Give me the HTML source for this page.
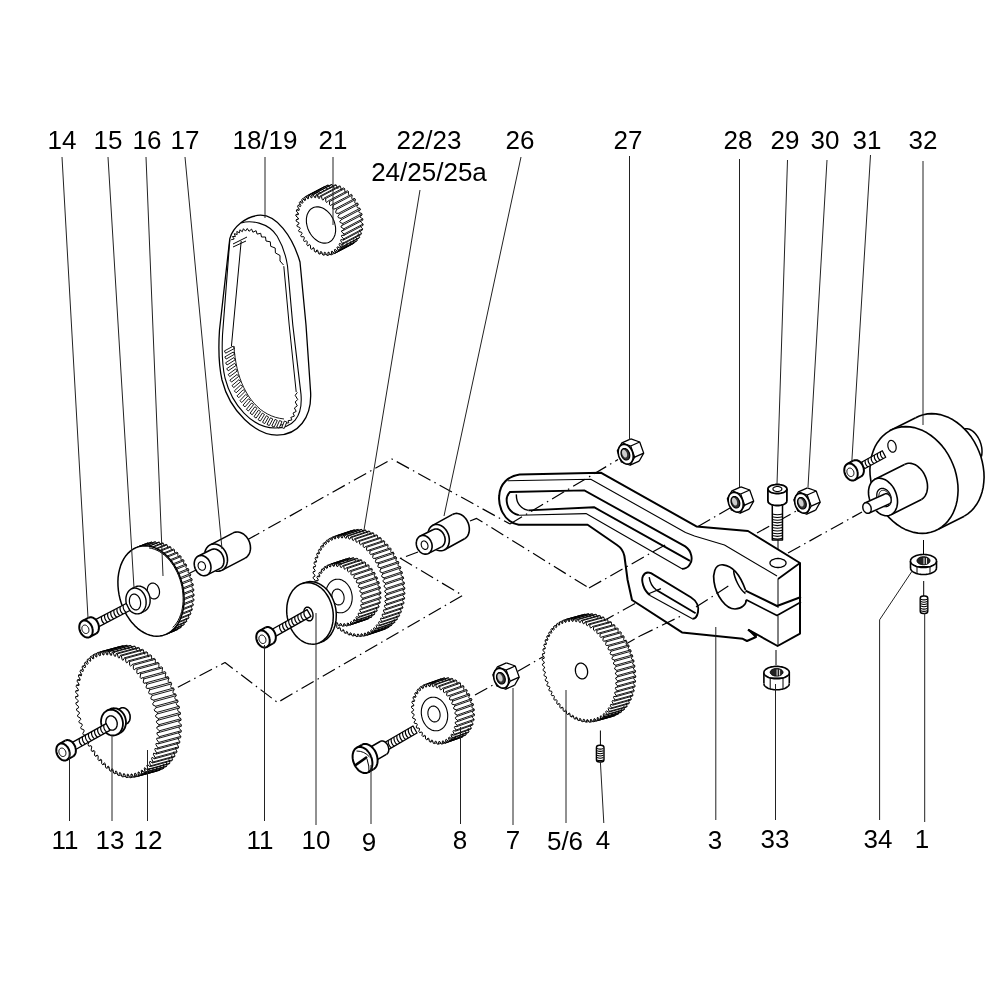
<!DOCTYPE html><html><head><meta charset="utf-8"><style>html,body{margin:0;padding:0;background:#fff;width:1000px;height:1000px;overflow:hidden;position:relative}</style></head><body><svg width="1000" height="1000" viewBox="0 0 1000 1000" style="position:absolute;left:0;top:0;will-change:transform">
<rect width="1000" height="1000" fill="#fff"/>
<polyline points="247.0,540.0 392.0,459.0 510.0,524.0" fill="none" stroke="#000" stroke-width="1.2" stroke-linejoin="round" stroke-dasharray="14 4.5 1.5 4.5"/>
<polyline points="470.0,521.0 476.6,518.4 589.0,588.0" fill="none" stroke="#000" stroke-width="1.2" stroke-linejoin="round" stroke-dasharray="14 4.5 1.5 4.5"/>
<polyline points="383.0,565.0 418.0,552.0" fill="none" stroke="#000" stroke-width="1.2" stroke-linejoin="round" stroke-dasharray="14 4.5 1.5 4.5"/>
<polyline points="400.0,558.0 462.6,595.4 277.5,702.5 225.0,662.5 172.5,690.0" fill="none" stroke="#000" stroke-width="1.2" stroke-linejoin="round" stroke-dasharray="14 4.5 1.5 4.5"/>
<polyline points="188.0,574.0 200.0,568.0" fill="none" stroke="#000" stroke-width="1.2" stroke-linejoin="round" stroke-dasharray="14 4.5 1.5 4.5"/>
<polyline points="580.0,670.5 640.0,636.0" fill="none" stroke="#000" stroke-width="1.2" stroke-linejoin="round" stroke-dasharray="14 4.5 1.5 4.5"/>
<polyline points="475.0,695.0 520.0,670.0 548.0,654.0" fill="none" stroke="#000" stroke-width="1.2" stroke-linejoin="round" stroke-dasharray="14 4.5 1.5 4.5"/>
<polyline points="757.0,533.0 798.0,510.0" fill="none" stroke="#000" stroke-width="1.2" stroke-linejoin="round" stroke-dasharray="14 4.5 1.5 4.5"/>
<line x1="778.0" y1="540.0" x2="778.0" y2="562.0" stroke="#000" stroke-width="1.0" />
<line x1="923.5" y1="540.0" x2="923.5" y2="555.0" stroke="#000" stroke-width="1.0" />
<line x1="923.7" y1="581.0" x2="923.7" y2="596.0" stroke="#000" stroke-width="1.0" />
<line x1="776.0" y1="650.0" x2="776.0" y2="665.0" stroke="#000" stroke-width="1.0" />
<line x1="600.4" y1="730.5" x2="600.4" y2="745.5" stroke="#000" stroke-width="1.0" />
<path d="M229.8,238.6 C233,227 246,216 260.4,215.2 C276,215 292,235 300,262 L306,325 L310.6,392 C312,418 298,435 277,435.2 C256,435 230,412 222,380 C218,362 218.5,345 219.5,330 Z" fill="#fff" stroke="#000" stroke-width="1.3"/>
<path d="M241.2,223 C250,220 268,222 277.2,236.2 C283,246 286,256 287.5,266 L292.8,325 L301,394.4 C303,418 292,428 275,428 C252,428 232,405 225,378 C222,365 221.8,350 222.5,335 L229.8,240" fill="none" stroke="#000" stroke-width="1.1"/>
<polyline points="231.2,239.7 234.2,239.0 232.4,236.5 235.4,236.6 234.3,233.7 237.2,234.5 236.8,231.5 239.5,232.8 239.9,229.8 242.3,231.7 243.4,228.7 245.5,231.1 247.3,228.5 249.0,231.3 251.6,229.1 252.9,232.2 256.1,230.7 257.1,234.1 260.7,233.3 261.5,237.0 265.5,237.0 266.0,241.0 270.3,241.8 270.7,246.3 275.2,248.0 275.4,252.9 280.0,255.5 280.0,261.0 283.5,265.0" fill="none" stroke="#000" stroke-width="1.0" stroke-linejoin="round" />
<polyline points="233.0,244.0 247.0,237.0" fill="none" stroke="#000" stroke-width="1.0" stroke-linejoin="round" />
<polyline points="233.0,247.0 246.0,241.0" fill="none" stroke="#000" stroke-width="1.0" stroke-linejoin="round" />
<polyline points="241.2,241.0 233.4,325.0 231.4,346.4" fill="none" stroke="#000" stroke-width="1.0" stroke-linejoin="round" />
<polyline points="283.8,266.2 289.2,325.0 296.2,392.0" fill="none" stroke="#000" stroke-width="1.0" stroke-linejoin="round" />
<polyline points="297.4,392.4 295.2,395.3 297.7,399.5 295.2,402.0 297.3,405.8 294.4,408.0 296.2,411.4 293.0,413.1 294.4,416.1 290.8,417.4 291.9,419.9 288.0,420.8 288.8,422.8 284.6,423.3 285.0,424.9 280.5,424.8 280.6,426.0" fill="none" stroke="#000" stroke-width="1.0" stroke-linejoin="round" />
<path d="M224.4,350.9l8.8,-4.7l1.2,2.3l-8.8,4.7zM224.8,356.9l8.5,-4.9l1.3,2.2l-8.5,4.9zM225.6,362.8l8.2,-5.2l1.4,2.2l-8.2,5.2zM226.7,368.7l7.9,-5.4l1.5,2.1l-7.9,5.4zM228.2,374.5l7.5,-5.6l1.5,2.1l-7.5,5.6zM229.9,380.1l7.2,-5.7l1.6,2.0l-7.2,5.7zM232.0,385.6l6.9,-5.9l1.7,2.0l-6.9,5.9zM234.3,390.9l6.5,-6.0l1.8,1.9l-6.5,6.0zM237.0,395.9l6.2,-6.2l1.8,1.8l-6.2,6.2zM239.9,400.7l5.9,-6.3l1.9,1.8l-5.9,6.3zM243.0,405.2l5.5,-6.4l2.0,1.7l-5.5,6.4zM246.4,409.4l5.2,-6.4l2.0,1.6l-5.2,6.4zM250.1,413.2l4.8,-6.5l2.1,1.6l-4.8,6.5zM254.0,416.6l4.5,-6.5l2.1,1.5l-4.5,6.5zM258.1,419.7l4.2,-6.6l2.2,1.4l-4.2,6.6zM262.5,422.3l3.9,-6.6l2.2,1.3l-3.9,6.6zM267.0,424.4l3.5,-6.6l2.3,1.2l-3.5,6.6zM271.8,426.0l3.2,-6.6l2.3,1.1l-3.2,6.6zM276.7,427.0l2.9,-6.5l2.4,1.1l-2.9,6.5zM281.8,427.5l2.6,-6.5l2.4,1.0l-2.6,6.5z" stroke="#000" stroke-width="0.9" fill="#fff"/>
<polyline points="234.0,346.0 234.4,351.8 235.1,357.4 236.0,362.9 237.1,368.3 238.4,373.4 240.0,378.4 241.8,383.2 243.8,387.7 246.1,392.0 248.5,396.0 251.2,399.8 254.0,403.2 257.1,406.4 260.3,409.3 263.8,411.8 267.5,414.0 271.3,415.8 275.4,417.3 279.6,418.3 284.0,419.0" fill="none" stroke="#000" stroke-width="0.9" stroke-linejoin="round" />
<path d="M334.4,253.6L335.2,253.1L354.2,243.1L353.4,243.6ZM335.2,253.1L334.4,249.8L353.4,239.8L354.2,243.1ZM334.4,249.8L335.1,249.3L354.1,239.3L353.4,239.8ZM337.5,251.3L338.2,250.6L357.2,240.6L356.5,241.3ZM338.2,250.6L337.0,247.4L356.0,237.4L357.2,240.6ZM337.0,247.4L337.6,246.7L356.6,236.7L356.0,237.4ZM340.1,248.2L340.7,247.4L359.7,237.4L359.1,238.2ZM340.7,247.4L339.1,244.3L358.1,234.3L359.7,237.4ZM339.1,244.3L339.5,243.4L358.5,233.4L358.1,234.3ZM342.1,244.5L342.5,243.4L361.5,233.4L361.1,234.5ZM342.5,243.4L340.6,240.6L359.6,230.6L361.5,233.4ZM340.6,240.6L340.9,239.6L359.9,229.6L359.6,230.6ZM343.4,240.1L343.7,238.9L362.7,228.9L362.4,230.1ZM343.7,238.9L341.5,236.5L360.5,226.5L362.7,228.9ZM341.5,236.5L341.6,235.4L360.6,225.4L360.5,226.5ZM344.1,235.3L344.1,234.0L363.1,224.0L363.1,225.3ZM344.1,234.0L341.7,232.0L360.7,222.0L363.1,224.0ZM341.7,232.0L341.6,230.8L360.6,220.8L360.7,222.0ZM343.9,230.1L343.8,228.8L362.8,218.8L362.9,220.1ZM343.8,228.8L341.2,227.3L360.2,217.3L362.8,218.8ZM341.2,227.3L341.0,226.1L360.0,216.1L360.2,217.3ZM341.0,226.1L343.1,224.9L362.1,214.9L360.0,216.1ZM343.1,224.9L342.8,223.5L361.8,213.5L362.1,214.9ZM342.8,223.5L340.2,222.5L359.2,212.5L361.8,213.5ZM340.2,222.5L339.8,221.3L358.8,211.3L359.2,212.5ZM339.8,221.3L341.5,219.6L360.5,209.6L358.8,211.3ZM341.5,219.6L341.0,218.3L360.0,208.3L360.5,209.6ZM341.0,218.3L338.5,217.8L357.5,207.8L360.0,208.3ZM338.5,217.8L337.9,216.6L356.9,206.6L357.5,207.8ZM337.9,216.6L339.3,214.4L358.3,204.4L356.9,206.6ZM339.3,214.4L338.7,213.2L357.7,203.2L358.3,204.4ZM338.7,213.2L336.2,213.3L355.2,203.3L357.7,203.2ZM336.2,213.3L335.6,212.2L354.6,202.2L355.2,203.3ZM335.6,212.2L336.5,209.6L355.5,199.6L354.6,202.2ZM336.5,209.6L335.8,208.5L354.8,198.5L355.5,199.6ZM335.8,208.5L333.5,209.2L352.5,199.2L354.8,198.5ZM333.5,209.2L332.7,208.2L351.7,198.2L352.5,199.2ZM332.7,208.2L333.2,205.3L352.2,195.3L351.7,198.2ZM333.2,205.3L332.4,204.3L351.4,194.3L352.2,195.3ZM330.3,205.5L329.5,204.7L348.5,194.7L349.3,195.5ZM329.5,204.7L329.5,201.6L348.5,191.6L348.5,194.7ZM329.5,201.6L328.6,200.7L347.6,190.7L348.5,191.6ZM326.8,202.5L325.9,201.8L344.9,191.8L345.8,192.5ZM325.9,201.8L325.6,198.6L344.6,188.6L344.9,191.8ZM325.6,198.6L324.5,197.9L343.5,187.9L344.6,188.6ZM323.1,200.1L322.2,199.6L341.2,189.6L342.1,190.1ZM322.2,199.6L321.4,196.3L340.4,186.3L341.2,189.6ZM321.4,196.3L320.4,195.9L339.4,185.9L340.4,186.3ZM319.4,198.5L318.4,198.2L337.4,188.2L338.4,188.5ZM318.4,198.2L317.2,195.0L336.2,185.0L337.4,188.2ZM317.2,195.0L316.2,194.8L335.2,184.8L336.2,185.0ZM315.6,197.7L314.7,197.6L333.7,187.6L334.6,187.7ZM314.7,197.6L313.1,194.5L332.1,184.5L333.7,187.6ZM313.1,194.5L312.1,194.6L331.1,184.6L332.1,184.5ZM312.0,197.7L311.1,197.8L330.1,187.8L331.0,187.7ZM311.1,197.8L309.2,195.0L328.2,185.0L330.1,187.8ZM309.2,195.0L308.3,195.3L327.3,185.3L328.2,185.0ZM308.6,198.6L307.8,198.9L326.8,188.9L327.6,188.6ZM307.8,198.9L305.6,196.4L324.6,186.4L326.8,188.9ZM304.9,200.7L302.5,198.7L321.5,188.7L323.9,190.7ZM302.4,203.3L299.9,201.8L318.9,191.8L321.4,193.3ZM300.5,206.6L297.9,205.5L316.9,195.5L319.5,196.6ZM299.1,210.4L296.6,209.9L315.6,199.9L318.1,200.4ZM298.4,214.6L295.9,214.7L314.9,204.7L317.4,204.6ZM298.4,219.2L296.1,219.9L315.1,209.9L317.4,209.2ZM307.6,245.7L309.7,244.5L328.7,234.5L326.6,235.7ZM311.4,249.3L313.2,247.5L332.2,237.5L330.4,239.3ZM315.5,252.1L316.9,249.9L335.9,239.9L334.5,242.1ZM319.6,254.1L320.6,251.5L339.6,241.5L338.6,244.1ZM323.8,255.2L324.4,252.3L343.4,242.3L342.8,245.2ZM327.9,255.4L328.0,252.3L347.0,242.3L346.9,245.4ZM331.7,254.7L331.4,251.4L350.4,241.4L350.7,244.7Z" fill="#fff" stroke="#fff" stroke-width="0.8"/>
<polyline points="353.4,243.6 354.2,243.1 353.4,239.8 354.1,239.3" fill="none" stroke="#000" stroke-width="0.9" stroke-linejoin="round" />
<polyline points="356.5,241.3 357.2,240.6 356.0,237.4 356.6,236.7" fill="none" stroke="#000" stroke-width="0.9" stroke-linejoin="round" />
<polyline points="359.1,238.2 359.7,237.4 358.1,234.3 358.5,233.4" fill="none" stroke="#000" stroke-width="0.9" stroke-linejoin="round" />
<polyline points="361.1,234.5 361.5,233.4 359.6,230.6 359.9,229.6" fill="none" stroke="#000" stroke-width="0.9" stroke-linejoin="round" />
<polyline points="362.4,230.1 362.7,228.9 360.5,226.5 360.6,225.4" fill="none" stroke="#000" stroke-width="0.9" stroke-linejoin="round" />
<polyline points="363.1,225.3 363.1,224.0 360.7,222.0 360.6,220.8" fill="none" stroke="#000" stroke-width="0.9" stroke-linejoin="round" />
<polyline points="362.9,220.1 362.8,218.8 360.2,217.3 360.0,216.1 362.1,214.9 361.8,213.5 359.2,212.5 358.8,211.3 360.5,209.6 360.0,208.3 357.5,207.8 356.9,206.6 358.3,204.4 357.7,203.2 355.2,203.3 354.6,202.2 355.5,199.6 354.8,198.5 352.5,199.2 351.7,198.2 352.2,195.3 351.4,194.3" fill="none" stroke="#000" stroke-width="0.9" stroke-linejoin="round" />
<polyline points="349.3,195.5 348.5,194.7 348.5,191.6 347.6,190.7" fill="none" stroke="#000" stroke-width="0.9" stroke-linejoin="round" />
<polyline points="345.8,192.5 344.9,191.8 344.6,188.6 343.5,187.9" fill="none" stroke="#000" stroke-width="0.9" stroke-linejoin="round" />
<polyline points="342.1,190.1 341.2,189.6 340.4,186.3 339.4,185.9" fill="none" stroke="#000" stroke-width="0.9" stroke-linejoin="round" />
<polyline points="338.4,188.5 337.4,188.2 336.2,185.0 335.2,184.8" fill="none" stroke="#000" stroke-width="0.9" stroke-linejoin="round" />
<polyline points="334.6,187.7 333.7,187.6 332.1,184.5 331.1,184.6" fill="none" stroke="#000" stroke-width="0.9" stroke-linejoin="round" />
<polyline points="331.0,187.7 330.1,187.8 328.2,185.0 327.3,185.3" fill="none" stroke="#000" stroke-width="0.9" stroke-linejoin="round" />
<polyline points="327.6,188.6 326.8,188.9 324.6,186.4" fill="none" stroke="#000" stroke-width="0.9" stroke-linejoin="round" />
<polyline points="323.9,190.7 321.5,188.7" fill="none" stroke="#000" stroke-width="0.9" stroke-linejoin="round" />
<polyline points="321.4,193.3 318.9,191.8" fill="none" stroke="#000" stroke-width="0.9" stroke-linejoin="round" />
<polyline points="319.5,196.6 316.9,195.5" fill="none" stroke="#000" stroke-width="0.9" stroke-linejoin="round" />
<polyline points="318.1,200.4 315.6,199.9" fill="none" stroke="#000" stroke-width="0.9" stroke-linejoin="round" />
<polyline points="317.4,204.6 314.9,204.7" fill="none" stroke="#000" stroke-width="0.9" stroke-linejoin="round" />
<polyline points="317.4,209.2 315.1,209.9" fill="none" stroke="#000" stroke-width="0.9" stroke-linejoin="round" />
<polyline points="326.6,235.7 328.7,234.5" fill="none" stroke="#000" stroke-width="0.9" stroke-linejoin="round" />
<polyline points="330.4,239.3 332.2,237.5" fill="none" stroke="#000" stroke-width="0.9" stroke-linejoin="round" />
<polyline points="334.5,242.1 335.9,239.9" fill="none" stroke="#000" stroke-width="0.9" stroke-linejoin="round" />
<polyline points="338.6,244.1 339.6,241.5" fill="none" stroke="#000" stroke-width="0.9" stroke-linejoin="round" />
<polyline points="342.8,245.2 343.4,242.3" fill="none" stroke="#000" stroke-width="0.9" stroke-linejoin="round" />
<polyline points="346.9,245.4 347.0,242.3" fill="none" stroke="#000" stroke-width="0.9" stroke-linejoin="round" />
<polyline points="350.7,244.7 350.4,241.4" fill="none" stroke="#000" stroke-width="0.9" stroke-linejoin="round" />
<path d="M334.4,253.6l19.0,-10.0M335.2,253.1l19.0,-10.0M337.5,251.3l19.0,-10.0M338.2,250.6l19.0,-10.0M340.1,248.2l19.0,-10.0M340.7,247.4l19.0,-10.0M342.1,244.5l19.0,-10.0M342.5,243.4l19.0,-10.0M343.4,240.1l19.0,-10.0M343.7,238.9l19.0,-10.0M344.1,235.3l19.0,-10.0M344.1,234.0l19.0,-10.0M343.9,230.1l19.0,-10.0M343.8,228.8l19.0,-10.0M343.1,224.9l19.0,-10.0M342.8,223.5l19.0,-10.0M341.5,219.6l19.0,-10.0M341.0,218.3l19.0,-10.0M339.3,214.4l19.0,-10.0M338.7,213.2l19.0,-10.0M336.5,209.6l19.0,-10.0M335.8,208.5l19.0,-10.0M333.2,205.3l19.0,-10.0M332.4,204.3l19.0,-10.0M329.5,201.6l19.0,-10.0M328.6,200.7l19.0,-10.0M325.6,198.6l19.0,-10.0M324.5,197.9l19.0,-10.0M321.4,196.3l19.0,-10.0M320.4,195.9l19.0,-10.0M317.2,195.0l19.0,-10.0M316.2,194.8l19.0,-10.0M313.1,194.5l19.0,-10.0M312.1,194.6l19.0,-10.0M309.2,195.0l19.0,-10.0M308.3,195.3l19.0,-10.0M305.6,196.4l19.0,-10.0M302.5,198.7l19.0,-10.0M299.9,201.8l19.0,-10.0M297.9,205.5l19.0,-10.0M296.6,209.9l19.0,-10.0M295.9,214.7l19.0,-10.0M296.1,219.9l19.0,-10.0M307.6,245.7l19.0,-10.0M311.4,249.3l19.0,-10.0M315.5,252.1l19.0,-10.0M319.6,254.1l19.0,-10.0M323.8,255.2l19.0,-10.0M327.9,255.4l19.0,-10.0M331.7,254.7l19.0,-10.0" fill="none" stroke="#000" stroke-width="0.9"/>
<polygon points="332.2,251.1 334.4,253.6 335.2,253.1 334.4,249.8 335.1,249.3 337.5,251.3 338.2,250.6 337.0,247.4 337.6,246.7 340.1,248.2 340.7,247.4 339.1,244.3 339.5,243.4 342.1,244.5 342.5,243.4 340.6,240.6 340.9,239.6 343.4,240.1 343.7,238.9 341.5,236.5 341.6,235.4 344.1,235.3 344.1,234.0 341.7,232.0 341.6,230.8 343.9,230.1 343.8,228.8 341.2,227.3 341.0,226.1 343.1,224.9 342.8,223.5 340.2,222.5 339.8,221.3 341.5,219.6 341.0,218.3 338.5,217.8 337.9,216.6 339.3,214.4 338.7,213.2 336.2,213.3 335.6,212.2 336.5,209.6 335.8,208.5 333.5,209.2 332.7,208.2 333.2,205.3 332.4,204.3 330.3,205.5 329.5,204.7 329.5,201.6 328.6,200.7 326.8,202.5 325.9,201.8 325.6,198.6 324.5,197.9 323.1,200.1 322.2,199.6 321.4,196.3 320.4,195.9 319.4,198.5 318.4,198.2 317.2,195.0 316.2,194.8 315.6,197.7 314.7,197.6 313.1,194.5 312.1,194.6 312.0,197.7 311.1,197.8 309.2,195.0 308.3,195.3 308.6,198.6 307.8,198.9 305.6,196.4 304.8,196.9 305.6,200.2 304.9,200.7 302.5,198.7 301.8,199.4 303.0,202.6 302.4,203.3 299.9,201.8 299.3,202.6 300.9,205.7 300.5,206.6 297.9,205.5 297.5,206.6 299.4,209.4 299.1,210.4 296.6,209.9 296.3,211.1 298.5,213.5 298.4,214.6 295.9,214.7 295.9,216.0 298.3,218.0 298.4,219.2 296.1,219.9 296.2,221.2 298.8,222.7 299.0,223.9 296.9,225.1 297.2,226.5 299.8,227.5 300.2,228.7 298.5,230.4 299.0,231.7 301.5,232.2 302.1,233.4 300.7,235.6 301.3,236.8 303.8,236.7 304.4,237.8 303.5,240.4 304.2,241.5 306.5,240.8 307.3,241.8 306.8,244.7 307.6,245.7 309.7,244.5 310.5,245.3 310.5,248.4 311.4,249.3 313.2,247.5 314.1,248.2 314.4,251.4 315.5,252.1 316.9,249.9 317.8,250.4 318.6,253.7 319.6,254.1 320.6,251.5 321.6,251.8 322.8,255.0 323.8,255.2 324.4,252.3 325.3,252.4 326.9,255.5 327.9,255.4 328.0,252.3 328.9,252.2 330.8,255.0 331.7,254.7 331.4,251.4" fill="#fff" stroke="#000" stroke-width="1.0" stroke-linejoin="round" />
<polygon points="329.0,242.2 330.2,241.6 331.3,240.8 332.2,239.8 333.1,238.7 333.8,237.5 334.5,236.1 335.0,234.7 335.3,233.1 335.6,231.5 335.6,229.8 335.6,228.1 335.4,226.3 335.0,224.5 334.6,222.8 334.0,221.0 333.2,219.3 332.4,217.6 331.4,216.0 330.4,214.5 329.2,213.1 328.0,211.9 326.7,210.7 325.4,209.7 324.0,208.8 322.6,208.1 321.1,207.5 319.7,207.1 318.3,206.9 316.9,206.9 315.5,207.0 314.2,207.3 313.0,207.8 311.8,208.4 310.7,209.2 309.8,210.2 308.9,211.3 308.2,212.5 307.5,213.9 307.0,215.3 306.7,216.9 306.4,218.5 306.4,220.2 306.4,221.9 306.6,223.7 307.0,225.5 307.4,227.2 308.0,229.0 308.8,230.7 309.6,232.4 310.6,234.0 311.6,235.5 312.8,236.9 314.0,238.1 315.3,239.3 316.6,240.3 318.0,241.2 319.4,241.9 320.9,242.5 322.3,242.9 323.7,243.1 325.1,243.1 326.5,243.0 327.8,242.7" fill="#fff" stroke="#000" stroke-width="1.1" stroke-linejoin="round" />
<path d="M164.7,634.9L164.8,632.4L174.8,628.4L174.7,630.9ZM164.8,632.4L165.6,632.0L175.6,628.0L174.8,628.4ZM167.3,633.8L168.1,633.3L178.1,629.3L177.3,629.8ZM168.1,633.3L168.0,630.7L178.0,626.7L178.1,629.3ZM168.0,630.7L168.8,630.3L178.8,626.3L178.0,626.7ZM170.5,631.8L171.3,631.2L181.3,627.2L180.5,627.8ZM171.3,631.2L171.0,628.6L181.0,624.6L181.3,627.2ZM171.0,628.6L171.7,628.0L181.7,624.0L181.0,624.6ZM173.5,629.2L174.2,628.5L184.2,624.5L183.5,625.2ZM174.2,628.5L173.7,625.9L183.7,621.9L184.2,624.5ZM173.7,625.9L174.3,625.2L184.3,621.2L183.7,621.9ZM176.1,626.2L176.8,625.3L186.8,621.3L186.1,622.2ZM176.8,625.3L176.0,622.8L186.0,618.8L186.8,621.3ZM176.0,622.8L176.6,621.9L186.6,617.9L186.0,618.8ZM178.5,622.6L179.0,621.7L189.0,617.7L188.5,618.6ZM179.0,621.7L178.1,619.2L188.1,615.2L189.0,617.7ZM178.1,619.2L178.5,618.3L188.5,614.3L188.1,615.2ZM180.4,618.7L180.9,617.6L190.9,613.6L190.4,614.7ZM180.9,617.6L179.8,615.3L189.8,611.3L190.9,613.6ZM179.8,615.3L180.1,614.2L190.1,610.2L189.8,611.3ZM182.0,614.4L182.3,613.2L192.3,609.2L192.0,610.4ZM182.3,613.2L181.0,611.0L191.0,607.0L192.3,609.2ZM181.0,611.0L181.3,609.9L191.3,605.9L191.0,607.0ZM183.1,609.7L183.4,608.5L193.4,604.5L193.1,605.7ZM183.4,608.5L181.9,606.5L191.9,602.5L193.4,604.5ZM181.9,606.5L182.1,605.3L192.1,601.3L191.9,602.5ZM183.9,604.8L184.0,603.5L194.0,599.5L193.9,600.8ZM184.0,603.5L182.4,601.7L192.4,597.7L194.0,599.5ZM182.4,601.7L182.4,600.5L192.4,596.5L192.4,597.7ZM182.4,600.5L184.1,599.7L194.1,595.7L192.4,596.5ZM184.1,599.7L184.1,598.4L194.1,594.4L194.1,595.7ZM184.1,598.4L182.4,596.8L192.4,592.8L194.1,594.4ZM182.4,596.8L182.4,595.6L192.4,591.6L192.4,592.8ZM182.4,595.6L183.9,594.5L193.9,590.5L192.4,591.6ZM183.9,594.5L183.8,593.2L193.8,589.2L193.9,590.5ZM183.8,593.2L182.0,591.8L192.0,587.8L193.8,589.2ZM182.0,591.8L181.9,590.6L191.9,586.6L192.0,587.8ZM181.9,590.6L183.3,589.2L193.3,585.2L191.9,586.6ZM183.3,589.2L183.1,587.9L193.1,583.9L193.3,585.2ZM183.1,587.9L181.2,586.8L191.2,582.8L193.1,583.9ZM181.2,586.8L181.0,585.6L191.0,581.6L191.2,582.8ZM181.0,585.6L182.2,584.0L192.2,580.0L191.0,581.6ZM182.2,584.0L181.9,582.7L191.9,578.7L192.2,580.0ZM181.9,582.7L180.0,581.9L190.0,577.9L191.9,578.7ZM180.0,581.9L179.7,580.7L189.7,576.7L190.0,577.9ZM179.7,580.7L180.8,578.9L190.8,574.9L189.7,576.7ZM180.8,578.9L180.3,577.6L190.3,573.6L190.8,574.9ZM180.3,577.6L178.4,577.1L188.4,573.1L190.3,573.6ZM178.4,577.1L178.0,575.9L188.0,571.9L188.4,573.1ZM178.0,575.9L178.9,573.9L188.9,569.9L188.0,571.9ZM178.9,573.9L178.3,572.7L188.3,568.7L188.9,569.9ZM178.3,572.7L176.4,572.5L186.4,568.5L188.3,568.7ZM176.4,572.5L175.9,571.4L185.9,567.4L186.4,568.5ZM175.9,571.4L176.6,569.2L186.6,565.2L185.9,567.4ZM176.6,569.2L176.0,568.0L186.0,564.0L186.6,565.2ZM176.0,568.0L174.1,568.1L184.1,564.1L186.0,564.0ZM174.1,568.1L173.5,567.1L183.5,563.1L184.1,564.1ZM173.5,567.1L174.0,564.7L184.0,560.7L183.5,563.1ZM174.0,564.7L173.3,563.7L183.3,559.7L184.0,560.7ZM173.3,563.7L171.5,564.0L181.5,560.0L183.3,559.7ZM171.5,564.0L170.8,563.1L180.8,559.1L181.5,560.0ZM170.8,563.1L171.1,560.6L181.1,556.6L180.8,559.1ZM171.1,560.6L170.3,559.7L180.3,555.7L181.1,556.6ZM170.3,559.7L168.6,560.3L178.6,556.3L180.3,555.7ZM168.6,560.3L167.8,559.5L177.8,555.5L178.6,556.3ZM167.8,559.5L167.9,556.9L177.9,552.9L177.8,555.5ZM167.9,556.9L167.0,556.1L177.0,552.1L177.9,552.9ZM165.4,557.1L164.6,556.3L174.6,552.3L175.4,553.1ZM164.6,556.3L164.4,553.7L174.4,549.7L174.6,552.3ZM164.4,553.7L163.6,553.0L173.6,549.0L174.4,549.7ZM162.1,554.2L161.2,553.6L171.2,549.6L172.1,550.2ZM161.2,553.6L160.8,551.0L170.8,547.0L171.2,549.6ZM160.8,551.0L159.9,550.4L169.9,546.4L170.8,547.0ZM158.6,551.9L157.7,551.4L167.7,547.4L168.6,547.9ZM157.7,551.4L157.1,548.8L167.1,544.8L167.7,547.4ZM157.1,548.8L156.1,548.4L166.1,544.4L167.1,544.8ZM155.0,550.1L154.1,549.7L164.1,545.7L165.0,546.1ZM154.1,549.7L153.3,547.2L163.3,543.2L164.1,545.7ZM153.3,547.2L152.3,546.9L162.3,542.9L163.3,543.2ZM151.3,548.9L150.4,548.6L160.4,544.6L161.3,544.9ZM150.4,548.6L149.4,546.2L159.4,542.2L160.4,544.6ZM149.4,546.2L148.5,546.1L158.5,542.1L159.4,542.2ZM147.7,548.2L146.8,548.1L156.8,544.1L157.7,544.2ZM146.8,548.1L145.6,545.8L155.6,541.8L156.8,544.1ZM145.6,545.8L144.6,545.8L154.6,541.8L155.6,541.8ZM144.1,548.1L143.2,548.2L153.2,544.2L154.1,544.1ZM143.2,548.2L141.8,546.0L151.8,542.0L153.2,544.2ZM141.8,546.0L140.9,546.2L150.9,542.2L151.8,542.0ZM140.5,548.6L139.7,548.8L149.7,544.8L150.5,544.6ZM139.7,548.8L138.2,546.8L148.2,542.8L149.7,544.8ZM138.2,546.8L137.3,547.1L147.3,543.1L148.2,542.8ZM136.4,550.0L134.7,548.2L144.7,544.2L146.4,546.0ZM133.2,551.7L131.5,550.2L141.5,546.2L143.2,547.7ZM130.3,554.0L128.5,552.8L138.5,548.8L140.3,550.0ZM127.7,556.8L125.9,555.8L135.9,551.8L137.7,552.8ZM125.4,560.1L123.5,559.4L133.5,555.4L135.4,556.1ZM123.5,563.7L121.6,563.3L131.6,559.3L133.5,559.7ZM121.9,567.8L120.0,567.6L130.0,563.6L131.9,563.8ZM120.7,572.1L118.9,572.3L128.9,568.3L130.7,568.1ZM119.9,576.7L118.1,577.2L128.1,573.2L129.9,572.7ZM135.0,625.9L136.6,624.9L146.6,620.9L145.0,621.9ZM138.4,629.0L139.9,627.8L149.9,623.8L148.4,625.0ZM142.1,631.6L143.4,630.1L153.4,626.1L152.1,627.6ZM145.9,633.6L147.0,631.9L157.0,627.9L155.9,629.6ZM149.7,635.1L150.7,633.1L160.7,629.1L159.7,631.1ZM153.5,635.9L154.3,633.8L164.3,629.8L163.5,631.9ZM157.4,636.2L157.9,633.9L167.9,629.9L167.4,632.2ZM161.1,635.8L161.5,633.4L171.5,629.4L171.1,631.8Z" fill="#fff" stroke="#fff" stroke-width="0.8"/>
<polyline points="174.7,630.9 174.8,628.4 175.6,628.0" fill="none" stroke="#000" stroke-width="0.9" stroke-linejoin="round" />
<polyline points="177.3,629.8 178.1,629.3 178.0,626.7 178.8,626.3" fill="none" stroke="#000" stroke-width="0.9" stroke-linejoin="round" />
<polyline points="180.5,627.8 181.3,627.2 181.0,624.6 181.7,624.0" fill="none" stroke="#000" stroke-width="0.9" stroke-linejoin="round" />
<polyline points="183.5,625.2 184.2,624.5 183.7,621.9 184.3,621.2" fill="none" stroke="#000" stroke-width="0.9" stroke-linejoin="round" />
<polyline points="186.1,622.2 186.8,621.3 186.0,618.8 186.6,617.9" fill="none" stroke="#000" stroke-width="0.9" stroke-linejoin="round" />
<polyline points="188.5,618.6 189.0,617.7 188.1,615.2 188.5,614.3" fill="none" stroke="#000" stroke-width="0.9" stroke-linejoin="round" />
<polyline points="190.4,614.7 190.9,613.6 189.8,611.3 190.1,610.2" fill="none" stroke="#000" stroke-width="0.9" stroke-linejoin="round" />
<polyline points="192.0,610.4 192.3,609.2 191.0,607.0 191.3,605.9" fill="none" stroke="#000" stroke-width="0.9" stroke-linejoin="round" />
<polyline points="193.1,605.7 193.4,604.5 191.9,602.5 192.1,601.3" fill="none" stroke="#000" stroke-width="0.9" stroke-linejoin="round" />
<polyline points="193.9,600.8 194.0,599.5 192.4,597.7 192.4,596.5 194.1,595.7 194.1,594.4 192.4,592.8 192.4,591.6 193.9,590.5 193.8,589.2 192.0,587.8 191.9,586.6 193.3,585.2 193.1,583.9 191.2,582.8 191.0,581.6 192.2,580.0 191.9,578.7 190.0,577.9 189.7,576.7 190.8,574.9 190.3,573.6 188.4,573.1 188.0,571.9 188.9,569.9 188.3,568.7 186.4,568.5 185.9,567.4 186.6,565.2 186.0,564.0 184.1,564.1 183.5,563.1 184.0,560.7 183.3,559.7 181.5,560.0 180.8,559.1 181.1,556.6 180.3,555.7 178.6,556.3 177.8,555.5 177.9,552.9 177.0,552.1" fill="none" stroke="#000" stroke-width="0.9" stroke-linejoin="round" />
<polyline points="175.4,553.1 174.6,552.3 174.4,549.7 173.6,549.0" fill="none" stroke="#000" stroke-width="0.9" stroke-linejoin="round" />
<polyline points="172.1,550.2 171.2,549.6 170.8,547.0 169.9,546.4" fill="none" stroke="#000" stroke-width="0.9" stroke-linejoin="round" />
<polyline points="168.6,547.9 167.7,547.4 167.1,544.8 166.1,544.4" fill="none" stroke="#000" stroke-width="0.9" stroke-linejoin="round" />
<polyline points="165.0,546.1 164.1,545.7 163.3,543.2 162.3,542.9" fill="none" stroke="#000" stroke-width="0.9" stroke-linejoin="round" />
<polyline points="161.3,544.9 160.4,544.6 159.4,542.2 158.5,542.1" fill="none" stroke="#000" stroke-width="0.9" stroke-linejoin="round" />
<polyline points="157.7,544.2 156.8,544.1 155.6,541.8 154.6,541.8" fill="none" stroke="#000" stroke-width="0.9" stroke-linejoin="round" />
<polyline points="154.1,544.1 153.2,544.2 151.8,542.0 150.9,542.2" fill="none" stroke="#000" stroke-width="0.9" stroke-linejoin="round" />
<polyline points="150.5,544.6 149.7,544.8 148.2,542.8 147.3,543.1" fill="none" stroke="#000" stroke-width="0.9" stroke-linejoin="round" />
<polyline points="146.4,546.0 144.7,544.2" fill="none" stroke="#000" stroke-width="0.9" stroke-linejoin="round" />
<polyline points="143.2,547.7 141.5,546.2" fill="none" stroke="#000" stroke-width="0.9" stroke-linejoin="round" />
<polyline points="140.3,550.0 138.5,548.8" fill="none" stroke="#000" stroke-width="0.9" stroke-linejoin="round" />
<polyline points="137.7,552.8 135.9,551.8" fill="none" stroke="#000" stroke-width="0.9" stroke-linejoin="round" />
<polyline points="135.4,556.1 133.5,555.4" fill="none" stroke="#000" stroke-width="0.9" stroke-linejoin="round" />
<polyline points="133.5,559.7 131.6,559.3" fill="none" stroke="#000" stroke-width="0.9" stroke-linejoin="round" />
<polyline points="131.9,563.8 130.0,563.6" fill="none" stroke="#000" stroke-width="0.9" stroke-linejoin="round" />
<polyline points="130.7,568.1 128.9,568.3" fill="none" stroke="#000" stroke-width="0.9" stroke-linejoin="round" />
<polyline points="129.9,572.7 128.1,573.2" fill="none" stroke="#000" stroke-width="0.9" stroke-linejoin="round" />
<polyline points="145.0,621.9 146.6,620.9" fill="none" stroke="#000" stroke-width="0.9" stroke-linejoin="round" />
<polyline points="148.4,625.0 149.9,623.8" fill="none" stroke="#000" stroke-width="0.9" stroke-linejoin="round" />
<polyline points="152.1,627.6 153.4,626.1" fill="none" stroke="#000" stroke-width="0.9" stroke-linejoin="round" />
<polyline points="155.9,629.6 157.0,627.9" fill="none" stroke="#000" stroke-width="0.9" stroke-linejoin="round" />
<polyline points="159.7,631.1 160.7,629.1" fill="none" stroke="#000" stroke-width="0.9" stroke-linejoin="round" />
<polyline points="163.5,631.9 164.3,629.8" fill="none" stroke="#000" stroke-width="0.9" stroke-linejoin="round" />
<polyline points="167.4,632.2 167.9,629.9" fill="none" stroke="#000" stroke-width="0.9" stroke-linejoin="round" />
<polyline points="171.1,631.8 171.5,629.4" fill="none" stroke="#000" stroke-width="0.9" stroke-linejoin="round" />
<path d="M164.7,634.9l10.0,-4.0M167.3,633.8l10.0,-4.0M168.1,633.3l10.0,-4.0M170.5,631.8l10.0,-4.0M171.3,631.2l10.0,-4.0M173.5,629.2l10.0,-4.0M174.2,628.5l10.0,-4.0M176.1,626.2l10.0,-4.0M176.8,625.3l10.0,-4.0M178.5,622.6l10.0,-4.0M179.0,621.7l10.0,-4.0M180.4,618.7l10.0,-4.0M180.9,617.6l10.0,-4.0M182.0,614.4l10.0,-4.0M182.3,613.2l10.0,-4.0M183.1,609.7l10.0,-4.0M183.4,608.5l10.0,-4.0M183.9,604.8l10.0,-4.0M184.0,603.5l10.0,-4.0M184.1,599.7l10.0,-4.0M184.1,598.4l10.0,-4.0M183.9,594.5l10.0,-4.0M183.8,593.2l10.0,-4.0M183.3,589.2l10.0,-4.0M183.1,587.9l10.0,-4.0M182.2,584.0l10.0,-4.0M181.9,582.7l10.0,-4.0M180.8,578.9l10.0,-4.0M180.3,577.6l10.0,-4.0M178.9,573.9l10.0,-4.0M178.3,572.7l10.0,-4.0M176.6,569.2l10.0,-4.0M176.0,568.0l10.0,-4.0M174.0,564.7l10.0,-4.0M173.3,563.7l10.0,-4.0M171.1,560.6l10.0,-4.0M170.3,559.7l10.0,-4.0M167.9,556.9l10.0,-4.0M167.0,556.1l10.0,-4.0M164.4,553.7l10.0,-4.0M163.6,553.0l10.0,-4.0M160.8,551.0l10.0,-4.0M159.9,550.4l10.0,-4.0M157.1,548.8l10.0,-4.0M156.1,548.4l10.0,-4.0M153.3,547.2l10.0,-4.0M152.3,546.9l10.0,-4.0M149.4,546.2l10.0,-4.0M148.5,546.1l10.0,-4.0M145.6,545.8l10.0,-4.0M144.6,545.8l10.0,-4.0M141.8,546.0l10.0,-4.0M140.9,546.2l10.0,-4.0M138.2,546.8l10.0,-4.0M137.3,547.1l10.0,-4.0M134.7,548.2l10.0,-4.0M131.5,550.2l10.0,-4.0M128.5,552.8l10.0,-4.0M125.9,555.8l10.0,-4.0M123.5,559.4l10.0,-4.0M121.6,563.3l10.0,-4.0M120.0,567.6l10.0,-4.0M118.9,572.3l10.0,-4.0M118.1,577.2l10.0,-4.0M135.0,625.9l10.0,-4.0M138.4,629.0l10.0,-4.0M142.1,631.6l10.0,-4.0M145.9,633.6l10.0,-4.0M149.7,635.1l10.0,-4.0M153.5,635.9l10.0,-4.0M157.4,636.2l10.0,-4.0M161.1,635.8l10.0,-4.0" fill="none" stroke="#000" stroke-width="0.9"/>
<polygon points="162.9,635.4 165.9,634.4 168.7,633.0 171.4,631.1 173.8,628.9 176.1,626.3 178.1,623.3 179.8,620.1 181.3,616.6 182.4,612.8 183.3,608.8 183.9,604.6 184.1,600.4 184.0,596.0 183.6,591.5 182.9,587.1 181.9,582.7 180.6,578.4 179.0,574.2 177.1,570.2 175.0,566.3 172.6,562.8 170.1,559.4 167.3,556.4 164.4,553.7 161.4,551.4 158.3,549.5 155.1,547.9 151.8,546.8 148.6,546.1 145.4,545.8 142.2,546.0 139.1,546.6 136.1,547.6 133.3,549.0 130.6,550.9 128.2,553.1 125.9,555.7 123.9,558.7 122.2,561.9 120.7,565.4 119.6,569.2 118.7,573.2 118.1,577.4 117.9,581.6 118.0,586.0 118.4,590.5 119.1,594.9 120.1,599.3 121.4,603.6 123.0,607.8 124.9,611.8 127.0,615.7 129.4,619.2 131.9,622.6 134.7,625.6 137.6,628.3 140.6,630.6 143.7,632.5 146.9,634.1 150.2,635.2 153.4,635.9 156.6,636.2 159.8,636.0" fill="#fff" stroke="#000" stroke-width="1.5" stroke-linejoin="round" />
<polyline points="172.8,627.4 174.7,625.4 176.5,623.1 178.1,620.5 179.4,617.8 180.6,614.8 181.6,611.7 182.3,608.3 182.8,604.9 183.1,601.3 183.1,597.7 182.9,594.0 182.5,590.3 181.9,586.6 181.0,582.9 179.9,579.2 178.6,575.7 177.1,572.2 175.4,569.0 173.6,565.8 171.5,562.9 169.4,560.1 167.1,557.6 164.7,555.4 162.2,553.4 159.6,551.7 157.0,550.3 154.3,549.2 151.7,548.4 149.0,547.9" fill="none" stroke="#000" stroke-width="1.0" stroke-linejoin="round" />
<polygon points="155.1,598.8 155.6,598.7 156.2,598.4 156.7,598.1 157.2,597.8 157.6,597.3 158.0,596.8 158.4,596.3 158.7,595.7 159.0,595.0 159.2,594.3 159.4,593.6 159.5,592.8 159.5,592.1 159.5,591.3 159.4,590.5 159.3,589.8 159.1,589.0 158.8,588.2 158.5,587.5 158.2,586.9 157.8,586.2 157.4,585.6 156.9,585.1 156.4,584.6 155.8,584.2 155.3,583.8 154.7,583.5 154.1,583.3 153.5,583.1 152.9,583.1 152.3,583.1 151.7,583.2 151.2,583.3 150.6,583.6 150.1,583.9 149.6,584.2 149.2,584.7 148.8,585.2 148.4,585.7 148.1,586.3 147.8,587.0 147.6,587.7 147.4,588.4 147.3,589.2 147.3,589.9 147.3,590.7 147.4,591.5 147.5,592.2 147.7,593.0 148.0,593.8 148.3,594.5 148.6,595.1 149.0,595.8 149.4,596.4 149.9,596.9 150.4,597.4 151.0,597.8 151.5,598.2 152.1,598.5 152.7,598.7 153.3,598.9 153.9,598.9 154.5,598.9" fill="#fff" stroke="#000" stroke-width="1.2" stroke-linejoin="round" />
<path d="M140.6,613.1L141.4,612.6L145.4,610.6L144.6,611.1ZM141.4,612.6L142.2,612.0L146.2,610.0L145.4,610.6ZM142.2,612.0L143.0,611.2L147.0,609.2L146.2,610.0ZM143.0,611.2L143.7,610.4L147.7,608.4L147.0,609.2ZM143.7,610.4L144.3,609.5L148.3,607.5L147.7,608.4ZM144.3,609.5L144.8,608.5L148.8,606.5L148.3,607.5ZM144.8,608.5L145.3,607.5L149.3,605.5L148.8,606.5ZM145.3,607.5L145.6,606.3L149.6,604.3L149.3,605.5ZM145.6,606.3L145.9,605.2L149.9,603.2L149.6,604.3ZM145.9,605.2L146.1,603.9L150.1,601.9L149.9,603.2ZM146.1,603.9L146.1,602.7L150.1,600.7L150.1,601.9ZM146.1,602.7L146.1,601.4L150.1,599.4L150.1,600.7ZM146.1,601.4L146.0,600.2L150.0,598.2L150.1,599.4ZM146.0,600.2L145.8,598.9L149.8,596.9L150.0,598.2ZM145.8,598.9L145.5,597.7L149.5,595.7L149.8,596.9ZM145.5,597.7L145.1,596.5L149.1,594.5L149.5,595.7ZM145.1,596.5L144.6,595.3L148.6,593.3L149.1,594.5ZM144.6,595.3L144.0,594.2L148.0,592.2L148.6,593.3ZM144.0,594.2L143.4,593.2L147.4,591.2L148.0,592.2ZM143.4,593.2L142.6,592.2L146.6,590.2L147.4,591.2ZM142.6,592.2L141.8,591.3L145.8,589.3L146.6,590.2ZM141.8,591.3L141.0,590.5L145.0,588.5L145.8,589.3ZM141.0,590.5L140.1,589.9L144.1,587.9L145.0,588.5ZM140.1,589.9L139.2,589.3L143.2,587.3L144.1,587.9ZM139.2,589.3L138.2,588.8L142.2,586.8L143.2,587.3ZM138.2,588.8L137.2,588.5L141.2,586.5L142.2,586.8ZM137.2,588.5L136.3,588.2L140.3,586.2L141.2,586.5ZM136.3,588.2L135.3,588.1L139.3,586.1L140.3,586.2ZM135.3,588.1L134.3,588.1L138.3,586.1L139.3,586.1ZM134.3,588.1L133.3,588.3L137.3,586.3L138.3,586.1ZM133.3,588.3L132.4,588.5L136.4,586.5L137.3,586.3ZM132.4,588.5L131.4,588.9L135.4,586.9L136.4,586.5Z" fill="#fff" stroke="#fff" stroke-width="0.8"/>
<polyline points="144.6,611.1 145.4,610.6 146.2,610.0 147.0,609.2 147.7,608.4 148.3,607.5 148.8,606.5 149.3,605.5 149.6,604.3 149.9,603.2 150.1,601.9 150.1,600.7 150.1,599.4 150.0,598.2 149.8,596.9 149.5,595.7 149.1,594.5 148.6,593.3 148.0,592.2 147.4,591.2 146.6,590.2 145.8,589.3 145.0,588.5 144.1,587.9 143.2,587.3 142.2,586.8 141.2,586.5 140.3,586.2 139.3,586.1 138.3,586.1 137.3,586.3 136.4,586.5 135.4,586.9" fill="none" stroke="#000" stroke-width="1.4" stroke-linejoin="round" />
<path d="M140.6,613.1l4.0,-2.0M131.4,588.9l4.0,-2.0" fill="none" stroke="#000" stroke-width="1.4"/>
<polygon points="138.7,613.7 139.6,613.5 140.6,613.1 141.4,612.6 142.2,612.0 143.0,611.2 143.7,610.4 144.3,609.5 144.8,608.5 145.3,607.5 145.6,606.3 145.9,605.2 146.1,603.9 146.1,602.7 146.1,601.4 146.0,600.2 145.8,598.9 145.5,597.7 145.1,596.5 144.6,595.3 144.0,594.2 143.4,593.2 142.6,592.2 141.8,591.3 141.0,590.5 140.1,589.9 139.2,589.3 138.2,588.8 137.2,588.5 136.3,588.2 135.3,588.1 134.3,588.1 133.3,588.3 132.4,588.5 131.4,588.9 130.6,589.4 129.8,590.0 129.0,590.8 128.3,591.6 127.7,592.5 127.2,593.5 126.7,594.5 126.4,595.7 126.1,596.8 125.9,598.1 125.9,599.3 125.9,600.6 126.0,601.8 126.2,603.1 126.5,604.3 126.9,605.5 127.4,606.7 128.0,607.8 128.6,608.8 129.4,609.8 130.2,610.7 131.0,611.5 131.9,612.1 132.8,612.7 133.8,613.2 134.8,613.5 135.7,613.8 136.7,613.9 137.7,613.9" fill="#fff" stroke="#000" stroke-width="1.4" stroke-linejoin="round" />
<polygon points="136.7,609.8 137.2,609.7 137.7,609.5 138.2,609.2 138.6,608.8 139.0,608.4 139.4,607.9 139.7,607.3 140.0,606.7 140.2,606.1 140.4,605.4 140.5,604.7 140.6,603.9 140.6,603.2 140.6,602.4 140.5,601.6 140.4,600.9 140.2,600.1 140.0,599.4 139.7,598.6 139.3,597.9 139.0,597.3 138.5,596.7 138.1,596.2 137.6,595.7 137.1,595.2 136.6,594.9 136.1,594.6 135.5,594.3 135.0,594.2 134.4,594.1 133.9,594.1 133.3,594.2 132.8,594.3 132.3,594.5 131.8,594.8 131.4,595.2 131.0,595.6 130.6,596.1 130.3,596.7 130.0,597.3 129.8,597.9 129.6,598.6 129.5,599.3 129.4,600.1 129.4,600.8 129.4,601.6 129.5,602.4 129.6,603.1 129.8,603.9 130.0,604.6 130.3,605.4 130.7,606.1 131.0,606.7 131.5,607.3 131.9,607.8 132.4,608.3 132.9,608.8 133.4,609.1 133.9,609.4 134.5,609.7 135.0,609.8 135.6,609.9 136.1,609.9" fill="#fff" stroke="#000" stroke-width="1.2" stroke-linejoin="round" />
<polygon points="92.8,629.9 129.8,610.5 126.2,603.5 89.2,622.9" fill="#fff" stroke="#000" stroke-width="1.3" stroke-linejoin="round" />
<path d="M101.5,616.5Q100.9,621.0 104.4,623.7M104.6,614.9Q104.0,619.3 107.5,622.1M107.7,613.3Q107.1,617.7 110.6,620.5M110.8,611.6Q110.2,616.1 113.7,618.9M113.9,610.0Q113.3,614.5 116.8,617.2M117.0,608.4Q116.4,612.8 119.9,615.6M120.1,606.8Q119.5,611.2 123.0,614.0M123.2,605.1Q122.6,609.6 126.1,612.4" stroke="#000" stroke-width="1.2" fill="none"/>
<path d="M89.9,636.9L90.4,636.5L96.6,633.3L96.1,633.6ZM90.4,636.5L90.9,636.1L97.1,632.9L96.6,633.3ZM90.9,636.1L91.3,635.6L97.5,632.4L97.1,632.9ZM91.3,635.6L91.7,635.1L97.9,631.8L97.5,632.4ZM91.7,635.1L92.0,634.5L98.2,631.2L97.9,631.8ZM92.0,634.5L92.3,633.8L98.5,630.6L98.2,631.2ZM92.3,633.8L92.5,633.1L98.7,629.8L98.5,630.6ZM92.5,633.1L92.6,632.3L98.8,629.1L98.7,629.8ZM92.6,632.3L92.7,631.6L98.9,628.3L98.8,629.1ZM92.7,631.6L92.7,630.8L98.9,627.5L98.9,628.3ZM92.7,630.8L92.7,629.9L98.9,626.7L98.9,627.5ZM92.7,629.9L92.6,629.1L98.8,625.8L98.9,626.7ZM92.6,629.1L92.4,628.3L98.6,625.0L98.8,625.8ZM92.4,628.3L92.2,627.4L98.4,624.2L98.6,625.0ZM92.2,627.4L91.9,626.6L98.1,623.4L98.4,624.2ZM91.9,626.6L91.5,625.8L97.7,622.6L98.1,623.4ZM91.5,625.8L91.1,625.1L97.3,621.8L97.7,622.6ZM91.1,625.1L90.7,624.4L96.9,621.1L97.3,621.8ZM90.7,624.4L90.2,623.7L96.4,620.4L96.9,621.1ZM90.2,623.7L89.6,623.1L95.8,619.8L96.4,620.4ZM89.6,623.1L89.1,622.5L95.3,619.2L95.8,619.8ZM89.1,622.5L88.4,622.0L94.7,618.7L95.3,619.2ZM88.4,622.0L87.8,621.6L94.0,618.3L94.7,618.7ZM87.8,621.6L87.2,621.2L93.4,617.9L94.0,618.3ZM87.2,621.2L86.5,620.9L92.7,617.6L93.4,617.9ZM86.5,620.9L85.9,620.7L92.1,617.4L92.7,617.6ZM85.9,620.7L85.2,620.6L91.4,617.3L92.1,617.4ZM85.2,620.6L84.6,620.5L90.8,617.3L91.4,617.3ZM84.6,620.5L83.9,620.5L90.1,617.3L90.8,617.3ZM83.9,620.5L83.3,620.6L89.5,617.4L90.1,617.3ZM83.3,620.6L82.7,620.8L88.9,617.6L89.5,617.4ZM82.7,620.8L82.1,621.1L88.3,617.9L88.9,617.6Z" fill="#fff" stroke="#fff" stroke-width="0.8"/>
<polyline points="96.1,633.6 96.6,633.3 97.1,632.9 97.5,632.4 97.9,631.8 98.2,631.2 98.5,630.6 98.7,629.8 98.8,629.1 98.9,628.3 98.9,627.5 98.9,626.7 98.8,625.8 98.6,625.0 98.4,624.2 98.1,623.4 97.7,622.6 97.3,621.8 96.9,621.1 96.4,620.4 95.8,619.8 95.3,619.2 94.7,618.7 94.0,618.3 93.4,617.9 92.7,617.6 92.1,617.4 91.4,617.3 90.8,617.3 90.1,617.3 89.5,617.4 88.9,617.6 88.3,617.9" fill="none" stroke="#000" stroke-width="2.0" stroke-linejoin="round" />
<path d="M89.9,636.9l6.2,-3.2M82.1,621.1l6.2,-3.2" fill="none" stroke="#000" stroke-width="2.0"/>
<polygon points="89.3,637.2 89.9,636.9 90.4,636.5 90.9,636.1 91.3,635.6 91.7,635.1 92.0,634.5 92.3,633.8 92.5,633.1 92.6,632.3 92.7,631.6 92.7,630.8 92.7,629.9 92.6,629.1 92.4,628.3 92.2,627.4 91.9,626.6 91.5,625.8 91.1,625.1 90.7,624.4 90.2,623.7 89.6,623.1 89.1,622.5 88.4,622.0 87.8,621.6 87.2,621.2 86.5,620.9 85.9,620.7 85.2,620.6 84.6,620.5 83.9,620.5 83.3,620.6 82.7,620.8 82.1,621.1 81.6,621.5 81.1,621.9 80.7,622.4 80.3,622.9 80.0,623.5 79.7,624.2 79.5,624.9 79.4,625.7 79.3,626.4 79.3,627.2 79.3,628.1 79.4,628.9 79.6,629.7 79.8,630.6 80.1,631.4 80.5,632.2 80.9,632.9 81.3,633.6 81.8,634.3 82.4,634.9 82.9,635.5 83.6,636.0 84.2,636.4 84.8,636.8 85.5,637.1 86.1,637.3 86.8,637.4 87.4,637.5 88.1,637.5 88.7,637.4" fill="#fff" stroke="#000" stroke-width="2.0" stroke-linejoin="round" />
<polygon points="87.0,633.4 87.6,633.1 88.1,632.6 88.5,632.0 88.8,631.3 88.9,630.5 88.9,629.7 88.8,628.9 88.5,628.0 88.1,627.3 87.6,626.6 87.1,626.0 86.4,625.5 85.8,625.2 85.1,625.1 84.4,625.1 83.8,625.2 83.2,625.5 82.7,626.0 82.3,626.6 82.0,627.3 81.9,628.1 81.9,628.9 82.0,629.7 82.3,630.6 82.7,631.3 83.2,632.0 83.7,632.6 84.4,633.1 85.0,633.4 85.7,633.5 86.4,633.5" fill="#fff" stroke="#000" stroke-width="1.0" stroke-linejoin="round" />
<path d="M222.2,570.1L223.1,569.5L246.1,557.5L245.2,558.1ZM223.1,569.5L224.0,568.8L247.0,556.8L246.1,557.5ZM224.0,568.8L224.7,568.0L247.7,556.0L247.0,556.8ZM224.7,568.0L225.4,567.1L248.4,555.1L247.7,556.0ZM225.4,567.1L226.0,566.1L249.0,554.1L248.4,555.1ZM226.0,566.1L226.5,565.0L249.5,553.0L249.0,554.1ZM226.5,565.0L226.9,563.9L249.9,551.9L249.5,553.0ZM226.9,563.9L227.2,562.6L250.2,550.6L249.9,551.9ZM227.2,562.6L227.4,561.4L250.4,549.4L250.2,550.6ZM227.4,561.4L227.5,560.1L250.5,548.1L250.4,549.4ZM227.5,560.1L227.4,558.8L250.4,546.8L250.5,548.1ZM227.4,558.8L227.3,557.4L250.3,545.4L250.4,546.8ZM227.3,557.4L227.0,556.1L250.0,544.1L250.3,545.4ZM227.0,556.1L226.7,554.8L249.7,542.8L250.0,544.1ZM226.7,554.8L226.2,553.5L249.2,541.5L249.7,542.8ZM226.2,553.5L225.6,552.2L248.6,540.2L249.2,541.5ZM225.6,552.2L225.0,551.0L248.0,539.0L248.6,540.2ZM225.0,551.0L224.2,549.9L247.2,537.9L248.0,539.0ZM224.2,549.9L223.4,548.8L246.4,536.8L247.2,537.9ZM223.4,548.8L222.5,547.8L245.5,535.8L246.4,536.8ZM222.5,547.8L221.6,547.0L244.6,535.0L245.5,535.8ZM221.6,547.0L220.6,546.2L243.6,534.2L244.6,535.0ZM220.6,546.2L219.5,545.5L242.5,533.5L243.6,534.2ZM219.5,545.5L218.4,545.0L241.4,533.0L242.5,533.5ZM218.4,545.0L217.3,544.5L240.3,532.5L241.4,533.0ZM217.3,544.5L216.2,544.2L239.2,532.2L240.3,532.5ZM216.2,544.2L215.1,544.0L238.1,532.0L239.2,532.2ZM215.1,544.0L213.9,544.0L236.9,532.0L238.1,532.0ZM213.9,544.0L212.8,544.1L235.8,532.1L236.9,532.0ZM212.8,544.1L211.8,544.3L234.8,532.3L235.8,532.1ZM211.8,544.3L210.8,544.6L233.8,532.6L234.8,532.3ZM210.8,544.6L209.8,545.1L232.8,533.1L233.8,532.6Z" fill="#fff" stroke="#fff" stroke-width="0.8"/>
<polyline points="245.2,558.1 246.1,557.5 247.0,556.8 247.7,556.0 248.4,555.1 249.0,554.1 249.5,553.0 249.9,551.9 250.2,550.6 250.4,549.4 250.5,548.1 250.4,546.8 250.3,545.4 250.0,544.1 249.7,542.8 249.2,541.5 248.6,540.2 248.0,539.0 247.2,537.9 246.4,536.8 245.5,535.8 244.6,535.0 243.6,534.2 242.5,533.5 241.4,533.0 240.3,532.5 239.2,532.2 238.1,532.0 236.9,532.0 235.8,532.1 234.8,532.3 233.8,532.6 232.8,533.1" fill="none" stroke="#000" stroke-width="1.6" stroke-linejoin="round" />
<path d="M222.2,570.1l23.0,-12.0M209.8,545.1l23.0,-12.0" fill="none" stroke="#000" stroke-width="1.6"/>
<polygon points="221.2,570.6 222.2,570.1 223.1,569.5 224.0,568.8 224.7,568.0 225.4,567.1 226.0,566.1 226.5,565.0 226.9,563.9 227.2,562.6 227.4,561.4 227.5,560.1 227.4,558.8 227.3,557.4 227.0,556.1 226.7,554.8 226.2,553.5 225.6,552.2 225.0,551.0 224.2,549.9 223.4,548.8 222.5,547.8 221.6,547.0 220.6,546.2 219.5,545.5 218.4,545.0 217.3,544.5 216.2,544.2 215.1,544.0 213.9,544.0 212.8,544.1 211.8,544.3 210.8,544.6 209.8,545.1 208.9,545.7 208.0,546.4 207.3,547.2 206.6,548.1 206.0,549.1 205.5,550.2 205.1,551.3 204.8,552.6 204.6,553.8 204.5,555.1 204.6,556.4 204.7,557.8 205.0,559.1 205.3,560.4 205.8,561.7 206.4,563.0 207.0,564.2 207.8,565.3 208.6,566.4 209.5,567.4 210.4,568.2 211.4,569.0 212.5,569.7 213.6,570.2 214.7,570.7 215.8,571.0 216.9,571.2 218.1,571.2 219.2,571.1 220.2,570.9" fill="#fff" stroke="#000" stroke-width="1.6" stroke-linejoin="round" />
<path d="M207.2,574.9L207.9,574.5L220.9,568.0L220.2,568.4ZM207.9,574.5L208.5,574.0L221.5,567.5L220.9,568.0ZM208.5,574.0L209.0,573.4L222.0,566.9L221.5,567.5ZM209.0,573.4L209.5,572.7L222.5,566.2L222.0,566.9ZM209.5,572.7L210.0,572.0L223.0,565.5L222.5,566.2ZM210.0,572.0L210.3,571.2L223.3,564.7L223.0,565.5ZM210.3,571.2L210.6,570.3L223.6,563.8L223.3,564.7ZM210.6,570.3L210.8,569.4L223.8,562.9L223.6,563.8ZM210.8,569.4L210.9,568.5L223.9,562.0L223.8,562.9ZM210.9,568.5L211.0,567.5L224.0,561.0L223.9,562.0ZM211.0,567.5L210.9,566.5L223.9,560.0L224.0,561.0ZM210.9,566.5L210.8,565.5L223.8,559.0L223.9,560.0ZM210.8,565.5L210.6,564.5L223.6,558.0L223.8,559.0ZM210.6,564.5L210.4,563.6L223.4,557.1L223.6,558.0ZM210.4,563.6L210.0,562.6L223.0,556.1L223.4,557.1ZM210.0,562.6L209.6,561.7L222.6,555.2L223.0,556.1ZM209.6,561.7L209.1,560.8L222.1,554.3L222.6,555.2ZM209.1,560.8L208.6,559.9L221.6,553.4L222.1,554.3ZM208.6,559.9L208.0,559.1L221.0,552.6L221.6,553.4ZM208.0,559.1L207.3,558.4L220.3,551.9L221.0,552.6ZM207.3,558.4L206.6,557.8L219.6,551.3L220.3,551.9ZM206.6,557.8L205.9,557.2L218.9,550.7L219.6,551.3ZM205.9,557.2L205.1,556.7L218.1,550.2L218.9,550.7ZM205.1,556.7L204.3,556.2L217.3,549.7L218.1,550.2ZM204.3,556.2L203.5,555.9L216.5,549.4L217.3,549.7ZM203.5,555.9L202.7,555.7L215.7,549.2L216.5,549.4ZM202.7,555.7L201.8,555.5L214.8,549.0L215.7,549.2ZM201.8,555.5L201.0,555.5L214.0,549.0L214.8,549.0ZM201.0,555.5L200.2,555.6L213.2,549.1L214.0,549.0ZM200.2,555.6L199.4,555.7L212.4,549.2L213.2,549.1ZM199.4,555.7L198.7,556.0L211.7,549.5L212.4,549.2ZM198.7,556.0L198.0,556.3L211.0,549.8L211.7,549.5Z" fill="#fff" stroke="#fff" stroke-width="0.8"/>
<polyline points="220.2,568.4 220.9,568.0 221.5,567.5 222.0,566.9 222.5,566.2 223.0,565.5 223.3,564.7 223.6,563.8 223.8,562.9 223.9,562.0 224.0,561.0 223.9,560.0 223.8,559.0 223.6,558.0 223.4,557.1 223.0,556.1 222.6,555.2 222.1,554.3 221.6,553.4 221.0,552.6 220.3,551.9 219.6,551.3 218.9,550.7 218.1,550.2 217.3,549.7 216.5,549.4 215.7,549.2 214.8,549.0 214.0,549.0 213.2,549.1 212.4,549.2 211.7,549.5 211.0,549.8" fill="none" stroke="#000" stroke-width="1.6" stroke-linejoin="round" />
<path d="M207.2,574.9l13.0,-6.5M198.0,556.3l13.0,-6.5" fill="none" stroke="#000" stroke-width="1.6"/>
<polygon points="206.5,575.2 207.2,574.9 207.9,574.5 208.5,574.0 209.0,573.4 209.5,572.7 210.0,572.0 210.3,571.2 210.6,570.3 210.8,569.4 210.9,568.5 211.0,567.5 210.9,566.5 210.8,565.5 210.6,564.5 210.4,563.6 210.0,562.6 209.6,561.7 209.1,560.8 208.6,559.9 208.0,559.1 207.3,558.4 206.6,557.8 205.9,557.2 205.1,556.7 204.3,556.2 203.5,555.9 202.7,555.7 201.8,555.5 201.0,555.5 200.2,555.6 199.4,555.7 198.7,556.0 198.0,556.3 197.3,556.7 196.7,557.2 196.2,557.8 195.7,558.5 195.2,559.2 194.9,560.0 194.6,560.9 194.4,561.8 194.3,562.7 194.2,563.7 194.3,564.7 194.4,565.7 194.6,566.7 194.8,567.6 195.2,568.6 195.6,569.5 196.1,570.4 196.6,571.3 197.2,572.1 197.9,572.8 198.6,573.4 199.3,574.0 200.1,574.5 200.9,575.0 201.7,575.3 202.5,575.5 203.4,575.7 204.2,575.7 205.0,575.6 205.8,575.5" fill="#fff" stroke="#000" stroke-width="1.6" stroke-linejoin="round" />
<polygon points="203.4,570.1 203.8,569.9 204.1,569.7 204.3,569.5 204.6,569.3 204.8,569.0 205.0,568.6 205.2,568.3 205.3,567.9 205.4,567.5 205.5,567.1 205.5,566.7 205.5,566.3 205.5,565.9 205.4,565.5 205.3,565.1 205.1,564.7 205.0,564.3 204.8,563.9 204.5,563.5 204.3,563.2 204.0,562.9 203.7,562.6 203.3,562.4 203.0,562.2 202.6,562.0 202.3,561.9 201.9,561.8 201.6,561.7 201.2,561.7 200.8,561.7 200.5,561.8 200.2,561.9 199.8,562.1 199.5,562.3 199.3,562.5 199.0,562.7 198.8,563.0 198.6,563.4 198.4,563.7 198.3,564.1 198.2,564.5 198.1,564.9 198.1,565.3 198.1,565.7 198.1,566.1 198.2,566.5 198.3,566.9 198.5,567.3 198.6,567.7 198.8,568.1 199.1,568.5 199.3,568.8 199.6,569.1 199.9,569.4 200.3,569.6 200.6,569.8 201.0,570.0 201.3,570.1 201.7,570.2 202.0,570.3 202.4,570.3 202.8,570.3 203.1,570.2" fill="#fff" stroke="#000" stroke-width="1.1" stroke-linejoin="round" />
<path d="M137.4,776.4L138.3,776.0L160.3,770.0L159.4,770.4ZM138.3,776.0L138.0,772.3L160.0,766.3L160.3,770.0ZM138.0,772.3L138.8,771.9L160.8,765.9L160.0,766.3ZM140.9,774.8L141.8,774.3L163.8,768.3L162.9,768.8ZM141.8,774.3L141.2,770.5L163.2,764.5L163.8,768.3ZM141.2,770.5L142.0,770.0L164.0,764.0L163.2,764.5ZM144.2,772.7L145.0,772.0L167.0,766.0L166.2,766.7ZM145.0,772.0L144.2,768.2L166.2,762.2L167.0,766.0ZM144.2,768.2L144.9,767.6L166.9,761.6L166.2,762.2ZM147.2,769.9L148.0,769.2L170.0,763.2L169.2,763.9ZM148.0,769.2L146.9,765.4L168.9,759.4L170.0,763.2ZM146.9,765.4L147.6,764.6L169.6,758.6L168.9,759.4ZM150.0,766.7L150.6,765.8L172.6,759.8L172.0,760.7ZM150.6,765.8L149.4,762.1L171.4,756.1L172.6,759.8ZM149.4,762.1L150.0,761.2L172.0,755.2L171.4,756.1ZM152.4,763.0L153.0,762.0L175.0,756.0L174.4,757.0ZM153.0,762.0L151.5,758.4L173.5,752.4L175.0,756.0ZM151.5,758.4L152.0,757.4L174.0,751.4L173.5,752.4ZM154.5,758.8L155.0,757.6L177.0,751.6L176.5,752.8ZM155.0,757.6L153.3,754.2L175.3,748.2L177.0,751.6ZM153.3,754.2L153.7,753.1L175.7,747.1L175.3,748.2ZM156.3,754.1L156.6,752.9L178.6,746.9L178.3,748.1ZM156.6,752.9L154.8,749.6L176.8,743.6L178.6,746.9ZM154.8,749.6L155.1,748.4L177.1,742.4L176.8,743.6ZM157.6,749.1L157.9,747.8L179.9,741.8L179.6,743.1ZM157.9,747.8L155.9,744.7L177.9,738.7L179.9,741.8ZM155.9,744.7L156.1,743.4L178.1,737.4L177.9,738.7ZM158.6,743.8L158.8,742.4L180.8,736.4L180.6,737.8ZM158.8,742.4L156.7,739.5L178.7,733.5L180.8,736.4ZM156.7,739.5L156.8,738.2L178.8,732.2L178.7,733.5ZM159.2,738.1L159.3,736.7L181.3,730.7L181.2,732.1ZM159.3,736.7L157.0,734.1L179.0,728.1L181.3,730.7ZM157.0,734.1L157.0,732.7L179.0,726.7L179.0,728.1ZM159.4,732.3L159.3,730.8L181.3,724.8L181.4,726.3ZM159.3,730.8L157.0,728.5L179.0,722.5L181.3,724.8ZM157.0,728.5L156.9,727.0L178.9,721.0L179.0,722.5ZM156.9,727.0L159.1,726.2L181.1,720.2L178.9,721.0ZM159.1,726.2L159.0,724.7L181.0,718.7L181.1,720.2ZM159.0,724.7L156.6,722.7L178.6,716.7L181.0,718.7ZM156.6,722.7L156.4,721.2L178.4,715.2L178.6,716.7ZM156.4,721.2L158.5,720.1L180.5,714.1L178.4,715.2ZM158.5,720.1L158.3,718.5L180.3,712.5L180.5,714.1ZM158.3,718.5L155.8,716.9L177.8,710.9L180.3,712.5ZM155.8,716.9L155.6,715.4L177.6,709.4L177.8,710.9ZM155.6,715.4L157.5,713.9L179.5,707.9L177.6,709.4ZM157.5,713.9L157.2,712.3L179.2,706.3L179.5,707.9ZM157.2,712.3L154.7,711.0L176.7,705.0L179.2,706.3ZM154.7,711.0L154.3,709.5L176.3,703.5L176.7,705.0ZM154.3,709.5L156.1,707.7L178.1,701.7L176.3,703.5ZM156.1,707.7L155.7,706.2L177.7,700.2L178.1,701.7ZM155.7,706.2L153.2,705.2L175.2,699.2L177.7,700.2ZM153.2,705.2L152.7,703.7L174.7,697.7L175.2,699.2ZM152.7,703.7L154.3,701.6L176.3,695.6L174.7,697.7ZM154.3,701.6L153.8,700.1L175.8,694.1L176.3,695.6ZM153.8,700.1L151.3,699.4L173.3,693.4L175.8,694.1ZM151.3,699.4L150.8,698.0L172.8,692.0L173.3,693.4ZM150.8,698.0L152.2,695.6L174.2,689.6L172.8,692.0ZM152.2,695.6L151.6,694.1L173.6,688.1L174.2,689.6ZM151.6,694.1L149.2,693.8L171.2,687.8L173.6,688.1ZM149.2,693.8L148.6,692.5L170.6,686.5L171.2,687.8ZM148.6,692.5L149.7,689.8L171.7,683.8L170.6,686.5ZM149.7,689.8L149.1,688.3L171.1,682.3L171.7,683.8ZM149.1,688.3L146.7,688.4L168.7,682.4L171.1,682.3ZM146.7,688.4L146.0,687.1L168.0,681.1L168.7,682.4ZM146.0,687.1L147.0,684.2L169.0,678.2L168.0,681.1ZM147.0,684.2L146.2,682.8L168.2,676.8L169.0,678.2ZM146.2,682.8L143.9,683.3L165.9,677.3L168.2,676.8ZM143.9,683.3L143.2,682.1L165.2,676.1L165.9,677.3ZM143.2,682.1L143.9,678.9L165.9,672.9L165.2,676.1ZM143.9,678.9L143.1,677.6L165.1,671.6L165.9,672.9ZM140.9,678.5L140.1,677.3L162.1,671.3L162.9,672.5ZM140.1,677.3L140.6,673.9L162.6,667.9L162.1,671.3ZM140.6,673.9L139.7,672.8L161.7,666.8L162.6,667.9ZM137.7,674.0L136.8,672.9L158.8,666.9L159.7,668.0ZM136.8,672.9L137.0,669.4L159.0,663.4L158.8,666.9ZM137.0,669.4L136.1,668.3L158.1,662.3L159.0,663.4ZM134.2,669.9L133.4,668.9L155.4,662.9L156.2,663.9ZM133.4,668.9L133.3,665.3L155.3,659.3L155.4,662.9ZM133.3,665.3L132.4,664.3L154.4,658.3L155.3,659.3ZM130.6,666.2L129.7,665.3L151.7,659.3L152.6,660.2ZM129.7,665.3L129.5,661.6L151.5,655.6L151.7,659.3ZM129.5,661.6L128.5,660.8L150.5,654.8L151.5,655.6ZM126.9,663.0L126.0,662.3L148.0,656.3L148.9,657.0ZM126.0,662.3L125.5,658.5L147.5,652.5L148.0,656.3ZM125.5,658.5L124.5,657.8L146.5,651.8L147.5,652.5ZM123.1,660.3L122.1,659.7L144.1,653.7L145.1,654.3ZM122.1,659.7L121.4,655.9L143.4,649.9L144.1,653.7ZM121.4,655.9L120.4,655.3L142.4,649.3L143.4,649.9ZM119.2,658.1L118.3,657.6L140.3,651.6L141.2,652.1ZM118.3,657.6L117.3,653.9L139.3,647.9L140.3,651.6ZM117.3,653.9L116.3,653.4L138.3,647.4L139.3,647.9ZM115.4,656.4L114.4,656.1L136.4,650.1L137.4,650.4ZM114.4,656.1L113.2,652.4L135.2,646.4L136.4,650.1ZM113.2,652.4L112.2,652.1L134.2,646.1L135.2,646.4ZM111.5,655.3L110.5,655.2L132.5,649.2L133.5,649.3ZM110.5,655.2L109.1,651.6L131.1,645.6L132.5,649.2ZM109.1,651.6L108.1,651.4L130.1,645.4L131.1,645.6ZM107.7,654.8L106.8,654.8L128.8,648.8L129.7,648.8ZM106.8,654.8L105.2,651.3L127.2,645.3L128.8,648.8ZM105.2,651.3L104.2,651.3L126.2,645.3L127.2,645.3ZM104.0,654.9L103.1,655.0L125.1,649.0L126.0,648.9ZM103.1,655.0L101.3,651.7L123.3,645.7L125.1,649.0ZM101.3,651.7L100.3,651.9L122.3,645.9L123.3,645.7ZM99.5,655.8L97.6,652.6L119.6,646.6L121.5,649.8ZM96.2,657.1L94.1,654.2L116.1,648.2L118.2,651.1ZM93.0,659.0L90.8,656.3L112.8,650.3L115.0,653.0ZM90.1,661.4L87.8,659.1L109.8,653.1L112.1,655.4ZM87.4,664.4L85.0,662.3L107.0,656.3L109.4,658.4ZM85.0,667.8L82.6,666.0L104.6,660.0L107.0,661.8ZM83.0,671.6L80.5,670.2L102.5,664.2L105.0,665.6ZM81.3,675.9L78.7,674.9L100.7,668.9L103.3,669.9ZM79.9,680.6L77.4,679.9L99.4,673.9L101.9,674.6ZM78.9,685.6L76.4,685.2L98.4,679.2L100.9,679.6ZM78.2,690.8L75.8,690.9L97.8,684.9L100.2,684.8ZM78.0,696.3L75.6,696.7L97.6,690.7L100.0,690.3ZM91.9,751.4L94.1,750.5L116.1,744.5L113.9,745.4ZM95.3,756.2L97.3,755.0L119.3,749.0L117.3,750.2ZM98.9,760.7L100.8,759.1L122.8,753.1L120.9,754.7ZM102.6,764.7L104.4,762.8L126.4,756.8L124.6,758.7ZM106.5,768.2L108.1,766.0L130.1,760.0L128.5,762.2ZM110.5,771.2L111.9,768.7L133.9,762.7L132.5,765.2ZM114.6,773.7L115.8,770.9L137.8,764.9L136.6,767.7ZM118.7,775.6L119.6,772.6L141.6,766.6L140.7,769.6ZM122.8,776.9L123.5,773.7L145.5,767.7L144.8,770.9ZM126.9,777.6L127.3,774.2L149.3,768.2L148.9,771.6ZM130.8,777.7L131.0,774.1L153.0,768.1L152.8,771.7ZM134.7,777.1L134.6,773.5L156.6,767.5L156.7,771.1ZM134.6,773.5L135.5,773.2L157.5,767.2L156.6,767.5Z" fill="#fff" stroke="#fff" stroke-width="0.8"/>
<polyline points="159.4,770.4 160.3,770.0 160.0,766.3 160.8,765.9" fill="none" stroke="#000" stroke-width="0.9" stroke-linejoin="round" />
<polyline points="162.9,768.8 163.8,768.3 163.2,764.5 164.0,764.0" fill="none" stroke="#000" stroke-width="0.9" stroke-linejoin="round" />
<polyline points="166.2,766.7 167.0,766.0 166.2,762.2 166.9,761.6" fill="none" stroke="#000" stroke-width="0.9" stroke-linejoin="round" />
<polyline points="169.2,763.9 170.0,763.2 168.9,759.4 169.6,758.6" fill="none" stroke="#000" stroke-width="0.9" stroke-linejoin="round" />
<polyline points="172.0,760.7 172.6,759.8 171.4,756.1 172.0,755.2" fill="none" stroke="#000" stroke-width="0.9" stroke-linejoin="round" />
<polyline points="174.4,757.0 175.0,756.0 173.5,752.4 174.0,751.4" fill="none" stroke="#000" stroke-width="0.9" stroke-linejoin="round" />
<polyline points="176.5,752.8 177.0,751.6 175.3,748.2 175.7,747.1" fill="none" stroke="#000" stroke-width="0.9" stroke-linejoin="round" />
<polyline points="178.3,748.1 178.6,746.9 176.8,743.6 177.1,742.4" fill="none" stroke="#000" stroke-width="0.9" stroke-linejoin="round" />
<polyline points="179.6,743.1 179.9,741.8 177.9,738.7 178.1,737.4" fill="none" stroke="#000" stroke-width="0.9" stroke-linejoin="round" />
<polyline points="180.6,737.8 180.8,736.4 178.7,733.5 178.8,732.2" fill="none" stroke="#000" stroke-width="0.9" stroke-linejoin="round" />
<polyline points="181.2,732.1 181.3,730.7 179.0,728.1 179.0,726.7" fill="none" stroke="#000" stroke-width="0.9" stroke-linejoin="round" />
<polyline points="181.4,726.3 181.3,724.8 179.0,722.5 178.9,721.0 181.1,720.2 181.0,718.7 178.6,716.7 178.4,715.2 180.5,714.1 180.3,712.5 177.8,710.9 177.6,709.4 179.5,707.9 179.2,706.3 176.7,705.0 176.3,703.5 178.1,701.7 177.7,700.2 175.2,699.2 174.7,697.7 176.3,695.6 175.8,694.1 173.3,693.4 172.8,692.0 174.2,689.6 173.6,688.1 171.2,687.8 170.6,686.5 171.7,683.8 171.1,682.3 168.7,682.4 168.0,681.1 169.0,678.2 168.2,676.8 165.9,677.3 165.2,676.1 165.9,672.9 165.1,671.6" fill="none" stroke="#000" stroke-width="0.9" stroke-linejoin="round" />
<polyline points="162.9,672.5 162.1,671.3 162.6,667.9 161.7,666.8" fill="none" stroke="#000" stroke-width="0.9" stroke-linejoin="round" />
<polyline points="159.7,668.0 158.8,666.9 159.0,663.4 158.1,662.3" fill="none" stroke="#000" stroke-width="0.9" stroke-linejoin="round" />
<polyline points="156.2,663.9 155.4,662.9 155.3,659.3 154.4,658.3" fill="none" stroke="#000" stroke-width="0.9" stroke-linejoin="round" />
<polyline points="152.6,660.2 151.7,659.3 151.5,655.6 150.5,654.8" fill="none" stroke="#000" stroke-width="0.9" stroke-linejoin="round" />
<polyline points="148.9,657.0 148.0,656.3 147.5,652.5 146.5,651.8" fill="none" stroke="#000" stroke-width="0.9" stroke-linejoin="round" />
<polyline points="145.1,654.3 144.1,653.7 143.4,649.9 142.4,649.3" fill="none" stroke="#000" stroke-width="0.9" stroke-linejoin="round" />
<polyline points="141.2,652.1 140.3,651.6 139.3,647.9 138.3,647.4" fill="none" stroke="#000" stroke-width="0.9" stroke-linejoin="round" />
<polyline points="137.4,650.4 136.4,650.1 135.2,646.4 134.2,646.1" fill="none" stroke="#000" stroke-width="0.9" stroke-linejoin="round" />
<polyline points="133.5,649.3 132.5,649.2 131.1,645.6 130.1,645.4" fill="none" stroke="#000" stroke-width="0.9" stroke-linejoin="round" />
<polyline points="129.7,648.8 128.8,648.8 127.2,645.3 126.2,645.3" fill="none" stroke="#000" stroke-width="0.9" stroke-linejoin="round" />
<polyline points="126.0,648.9 125.1,649.0 123.3,645.7 122.3,645.9" fill="none" stroke="#000" stroke-width="0.9" stroke-linejoin="round" />
<polyline points="121.5,649.8 119.6,646.6" fill="none" stroke="#000" stroke-width="0.9" stroke-linejoin="round" />
<polyline points="118.2,651.1 116.1,648.2" fill="none" stroke="#000" stroke-width="0.9" stroke-linejoin="round" />
<polyline points="115.0,653.0 112.8,650.3" fill="none" stroke="#000" stroke-width="0.9" stroke-linejoin="round" />
<polyline points="112.1,655.4 109.8,653.1" fill="none" stroke="#000" stroke-width="0.9" stroke-linejoin="round" />
<polyline points="109.4,658.4 107.0,656.3" fill="none" stroke="#000" stroke-width="0.9" stroke-linejoin="round" />
<polyline points="107.0,661.8 104.6,660.0" fill="none" stroke="#000" stroke-width="0.9" stroke-linejoin="round" />
<polyline points="105.0,665.6 102.5,664.2" fill="none" stroke="#000" stroke-width="0.9" stroke-linejoin="round" />
<polyline points="103.3,669.9 100.7,668.9" fill="none" stroke="#000" stroke-width="0.9" stroke-linejoin="round" />
<polyline points="101.9,674.6 99.4,673.9" fill="none" stroke="#000" stroke-width="0.9" stroke-linejoin="round" />
<polyline points="100.9,679.6 98.4,679.2" fill="none" stroke="#000" stroke-width="0.9" stroke-linejoin="round" />
<polyline points="100.2,684.8 97.8,684.9" fill="none" stroke="#000" stroke-width="0.9" stroke-linejoin="round" />
<polyline points="100.0,690.3 97.6,690.7" fill="none" stroke="#000" stroke-width="0.9" stroke-linejoin="round" />
<polyline points="113.9,745.4 116.1,744.5" fill="none" stroke="#000" stroke-width="0.9" stroke-linejoin="round" />
<polyline points="117.3,750.2 119.3,749.0" fill="none" stroke="#000" stroke-width="0.9" stroke-linejoin="round" />
<polyline points="120.9,754.7 122.8,753.1" fill="none" stroke="#000" stroke-width="0.9" stroke-linejoin="round" />
<polyline points="124.6,758.7 126.4,756.8" fill="none" stroke="#000" stroke-width="0.9" stroke-linejoin="round" />
<polyline points="128.5,762.2 130.1,760.0" fill="none" stroke="#000" stroke-width="0.9" stroke-linejoin="round" />
<polyline points="132.5,765.2 133.9,762.7" fill="none" stroke="#000" stroke-width="0.9" stroke-linejoin="round" />
<polyline points="136.6,767.7 137.8,764.9" fill="none" stroke="#000" stroke-width="0.9" stroke-linejoin="round" />
<polyline points="140.7,769.6 141.6,766.6" fill="none" stroke="#000" stroke-width="0.9" stroke-linejoin="round" />
<polyline points="144.8,770.9 145.5,767.7" fill="none" stroke="#000" stroke-width="0.9" stroke-linejoin="round" />
<polyline points="148.9,771.6 149.3,768.2" fill="none" stroke="#000" stroke-width="0.9" stroke-linejoin="round" />
<polyline points="152.8,771.7 153.0,768.1" fill="none" stroke="#000" stroke-width="0.9" stroke-linejoin="round" />
<polyline points="156.7,771.1 156.6,767.5 157.5,767.2" fill="none" stroke="#000" stroke-width="0.9" stroke-linejoin="round" />
<path d="M137.4,776.4l22.0,-6.0M138.3,776.0l22.0,-6.0M140.9,774.8l22.0,-6.0M141.8,774.3l22.0,-6.0M144.2,772.7l22.0,-6.0M145.0,772.0l22.0,-6.0M147.2,769.9l22.0,-6.0M148.0,769.2l22.0,-6.0M150.0,766.7l22.0,-6.0M150.6,765.8l22.0,-6.0M152.4,763.0l22.0,-6.0M153.0,762.0l22.0,-6.0M154.5,758.8l22.0,-6.0M155.0,757.6l22.0,-6.0M156.3,754.1l22.0,-6.0M156.6,752.9l22.0,-6.0M157.6,749.1l22.0,-6.0M157.9,747.8l22.0,-6.0M158.6,743.8l22.0,-6.0M158.8,742.4l22.0,-6.0M159.2,738.1l22.0,-6.0M159.3,736.7l22.0,-6.0M159.4,732.3l22.0,-6.0M159.3,730.8l22.0,-6.0M159.1,726.2l22.0,-6.0M159.0,724.7l22.0,-6.0M158.5,720.1l22.0,-6.0M158.3,718.5l22.0,-6.0M157.5,713.9l22.0,-6.0M157.2,712.3l22.0,-6.0M156.1,707.7l22.0,-6.0M155.7,706.2l22.0,-6.0M154.3,701.6l22.0,-6.0M153.8,700.1l22.0,-6.0M152.2,695.6l22.0,-6.0M151.6,694.1l22.0,-6.0M149.7,689.8l22.0,-6.0M149.1,688.3l22.0,-6.0M147.0,684.2l22.0,-6.0M146.2,682.8l22.0,-6.0M143.9,678.9l22.0,-6.0M143.1,677.6l22.0,-6.0M140.6,673.9l22.0,-6.0M139.7,672.8l22.0,-6.0M137.0,669.4l22.0,-6.0M136.1,668.3l22.0,-6.0M133.3,665.3l22.0,-6.0M132.4,664.3l22.0,-6.0M129.5,661.6l22.0,-6.0M128.5,660.8l22.0,-6.0M125.5,658.5l22.0,-6.0M124.5,657.8l22.0,-6.0M121.4,655.9l22.0,-6.0M120.4,655.3l22.0,-6.0M117.3,653.9l22.0,-6.0M116.3,653.4l22.0,-6.0M113.2,652.4l22.0,-6.0M112.2,652.1l22.0,-6.0M109.1,651.6l22.0,-6.0M108.1,651.4l22.0,-6.0M105.2,651.3l22.0,-6.0M104.2,651.3l22.0,-6.0M101.3,651.7l22.0,-6.0M100.3,651.9l22.0,-6.0M97.6,652.6l22.0,-6.0M94.1,654.2l22.0,-6.0M90.8,656.3l22.0,-6.0M87.8,659.1l22.0,-6.0M85.0,662.3l22.0,-6.0M82.6,666.0l22.0,-6.0M80.5,670.2l22.0,-6.0M78.7,674.9l22.0,-6.0M77.4,679.9l22.0,-6.0M76.4,685.2l22.0,-6.0M75.8,690.9l22.0,-6.0M75.6,696.7l22.0,-6.0M91.9,751.4l22.0,-6.0M95.3,756.2l22.0,-6.0M98.9,760.7l22.0,-6.0M102.6,764.7l22.0,-6.0M106.5,768.2l22.0,-6.0M110.5,771.2l22.0,-6.0M114.6,773.7l22.0,-6.0M118.7,775.6l22.0,-6.0M122.8,776.9l22.0,-6.0M126.9,777.6l22.0,-6.0M130.8,777.7l22.0,-6.0M134.7,777.1l22.0,-6.0" fill="none" stroke="#000" stroke-width="0.9"/>
<polygon points="135.5,773.2 137.4,776.4 138.3,776.0 138.0,772.3 138.8,771.9 140.9,774.8 141.8,774.3 141.2,770.5 142.0,770.0 144.2,772.7 145.0,772.0 144.2,768.2 144.9,767.6 147.2,769.9 148.0,769.2 146.9,765.4 147.6,764.6 150.0,766.7 150.6,765.8 149.4,762.1 150.0,761.2 152.4,763.0 153.0,762.0 151.5,758.4 152.0,757.4 154.5,758.8 155.0,757.6 153.3,754.2 153.7,753.1 156.3,754.1 156.6,752.9 154.8,749.6 155.1,748.4 157.6,749.1 157.9,747.8 155.9,744.7 156.1,743.4 158.6,743.8 158.8,742.4 156.7,739.5 156.8,738.2 159.2,738.1 159.3,736.7 157.0,734.1 157.0,732.7 159.4,732.3 159.3,730.8 157.0,728.5 156.9,727.0 159.1,726.2 159.0,724.7 156.6,722.7 156.4,721.2 158.5,720.1 158.3,718.5 155.8,716.9 155.6,715.4 157.5,713.9 157.2,712.3 154.7,711.0 154.3,709.5 156.1,707.7 155.7,706.2 153.2,705.2 152.7,703.7 154.3,701.6 153.8,700.1 151.3,699.4 150.8,698.0 152.2,695.6 151.6,694.1 149.2,693.8 148.6,692.5 149.7,689.8 149.1,688.3 146.7,688.4 146.0,687.1 147.0,684.2 146.2,682.8 143.9,683.3 143.2,682.1 143.9,678.9 143.1,677.6 140.9,678.5 140.1,677.3 140.6,673.9 139.7,672.8 137.7,674.0 136.8,672.9 137.0,669.4 136.1,668.3 134.2,669.9 133.4,668.9 133.3,665.3 132.4,664.3 130.6,666.2 129.7,665.3 129.5,661.6 128.5,660.8 126.9,663.0 126.0,662.3 125.5,658.5 124.5,657.8 123.1,660.3 122.1,659.7 121.4,655.9 120.4,655.3 119.2,658.1 118.3,657.6 117.3,653.9 116.3,653.4 115.4,656.4 114.4,656.1 113.2,652.4 112.2,652.1 111.5,655.3 110.5,655.2 109.1,651.6 108.1,651.4 107.7,654.8 106.8,654.8 105.2,651.3 104.2,651.3 104.0,654.9 103.1,655.0 101.3,651.7 100.3,651.9 100.4,655.5 99.5,655.8 97.6,652.6 96.7,653.0 97.0,656.7 96.2,657.1 94.1,654.2 93.2,654.7 93.8,658.5 93.0,659.0 90.8,656.3 90.0,657.0 90.8,660.8 90.1,661.4 87.8,659.1 87.0,659.8 88.1,663.6 87.4,664.4 85.0,662.3 84.4,663.2 85.6,666.9 85.0,667.8 82.6,666.0 82.0,667.0 83.5,670.6 83.0,671.6 80.5,670.2 80.0,671.4 81.7,674.8 81.3,675.9 78.7,674.9 78.4,676.1 80.2,679.4 79.9,680.6 77.4,679.9 77.1,681.2 79.1,684.3 78.9,685.6 76.4,685.2 76.2,686.6 78.3,689.5 78.2,690.8 75.8,690.9 75.7,692.3 78.0,694.9 78.0,696.3 75.6,696.7 75.7,698.2 78.0,700.5 78.1,702.0 75.9,702.8 76.0,704.3 78.4,706.3 78.6,707.8 76.5,708.9 76.7,710.5 79.2,712.1 79.4,713.6 77.5,715.1 77.8,716.7 80.3,718.0 80.7,719.5 78.9,721.3 79.3,722.8 81.8,723.8 82.3,725.3 80.7,727.4 81.2,728.9 83.7,729.6 84.2,731.0 82.8,733.4 83.4,734.9 85.8,735.2 86.4,736.5 85.3,739.2 85.9,740.7 88.3,740.6 89.0,741.9 88.0,744.8 88.8,746.2 91.1,745.7 91.8,746.9 91.1,750.1 91.9,751.4 94.1,750.5 94.9,751.7 94.4,755.1 95.3,756.2 97.3,755.0 98.2,756.1 98.0,759.6 98.9,760.7 100.8,759.1 101.6,760.1 101.7,763.7 102.6,764.7 104.4,762.8 105.3,763.7 105.5,767.4 106.5,768.2 108.1,766.0 109.0,766.7 109.5,770.5 110.5,771.2 111.9,768.7 112.9,769.3 113.6,773.1 114.6,773.7 115.8,770.9 116.7,771.4 117.7,775.1 118.7,775.6 119.6,772.6 120.6,772.9 121.8,776.6 122.8,776.9 123.5,773.7 124.5,773.8 125.9,777.4 126.9,777.6 127.3,774.2 128.2,774.2 129.8,777.7 130.8,777.7 131.0,774.1 131.9,774.0 133.7,777.3 134.7,777.1 134.6,773.5" fill="#fff" stroke="#000" stroke-width="1.0" stroke-linejoin="round" />
<polygon points="125.8,724.1 126.4,723.9 126.9,723.6 127.5,723.3 128.0,722.9 128.4,722.4 128.8,721.8 129.2,721.2 129.5,720.6 129.8,719.9 129.9,719.1 130.1,718.4 130.1,717.6 130.1,716.8 130.1,716.0 130.0,715.1 129.8,714.3 129.5,713.6 129.2,712.8 128.9,712.1 128.5,711.4 128.0,710.7 127.5,710.1 127.0,709.6 126.4,709.1 125.8,708.7 125.2,708.3 124.6,708.1 124.0,707.9 123.3,707.8 122.7,707.7 122.0,707.8 121.4,707.9 120.8,708.1 120.3,708.4 119.7,708.7 119.2,709.1 118.8,709.6 118.4,710.2 118.0,710.8 117.7,711.4 117.4,712.1 117.3,712.9 117.1,713.6 117.1,714.4 117.1,715.2 117.1,716.0 117.2,716.9 117.4,717.7 117.7,718.4 118.0,719.2 118.3,719.9 118.7,720.6 119.2,721.3 119.7,721.9 120.2,722.4 120.8,722.9 121.4,723.3 122.0,723.7 122.6,723.9 123.2,724.1 123.9,724.2 124.5,724.3 125.2,724.2" fill="#fff" stroke="#000" stroke-width="1.6" stroke-linejoin="round" />
<path d="M117.3,734.4L118.2,733.8L121.2,732.3L120.3,732.9ZM118.2,733.8L119.1,733.1L122.1,731.6L121.2,732.3ZM119.1,733.1L119.9,732.4L122.9,730.9L122.1,731.6ZM119.9,732.4L120.6,731.5L123.6,730.0L122.9,730.9ZM120.6,731.5L121.2,730.5L124.2,729.0L123.6,730.0ZM121.2,730.5L121.8,729.5L124.8,728.0L124.2,729.0ZM121.8,729.5L122.2,728.4L125.2,726.9L124.8,728.0ZM122.2,728.4L122.5,727.3L125.5,725.8L125.2,726.9ZM122.5,727.3L122.8,726.1L125.8,724.6L125.5,725.8ZM122.8,726.1L122.9,724.8L125.9,723.3L125.8,724.6ZM122.9,724.8L123.0,723.6L126.0,722.1L125.9,723.3ZM123.0,723.6L122.9,722.3L125.9,720.8L126.0,722.1ZM122.9,722.3L122.7,721.0L125.7,719.5L125.9,720.8ZM122.7,721.0L122.4,719.8L125.4,718.3L125.7,719.5ZM122.4,719.8L122.1,718.6L125.1,717.1L125.4,718.3ZM122.1,718.6L121.6,717.4L124.6,715.9L125.1,717.1ZM121.6,717.4L121.0,716.3L124.0,714.8L124.6,715.9ZM121.0,716.3L120.4,715.2L123.4,713.7L124.0,714.8ZM120.4,715.2L119.6,714.2L122.6,712.7L123.4,713.7ZM119.6,714.2L118.8,713.3L121.8,711.8L122.6,712.7ZM118.8,713.3L117.9,712.5L120.9,711.0L121.8,711.8ZM117.9,712.5L117.0,711.7L120.0,710.2L120.9,711.0ZM117.0,711.7L116.0,711.1L119.0,709.6L120.0,710.2ZM116.0,711.1L115.0,710.6L118.0,709.1L119.0,709.6ZM115.0,710.6L114.0,710.2L117.0,708.7L118.0,709.1ZM114.0,710.2L112.9,709.9L115.9,708.4L117.0,708.7ZM112.9,709.9L111.8,709.8L114.8,708.3L115.9,708.4ZM111.8,709.8L110.7,709.7L113.7,708.2L114.8,708.3ZM110.7,709.7L109.7,709.8L112.7,708.3L113.7,708.2ZM109.7,709.8L108.6,710.0L111.6,708.5L112.7,708.3ZM108.6,710.0L107.6,710.4L110.6,708.9L111.6,708.5ZM107.6,710.4L106.7,710.8L109.7,709.3L110.6,708.9Z" fill="#fff" stroke="#fff" stroke-width="0.8"/>
<polyline points="120.3,732.9 121.2,732.3 122.1,731.6 122.9,730.9 123.6,730.0 124.2,729.0 124.8,728.0 125.2,726.9 125.5,725.8 125.8,724.6 125.9,723.3 126.0,722.1 125.9,720.8 125.7,719.5 125.4,718.3 125.1,717.1 124.6,715.9 124.0,714.8 123.4,713.7 122.6,712.7 121.8,711.8 120.9,711.0 120.0,710.2 119.0,709.6 118.0,709.1 117.0,708.7 115.9,708.4 114.8,708.3 113.7,708.2 112.7,708.3 111.6,708.5 110.6,708.9 109.7,709.3" fill="none" stroke="#000" stroke-width="1.8" stroke-linejoin="round" />
<path d="M117.3,734.4l3.0,-1.5M106.7,710.8l3.0,-1.5" fill="none" stroke="#000" stroke-width="1.8"/>
<polygon points="115.4,735.2 116.4,734.8 117.3,734.4 118.2,733.8 119.1,733.1 119.9,732.4 120.6,731.5 121.2,730.5 121.8,729.5 122.2,728.4 122.5,727.3 122.8,726.1 122.9,724.8 123.0,723.6 122.9,722.3 122.7,721.0 122.4,719.8 122.1,718.6 121.6,717.4 121.0,716.3 120.4,715.2 119.6,714.2 118.8,713.3 117.9,712.5 117.0,711.7 116.0,711.1 115.0,710.6 114.0,710.2 112.9,709.9 111.8,709.8 110.7,709.7 109.7,709.8 108.6,710.0 107.6,710.4 106.7,710.8 105.8,711.4 104.9,712.1 104.1,712.8 103.4,713.7 102.8,714.7 102.2,715.7 101.8,716.8 101.5,717.9 101.2,719.1 101.1,720.4 101.0,721.6 101.1,722.9 101.3,724.2 101.6,725.4 101.9,726.6 102.4,727.8 103.0,728.9 103.6,730.0 104.4,731.0 105.2,731.9 106.1,732.7 107.0,733.5 108.0,734.1 109.0,734.6 110.0,735.0 111.1,735.3 112.2,735.4 113.3,735.5 114.3,735.4" fill="#fff" stroke="#000" stroke-width="1.8" stroke-linejoin="round" />
<polygon points="113.4,730.0 113.9,729.8 114.4,729.5 114.9,729.2 115.3,728.9 115.7,728.5 116.1,728.0 116.4,727.5 116.6,726.9 116.9,726.3 117.0,725.7 117.1,725.0 117.2,724.3 117.2,723.6 117.2,722.9 117.1,722.2 116.9,721.6 116.7,720.9 116.4,720.2 116.1,719.6 115.8,719.0 115.4,718.4 115.0,717.9 114.5,717.5 114.0,717.1 113.5,716.7 113.0,716.4 112.4,716.2 111.8,716.0 111.3,715.9 110.7,715.9 110.2,715.9 109.6,716.0 109.1,716.2 108.6,716.5 108.1,716.8 107.7,717.1 107.3,717.5 106.9,718.0 106.6,718.5 106.4,719.1 106.1,719.7 106.0,720.3 105.9,721.0 105.8,721.7 105.8,722.4 105.8,723.1 105.9,723.8 106.1,724.4 106.3,725.1 106.6,725.8 106.9,726.4 107.2,727.0 107.6,727.6 108.0,728.1 108.5,728.5 109.0,728.9 109.5,729.3 110.0,729.6 110.6,729.8 111.2,730.0 111.7,730.1 112.3,730.1 112.8,730.1" fill="#fff" stroke="#000" stroke-width="1.4" stroke-linejoin="round" />
<polygon points="69.8,752.7 109.9,730.4 106.1,723.6 66.0,745.9" fill="#fff" stroke="#000" stroke-width="1.3" stroke-linejoin="round" />
<path d="M79.3,738.5Q78.7,742.9 82.2,745.7M82.4,736.8Q81.8,741.2 85.3,744.0M85.4,735.1Q84.9,739.5 88.4,742.3M88.5,733.4Q87.9,737.8 91.4,740.6M91.6,731.7Q91.0,736.1 94.5,738.9M94.6,730.0Q94.0,734.4 97.5,737.2M97.7,728.3Q97.1,732.7 100.6,735.5M100.7,726.6Q100.2,731.0 103.7,733.8M103.8,724.9Q103.2,729.3 106.7,732.1" stroke="#000" stroke-width="1.2" fill="none"/>
<path d="M66.9,759.9L67.4,759.5L73.5,756.1L73.0,756.5ZM67.4,759.5L67.9,759.1L74.0,755.7L73.5,756.1ZM67.9,759.1L68.3,758.6L74.4,755.2L74.0,755.7ZM68.3,758.6L68.7,758.1L74.8,754.7L74.4,755.2ZM68.7,758.1L69.0,757.5L75.1,754.1L74.8,754.7ZM69.0,757.5L69.3,756.8L75.4,753.4L75.1,754.1ZM69.3,756.8L69.5,756.1L75.6,752.7L75.4,753.4ZM69.5,756.1L69.6,755.3L75.8,751.9L75.6,752.7ZM69.6,755.3L69.7,754.6L75.8,751.2L75.8,751.9ZM69.7,754.6L69.7,753.8L75.9,750.4L75.8,751.2ZM69.7,753.8L69.7,752.9L75.8,749.5L75.9,750.4ZM69.7,752.9L69.6,752.1L75.7,748.7L75.8,749.5ZM69.6,752.1L69.4,751.3L75.5,747.9L75.7,748.7ZM69.4,751.3L69.2,750.4L75.3,747.0L75.5,747.9ZM69.2,750.4L68.9,749.6L75.0,746.2L75.3,747.0ZM68.9,749.6L68.5,748.8L74.6,745.4L75.0,746.2ZM68.5,748.8L68.1,748.1L74.2,744.7L74.6,745.4ZM68.1,748.1L67.7,747.4L73.8,744.0L74.2,744.7ZM67.7,747.4L67.2,746.7L73.3,743.3L73.8,744.0ZM67.2,746.7L66.6,746.1L72.7,742.7L73.3,743.3ZM66.6,746.1L66.1,745.5L72.2,742.1L72.7,742.7ZM66.1,745.5L65.4,745.0L71.6,741.6L72.2,742.1ZM65.4,745.0L64.8,744.6L70.9,741.2L71.6,741.6ZM64.8,744.6L64.2,744.2L70.3,740.8L70.9,741.2ZM64.2,744.2L63.5,743.9L69.6,740.5L70.3,740.8ZM63.5,743.9L62.9,743.7L69.0,740.3L69.6,740.5ZM62.9,743.7L62.2,743.6L68.3,740.2L69.0,740.3ZM62.2,743.6L61.6,743.5L67.7,740.1L68.3,740.2ZM61.6,743.5L60.9,743.5L67.0,740.1L67.7,740.1ZM60.9,743.5L60.3,743.6L66.4,740.2L67.0,740.1ZM60.3,743.6L59.7,743.8L65.8,740.4L66.4,740.2ZM59.7,743.8L59.1,744.1L65.3,740.7L65.8,740.4Z" fill="#fff" stroke="#fff" stroke-width="0.8"/>
<polyline points="73.0,756.5 73.5,756.1 74.0,755.7 74.4,755.2 74.8,754.7 75.1,754.1 75.4,753.4 75.6,752.7 75.8,751.9 75.8,751.2 75.9,750.4 75.8,749.5 75.7,748.7 75.5,747.9 75.3,747.0 75.0,746.2 74.6,745.4 74.2,744.7 73.8,744.0 73.3,743.3 72.7,742.7 72.2,742.1 71.6,741.6 70.9,741.2 70.3,740.8 69.6,740.5 69.0,740.3 68.3,740.2 67.7,740.1 67.0,740.1 66.4,740.2 65.8,740.4 65.3,740.7" fill="none" stroke="#000" stroke-width="2.0" stroke-linejoin="round" />
<path d="M66.9,759.9l6.1,-3.4M59.1,744.1l6.1,-3.4" fill="none" stroke="#000" stroke-width="2.0"/>
<polygon points="66.3,760.2 66.9,759.9 67.4,759.5 67.9,759.1 68.3,758.6 68.7,758.1 69.0,757.5 69.3,756.8 69.5,756.1 69.6,755.3 69.7,754.6 69.7,753.8 69.7,752.9 69.6,752.1 69.4,751.3 69.2,750.4 68.9,749.6 68.5,748.8 68.1,748.1 67.7,747.4 67.2,746.7 66.6,746.1 66.1,745.5 65.4,745.0 64.8,744.6 64.2,744.2 63.5,743.9 62.9,743.7 62.2,743.6 61.6,743.5 60.9,743.5 60.3,743.6 59.7,743.8 59.1,744.1 58.6,744.5 58.1,744.9 57.7,745.4 57.3,745.9 57.0,746.5 56.7,747.2 56.5,747.9 56.4,748.7 56.3,749.4 56.3,750.2 56.3,751.1 56.4,751.9 56.6,752.7 56.8,753.6 57.1,754.4 57.5,755.2 57.9,755.9 58.3,756.6 58.8,757.3 59.4,757.9 59.9,758.5 60.6,759.0 61.2,759.4 61.8,759.8 62.5,760.1 63.1,760.3 63.8,760.4 64.4,760.5 65.1,760.5 65.7,760.4" fill="#fff" stroke="#000" stroke-width="2.0" stroke-linejoin="round" />
<polygon points="64.0,756.4 64.6,756.1 65.1,755.6 65.5,755.0 65.8,754.3 65.9,753.5 65.9,752.7 65.8,751.9 65.5,751.0 65.1,750.3 64.6,749.6 64.1,749.0 63.4,748.5 62.8,748.2 62.1,748.1 61.4,748.1 60.8,748.2 60.2,748.5 59.7,749.0 59.3,749.6 59.0,750.3 58.9,751.1 58.9,751.9 59.0,752.7 59.3,753.6 59.7,754.3 60.2,755.0 60.7,755.6 61.4,756.1 62.0,756.4 62.7,756.5 63.4,756.5" fill="#fff" stroke="#000" stroke-width="1.0" stroke-linejoin="round" />
<path d="M366.9,635.2L367.8,634.8L385.8,628.8L384.9,629.2ZM367.8,634.8L367.7,632.0L385.7,626.0L385.8,628.8ZM367.7,632.0L368.5,631.7L386.5,625.7L385.7,626.0ZM370.3,633.6L371.1,633.2L389.1,627.2L388.3,627.6ZM371.1,633.2L370.8,630.3L388.8,624.3L389.1,627.2ZM370.8,630.3L371.5,629.8L389.5,623.8L388.8,624.3ZM373.4,631.6L374.1,631.0L392.1,625.0L391.4,625.6ZM374.1,631.0L373.6,628.1L391.6,622.1L392.1,625.0ZM373.6,628.1L374.3,627.5L392.3,621.5L391.6,622.1ZM376.3,629.0L376.9,628.3L394.9,622.3L394.3,623.0ZM376.9,628.3L376.2,625.5L394.2,619.5L394.9,622.3ZM376.2,625.5L376.8,624.7L394.8,618.7L394.2,619.5ZM378.8,626.0L379.4,625.2L397.4,619.2L396.8,620.0ZM379.4,625.2L378.5,622.4L396.5,616.4L397.4,619.2ZM378.5,622.4L379.0,621.6L397.0,615.6L396.5,616.4ZM381.1,622.5L381.6,621.6L399.6,615.6L399.1,616.5ZM381.6,621.6L380.5,618.9L398.5,612.9L399.6,615.6ZM380.5,618.9L380.9,618.0L398.9,612.0L398.5,612.9ZM383.0,618.7L383.4,617.6L401.4,611.6L401.0,612.7ZM383.4,617.6L382.1,615.1L400.1,609.1L401.4,611.6ZM382.1,615.1L382.5,614.0L400.5,608.0L400.1,609.1ZM384.6,614.4L384.9,613.3L402.9,607.3L402.6,608.4ZM384.9,613.3L383.4,610.9L401.4,604.9L402.9,607.3ZM383.4,610.9L383.7,609.8L401.7,603.8L401.4,604.9ZM385.7,609.9L386.0,608.7L404.0,602.7L403.7,603.9ZM386.0,608.7L384.4,606.4L402.4,600.4L404.0,602.7ZM384.4,606.4L384.6,605.3L402.6,599.3L402.4,600.4ZM386.5,605.1L386.7,603.9L404.7,597.9L404.5,599.1ZM386.7,603.9L384.9,601.8L402.9,595.8L404.7,597.9ZM384.9,601.8L385.0,600.6L403.0,594.6L402.9,595.8ZM386.9,600.1L387.0,598.8L405.0,592.8L404.9,594.1ZM387.0,598.8L385.1,597.0L403.1,591.0L405.0,592.8ZM385.1,597.0L385.1,595.7L403.1,589.7L403.1,591.0ZM385.1,595.7L386.9,594.9L404.9,588.9L403.1,589.7ZM386.9,594.9L386.8,593.6L404.8,587.6L404.9,588.9ZM386.8,593.6L384.9,592.0L402.9,586.0L404.8,587.6ZM384.9,592.0L384.8,590.7L402.8,584.7L402.9,586.0ZM384.8,590.7L386.5,589.7L404.5,583.7L402.8,584.7ZM386.5,589.7L386.3,588.4L404.3,582.4L404.5,583.7ZM386.3,588.4L384.3,587.0L402.3,581.0L404.3,582.4ZM384.3,587.0L384.1,585.7L402.1,579.7L402.3,581.0ZM384.1,585.7L385.7,584.4L403.7,578.4L402.1,579.7ZM385.7,584.4L385.4,583.1L403.4,577.1L403.7,578.4ZM385.4,583.1L383.3,581.9L401.3,575.9L403.4,577.1ZM383.3,581.9L383.0,580.7L401.0,574.7L401.3,575.9ZM383.0,580.7L384.4,579.1L402.4,573.1L401.0,574.7ZM384.4,579.1L384.1,577.8L402.1,571.8L402.4,573.1ZM384.1,577.8L382.0,577.0L400.0,571.0L402.1,571.8ZM382.0,577.0L381.6,575.7L399.6,569.7L400.0,571.0ZM381.6,575.7L382.9,573.9L400.9,567.9L399.6,569.7ZM382.9,573.9L382.4,572.6L400.4,566.6L400.9,567.9ZM382.4,572.6L380.3,572.1L398.3,566.1L400.4,566.6ZM380.3,572.1L379.9,570.9L397.9,564.9L398.3,566.1ZM379.9,570.9L380.9,568.8L398.9,562.8L397.9,564.9ZM380.9,568.8L380.4,567.6L398.4,561.6L398.9,562.8ZM380.4,567.6L378.3,567.3L396.3,561.3L398.4,561.6ZM378.3,567.3L377.8,566.2L395.8,560.2L396.3,561.3ZM377.8,566.2L378.6,563.9L396.6,557.9L395.8,560.2ZM378.6,563.9L378.0,562.8L396.0,556.8L396.6,557.9ZM378.0,562.8L376.0,562.8L394.0,556.8L396.0,556.8ZM376.0,562.8L375.4,561.7L393.4,555.7L394.0,556.8ZM375.4,561.7L376.0,559.3L394.0,553.3L393.4,555.7ZM376.0,559.3L375.3,558.2L393.3,552.2L394.0,553.3ZM375.3,558.2L373.4,558.5L391.4,552.5L393.3,552.2ZM373.4,558.5L372.7,557.5L390.7,551.5L391.4,552.5ZM372.7,557.5L373.1,554.9L391.1,548.9L390.7,551.5ZM373.1,554.9L372.4,553.9L390.4,547.9L391.1,548.9ZM370.5,554.6L369.8,553.6L387.8,547.6L388.5,548.6ZM369.8,553.6L370.0,550.9L388.0,544.9L387.8,547.6ZM370.0,550.9L369.2,550.0L387.2,544.0L388.0,544.9ZM367.4,550.9L366.6,550.1L384.6,544.1L385.4,544.9ZM366.6,550.1L366.6,547.3L384.6,541.3L384.6,544.1ZM366.6,547.3L365.8,546.5L383.8,540.5L384.6,541.3ZM364.1,547.7L363.3,546.9L381.3,540.9L382.1,541.7ZM363.3,546.9L363.1,544.1L381.1,538.1L381.3,540.9ZM363.1,544.1L362.2,543.4L380.2,537.4L381.1,538.1ZM360.7,544.8L359.8,544.2L377.8,538.2L378.7,538.8ZM359.8,544.2L359.4,541.4L377.4,535.4L377.8,538.2ZM359.4,541.4L358.5,540.8L376.5,534.8L377.4,535.4ZM357.1,542.5L356.2,542.0L374.2,536.0L375.1,536.5ZM356.2,542.0L355.6,539.1L373.6,533.1L374.2,536.0ZM355.6,539.1L354.7,538.6L372.7,532.6L373.6,533.1ZM353.5,540.6L352.6,540.2L370.6,534.2L371.5,534.6ZM352.6,540.2L351.8,537.4L369.8,531.4L370.6,534.2ZM351.8,537.4L350.8,537.0L368.8,531.0L369.8,531.4ZM349.8,539.2L348.9,538.9L366.9,532.9L367.8,533.2ZM348.9,538.9L347.9,536.2L365.9,530.2L366.9,532.9ZM347.9,536.2L346.9,536.0L364.9,530.0L365.9,530.2ZM346.2,538.3L345.3,538.1L363.3,532.1L364.2,532.3ZM345.3,538.1L344.0,535.5L362.0,529.5L363.3,532.1ZM344.0,535.5L343.1,535.4L361.1,529.4L362.0,529.5ZM342.5,537.9L341.6,537.9L359.6,531.9L360.5,531.9ZM341.6,537.9L340.3,535.4L358.3,529.4L359.6,531.9ZM340.3,535.4L339.3,535.5L357.3,529.5L358.3,529.4ZM339.0,538.1L338.1,538.2L356.1,532.2L357.0,532.1ZM338.1,538.2L336.6,535.8L354.6,529.8L356.1,532.2ZM336.6,535.8L335.7,536.0L353.7,530.0L354.6,529.8ZM335.6,538.8L334.7,539.0L352.7,533.0L353.6,532.8ZM334.7,539.0L333.1,536.8L351.1,530.8L352.7,533.0ZM331.5,540.3L329.7,538.4L347.7,532.4L349.5,534.3ZM328.5,542.2L326.6,540.4L344.6,534.4L346.5,536.2ZM325.7,544.5L323.7,543.0L341.7,537.0L343.7,538.5ZM323.2,547.3L321.2,546.0L339.2,540.0L341.2,541.3ZM321.0,550.4L318.9,549.5L336.9,543.5L339.0,544.4ZM319.1,554.0L317.0,553.3L335.0,547.3L337.1,548.0ZM317.5,558.0L315.4,557.6L333.4,551.6L335.5,552.0ZM316.3,562.2L314.3,562.1L332.3,556.1L334.3,556.2ZM315.4,566.7L313.5,566.9L331.5,560.9L333.4,560.7ZM315.0,571.4L313.1,571.9L331.1,565.9L333.0,565.4ZM327.6,618.1L329.5,617.4L347.5,611.4L345.6,612.1ZM330.8,622.0L332.6,621.1L350.6,615.1L348.8,616.0ZM334.2,625.5L335.9,624.3L353.9,618.3L352.2,619.5ZM337.8,628.6L339.3,627.2L357.3,621.2L355.8,622.6ZM341.5,631.2L342.9,629.5L360.9,623.5L359.5,625.2ZM345.3,633.4L346.5,631.4L364.5,625.4L363.3,627.4ZM349.2,635.0L350.2,632.8L368.2,626.8L367.2,629.0ZM353.1,636.0L353.8,633.7L371.8,627.7L371.1,630.0ZM356.9,636.6L357.5,634.1L375.5,628.1L374.9,630.6ZM360.7,636.5L361.0,633.9L379.0,627.9L378.7,630.5ZM364.3,636.0L364.4,633.2L382.4,627.2L382.3,630.0Z" fill="#fff" stroke="#fff" stroke-width="0.8"/>
<polyline points="384.9,629.2 385.8,628.8 385.7,626.0 386.5,625.7" fill="none" stroke="#000" stroke-width="0.9" stroke-linejoin="round" />
<polyline points="388.3,627.6 389.1,627.2 388.8,624.3 389.5,623.8" fill="none" stroke="#000" stroke-width="0.9" stroke-linejoin="round" />
<polyline points="391.4,625.6 392.1,625.0 391.6,622.1 392.3,621.5" fill="none" stroke="#000" stroke-width="0.9" stroke-linejoin="round" />
<polyline points="394.3,623.0 394.9,622.3 394.2,619.5 394.8,618.7" fill="none" stroke="#000" stroke-width="0.9" stroke-linejoin="round" />
<polyline points="396.8,620.0 397.4,619.2 396.5,616.4 397.0,615.6" fill="none" stroke="#000" stroke-width="0.9" stroke-linejoin="round" />
<polyline points="399.1,616.5 399.6,615.6 398.5,612.9 398.9,612.0" fill="none" stroke="#000" stroke-width="0.9" stroke-linejoin="round" />
<polyline points="401.0,612.7 401.4,611.6 400.1,609.1 400.5,608.0" fill="none" stroke="#000" stroke-width="0.9" stroke-linejoin="round" />
<polyline points="402.6,608.4 402.9,607.3 401.4,604.9 401.7,603.8" fill="none" stroke="#000" stroke-width="0.9" stroke-linejoin="round" />
<polyline points="403.7,603.9 404.0,602.7 402.4,600.4 402.6,599.3" fill="none" stroke="#000" stroke-width="0.9" stroke-linejoin="round" />
<polyline points="404.5,599.1 404.7,597.9 402.9,595.8 403.0,594.6" fill="none" stroke="#000" stroke-width="0.9" stroke-linejoin="round" />
<polyline points="404.9,594.1 405.0,592.8 403.1,591.0 403.1,589.7 404.9,588.9 404.8,587.6 402.9,586.0 402.8,584.7 404.5,583.7 404.3,582.4 402.3,581.0 402.1,579.7 403.7,578.4 403.4,577.1 401.3,575.9 401.0,574.7 402.4,573.1 402.1,571.8 400.0,571.0 399.6,569.7 400.9,567.9 400.4,566.6 398.3,566.1 397.9,564.9 398.9,562.8 398.4,561.6 396.3,561.3 395.8,560.2 396.6,557.9 396.0,556.8 394.0,556.8 393.4,555.7 394.0,553.3 393.3,552.2 391.4,552.5 390.7,551.5 391.1,548.9 390.4,547.9" fill="none" stroke="#000" stroke-width="0.9" stroke-linejoin="round" />
<polyline points="388.5,548.6 387.8,547.6 388.0,544.9 387.2,544.0" fill="none" stroke="#000" stroke-width="0.9" stroke-linejoin="round" />
<polyline points="385.4,544.9 384.6,544.1 384.6,541.3 383.8,540.5" fill="none" stroke="#000" stroke-width="0.9" stroke-linejoin="round" />
<polyline points="382.1,541.7 381.3,540.9 381.1,538.1 380.2,537.4" fill="none" stroke="#000" stroke-width="0.9" stroke-linejoin="round" />
<polyline points="378.7,538.8 377.8,538.2 377.4,535.4 376.5,534.8" fill="none" stroke="#000" stroke-width="0.9" stroke-linejoin="round" />
<polyline points="375.1,536.5 374.2,536.0 373.6,533.1 372.7,532.6" fill="none" stroke="#000" stroke-width="0.9" stroke-linejoin="round" />
<polyline points="371.5,534.6 370.6,534.2 369.8,531.4 368.8,531.0" fill="none" stroke="#000" stroke-width="0.9" stroke-linejoin="round" />
<polyline points="367.8,533.2 366.9,532.9 365.9,530.2 364.9,530.0" fill="none" stroke="#000" stroke-width="0.9" stroke-linejoin="round" />
<polyline points="364.2,532.3 363.3,532.1 362.0,529.5 361.1,529.4" fill="none" stroke="#000" stroke-width="0.9" stroke-linejoin="round" />
<polyline points="360.5,531.9 359.6,531.9 358.3,529.4 357.3,529.5" fill="none" stroke="#000" stroke-width="0.9" stroke-linejoin="round" />
<polyline points="357.0,532.1 356.1,532.2 354.6,529.8 353.7,530.0" fill="none" stroke="#000" stroke-width="0.9" stroke-linejoin="round" />
<polyline points="353.6,532.8 352.7,533.0 351.1,530.8" fill="none" stroke="#000" stroke-width="0.9" stroke-linejoin="round" />
<polyline points="349.5,534.3 347.7,532.4" fill="none" stroke="#000" stroke-width="0.9" stroke-linejoin="round" />
<polyline points="346.5,536.2 344.6,534.4" fill="none" stroke="#000" stroke-width="0.9" stroke-linejoin="round" />
<polyline points="343.7,538.5 341.7,537.0" fill="none" stroke="#000" stroke-width="0.9" stroke-linejoin="round" />
<polyline points="341.2,541.3 339.2,540.0" fill="none" stroke="#000" stroke-width="0.9" stroke-linejoin="round" />
<polyline points="339.0,544.4 336.9,543.5" fill="none" stroke="#000" stroke-width="0.9" stroke-linejoin="round" />
<polyline points="337.1,548.0 335.0,547.3" fill="none" stroke="#000" stroke-width="0.9" stroke-linejoin="round" />
<polyline points="335.5,552.0 333.4,551.6" fill="none" stroke="#000" stroke-width="0.9" stroke-linejoin="round" />
<polyline points="334.3,556.2 332.3,556.1" fill="none" stroke="#000" stroke-width="0.9" stroke-linejoin="round" />
<polyline points="333.4,560.7 331.5,560.9" fill="none" stroke="#000" stroke-width="0.9" stroke-linejoin="round" />
<polyline points="333.0,565.4 331.1,565.9" fill="none" stroke="#000" stroke-width="0.9" stroke-linejoin="round" />
<polyline points="345.6,612.1 347.5,611.4" fill="none" stroke="#000" stroke-width="0.9" stroke-linejoin="round" />
<polyline points="348.8,616.0 350.6,615.1" fill="none" stroke="#000" stroke-width="0.9" stroke-linejoin="round" />
<polyline points="352.2,619.5 353.9,618.3" fill="none" stroke="#000" stroke-width="0.9" stroke-linejoin="round" />
<polyline points="355.8,622.6 357.3,621.2" fill="none" stroke="#000" stroke-width="0.9" stroke-linejoin="round" />
<polyline points="359.5,625.2 360.9,623.5" fill="none" stroke="#000" stroke-width="0.9" stroke-linejoin="round" />
<polyline points="363.3,627.4 364.5,625.4" fill="none" stroke="#000" stroke-width="0.9" stroke-linejoin="round" />
<polyline points="367.2,629.0 368.2,626.8" fill="none" stroke="#000" stroke-width="0.9" stroke-linejoin="round" />
<polyline points="371.1,630.0 371.8,627.7" fill="none" stroke="#000" stroke-width="0.9" stroke-linejoin="round" />
<polyline points="374.9,630.6 375.5,628.1" fill="none" stroke="#000" stroke-width="0.9" stroke-linejoin="round" />
<polyline points="378.7,630.5 379.0,627.9" fill="none" stroke="#000" stroke-width="0.9" stroke-linejoin="round" />
<polyline points="382.3,630.0 382.4,627.2" fill="none" stroke="#000" stroke-width="0.9" stroke-linejoin="round" />
<path d="M366.9,635.2l18.0,-6.0M367.8,634.8l18.0,-6.0M370.3,633.6l18.0,-6.0M371.1,633.2l18.0,-6.0M373.4,631.6l18.0,-6.0M374.1,631.0l18.0,-6.0M376.3,629.0l18.0,-6.0M376.9,628.3l18.0,-6.0M378.8,626.0l18.0,-6.0M379.4,625.2l18.0,-6.0M381.1,622.5l18.0,-6.0M381.6,621.6l18.0,-6.0M383.0,618.7l18.0,-6.0M383.4,617.6l18.0,-6.0M384.6,614.4l18.0,-6.0M384.9,613.3l18.0,-6.0M385.7,609.9l18.0,-6.0M386.0,608.7l18.0,-6.0M386.5,605.1l18.0,-6.0M386.7,603.9l18.0,-6.0M386.9,600.1l18.0,-6.0M387.0,598.8l18.0,-6.0M386.9,594.9l18.0,-6.0M386.8,593.6l18.0,-6.0M386.5,589.7l18.0,-6.0M386.3,588.4l18.0,-6.0M385.7,584.4l18.0,-6.0M385.4,583.1l18.0,-6.0M384.4,579.1l18.0,-6.0M384.1,577.8l18.0,-6.0M382.9,573.9l18.0,-6.0M382.4,572.6l18.0,-6.0M380.9,568.8l18.0,-6.0M380.4,567.6l18.0,-6.0M378.6,563.9l18.0,-6.0M378.0,562.8l18.0,-6.0M376.0,559.3l18.0,-6.0M375.3,558.2l18.0,-6.0M373.1,554.9l18.0,-6.0M372.4,553.9l18.0,-6.0M370.0,550.9l18.0,-6.0M369.2,550.0l18.0,-6.0M366.6,547.3l18.0,-6.0M365.8,546.5l18.0,-6.0M363.1,544.1l18.0,-6.0M362.2,543.4l18.0,-6.0M359.4,541.4l18.0,-6.0M358.5,540.8l18.0,-6.0M355.6,539.1l18.0,-6.0M354.7,538.6l18.0,-6.0M351.8,537.4l18.0,-6.0M350.8,537.0l18.0,-6.0M347.9,536.2l18.0,-6.0M346.9,536.0l18.0,-6.0M344.0,535.5l18.0,-6.0M343.1,535.4l18.0,-6.0M340.3,535.4l18.0,-6.0M339.3,535.5l18.0,-6.0M336.6,535.8l18.0,-6.0M335.7,536.0l18.0,-6.0M333.1,536.8l18.0,-6.0M329.7,538.4l18.0,-6.0M326.6,540.4l18.0,-6.0M323.7,543.0l18.0,-6.0M321.2,546.0l18.0,-6.0M318.9,549.5l18.0,-6.0M317.0,553.3l18.0,-6.0M315.4,557.6l18.0,-6.0M314.3,562.1l18.0,-6.0M313.5,566.9l18.0,-6.0M313.1,571.9l18.0,-6.0M327.6,618.1l18.0,-6.0M330.8,622.0l18.0,-6.0M334.2,625.5l18.0,-6.0M337.8,628.6l18.0,-6.0M341.5,631.2l18.0,-6.0M345.3,633.4l18.0,-6.0M349.2,635.0l18.0,-6.0M353.1,636.0l18.0,-6.0M356.9,636.6l18.0,-6.0M360.7,636.5l18.0,-6.0M364.3,636.0l18.0,-6.0" fill="none" stroke="#000" stroke-width="0.9"/>
<polygon points="365.3,633.0 366.9,635.2 367.8,634.8 367.7,632.0 368.5,631.7 370.3,633.6 371.1,633.2 370.8,630.3 371.5,629.8 373.4,631.6 374.1,631.0 373.6,628.1 374.3,627.5 376.3,629.0 376.9,628.3 376.2,625.5 376.8,624.7 378.8,626.0 379.4,625.2 378.5,622.4 379.0,621.6 381.1,622.5 381.6,621.6 380.5,618.9 380.9,618.0 383.0,618.7 383.4,617.6 382.1,615.1 382.5,614.0 384.6,614.4 384.9,613.3 383.4,610.9 383.7,609.8 385.7,609.9 386.0,608.7 384.4,606.4 384.6,605.3 386.5,605.1 386.7,603.9 384.9,601.8 385.0,600.6 386.9,600.1 387.0,598.8 385.1,597.0 385.1,595.7 386.9,594.9 386.8,593.6 384.9,592.0 384.8,590.7 386.5,589.7 386.3,588.4 384.3,587.0 384.1,585.7 385.7,584.4 385.4,583.1 383.3,581.9 383.0,580.7 384.4,579.1 384.1,577.8 382.0,577.0 381.6,575.7 382.9,573.9 382.4,572.6 380.3,572.1 379.9,570.9 380.9,568.8 380.4,567.6 378.3,567.3 377.8,566.2 378.6,563.9 378.0,562.8 376.0,562.8 375.4,561.7 376.0,559.3 375.3,558.2 373.4,558.5 372.7,557.5 373.1,554.9 372.4,553.9 370.5,554.6 369.8,553.6 370.0,550.9 369.2,550.0 367.4,550.9 366.6,550.1 366.6,547.3 365.8,546.5 364.1,547.7 363.3,546.9 363.1,544.1 362.2,543.4 360.7,544.8 359.8,544.2 359.4,541.4 358.5,540.8 357.1,542.5 356.2,542.0 355.6,539.1 354.7,538.6 353.5,540.6 352.6,540.2 351.8,537.4 350.8,537.0 349.8,539.2 348.9,538.9 347.9,536.2 346.9,536.0 346.2,538.3 345.3,538.1 344.0,535.5 343.1,535.4 342.5,537.9 341.6,537.9 340.3,535.4 339.3,535.5 339.0,538.1 338.1,538.2 336.6,535.8 335.7,536.0 335.6,538.8 334.7,539.0 333.1,536.8 332.2,537.2 332.3,540.0 331.5,540.3 329.7,538.4 328.9,538.8 329.2,541.7 328.5,542.2 326.6,540.4 325.9,541.0 326.4,543.9 325.7,544.5 323.7,543.0 323.1,543.7 323.8,546.5 323.2,547.3 321.2,546.0 320.6,546.8 321.5,549.6 321.0,550.4 318.9,549.5 318.4,550.4 319.5,553.1 319.1,554.0 317.0,553.3 316.6,554.4 317.9,556.9 317.5,558.0 315.4,557.6 315.1,558.7 316.6,561.1 316.3,562.2 314.3,562.1 314.0,563.3 315.6,565.6 315.4,566.7 313.5,566.9 313.3,568.1 315.1,570.2 315.0,571.4 313.1,571.9 313.0,573.2 314.9,575.0 314.9,576.3 313.1,577.1 313.2,578.4 315.1,580.0 315.2,581.3 313.5,582.3 313.7,583.6 315.7,585.0 315.9,586.3 314.3,587.6 314.6,588.9 316.7,590.1 317.0,591.3 315.6,592.9 315.9,594.2 318.0,595.0 318.4,596.3 317.1,598.1 317.6,599.4 319.7,599.9 320.1,601.1 319.1,603.2 319.6,604.4 321.7,604.7 322.2,605.8 321.4,608.1 322.0,609.2 324.0,609.2 324.6,610.3 324.0,612.7 324.7,613.8 326.6,613.5 327.3,614.5 326.9,617.1 327.6,618.1 329.5,617.4 330.2,618.4 330.0,621.1 330.8,622.0 332.6,621.1 333.4,621.9 333.4,624.7 334.2,625.5 335.9,624.3 336.7,625.1 336.9,627.9 337.8,628.6 339.3,627.2 340.2,627.8 340.6,630.6 341.5,631.2 342.9,629.5 343.8,630.0 344.4,632.9 345.3,633.4 346.5,631.4 347.4,631.8 348.2,634.6 349.2,635.0 350.2,632.8 351.1,633.1 352.1,635.8 353.1,636.0 353.8,633.7 354.7,633.9 356.0,636.5 356.9,636.6 357.5,634.1 358.4,634.1 359.7,636.6 360.7,636.5 361.0,633.9 361.9,633.8 363.4,636.2 364.3,636.0 364.4,633.2" fill="#fff" stroke="#000" stroke-width="1.0" stroke-linejoin="round" />
<path d="M349.8,625.1L350.7,624.7L368.7,618.7L367.8,619.1ZM350.7,624.7L350.5,622.0L368.5,616.0L368.7,618.7ZM350.5,622.0L351.3,621.5L369.3,615.5L368.5,616.0ZM353.2,623.3L354.0,622.8L372.0,616.8L371.2,617.3ZM354.0,622.8L353.5,620.0L371.5,614.0L372.0,616.8ZM353.5,620.0L354.1,619.4L372.1,613.4L371.5,614.0ZM356.2,620.8L356.8,620.0L374.8,614.0L374.2,614.8ZM356.8,620.0L356.0,617.3L374.0,611.3L374.8,614.0ZM356.0,617.3L356.6,616.5L374.6,610.5L374.0,611.3ZM358.7,617.5L359.2,616.6L377.2,610.6L376.7,611.5ZM359.2,616.6L358.1,614.0L376.1,608.0L377.2,610.6ZM358.1,614.0L358.5,613.1L376.5,607.1L376.1,608.0ZM360.7,613.6L361.1,612.6L379.1,606.6L378.7,607.6ZM361.1,612.6L359.7,610.2L377.7,604.2L379.1,606.6ZM359.7,610.2L360.0,609.2L378.0,603.2L377.7,604.2ZM362.1,609.2L362.3,608.1L380.3,602.1L380.1,603.2ZM362.3,608.1L360.7,605.9L378.7,599.9L380.3,602.1ZM360.7,605.9L360.8,604.8L378.8,598.8L378.7,599.9ZM362.9,604.5L362.9,603.2L380.9,597.2L380.9,598.5ZM362.9,603.2L361.1,601.4L379.1,595.4L380.9,597.2ZM361.1,601.4L361.1,600.3L379.1,594.3L379.1,595.4ZM361.1,600.3L363.0,599.4L381.0,593.4L379.1,594.3ZM363.0,599.4L362.9,598.2L380.9,592.2L381.0,593.4ZM362.9,598.2L360.9,596.7L378.9,590.7L380.9,592.2ZM360.9,596.7L360.7,595.5L378.7,589.5L378.9,590.7ZM360.7,595.5L362.4,594.3L380.4,588.3L378.7,589.5ZM362.4,594.3L362.2,593.0L380.2,587.0L380.4,588.3ZM362.2,593.0L360.1,592.0L378.1,586.0L380.2,587.0ZM360.1,592.0L359.8,590.8L377.8,584.8L378.1,586.0ZM359.8,590.8L361.3,589.2L379.3,583.2L377.8,584.8ZM361.3,589.2L360.9,587.9L378.9,581.9L379.3,583.2ZM360.9,587.9L358.7,587.3L376.7,581.3L378.9,581.9ZM358.7,587.3L358.3,586.2L376.3,580.2L376.7,581.3ZM358.3,586.2L359.5,584.2L377.5,578.2L376.3,580.2ZM359.5,584.2L358.9,583.0L376.9,577.0L377.5,578.2ZM358.9,583.0L356.8,582.9L374.8,576.9L376.9,577.0ZM356.8,582.9L356.3,581.8L374.3,575.8L374.8,576.9ZM356.3,581.8L357.1,579.5L375.1,573.5L374.3,575.8ZM357.1,579.5L356.5,578.4L374.5,572.4L375.1,573.5ZM356.5,578.4L354.4,578.7L372.4,572.7L374.5,572.4ZM354.4,578.7L353.8,577.8L371.8,571.8L372.4,572.7ZM353.8,577.8L354.3,575.2L372.3,569.2L371.8,571.8ZM354.3,575.2L353.5,574.3L371.5,568.3L372.3,569.2ZM351.6,575.1L350.9,574.2L368.9,568.2L369.6,569.1ZM350.9,574.2L351.1,571.5L369.1,565.5L368.9,568.2ZM351.1,571.5L350.2,570.7L368.2,564.7L369.1,565.5ZM348.5,571.9L347.6,571.2L365.6,565.2L366.5,565.9ZM347.6,571.2L347.5,568.5L365.5,562.5L365.6,565.2ZM347.5,568.5L346.5,567.8L364.5,561.8L365.5,562.5ZM345.1,569.4L344.2,568.9L362.2,562.9L363.1,563.4ZM344.2,568.9L343.7,566.1L361.7,560.1L362.2,562.9ZM343.7,566.1L342.7,565.6L360.7,559.6L361.7,560.1ZM341.5,567.6L340.6,567.3L358.6,561.3L359.5,561.6ZM340.6,567.3L339.7,564.5L357.7,558.5L358.6,561.3ZM339.7,564.5L338.7,564.3L356.7,558.3L357.7,558.5ZM337.8,566.5L336.9,566.4L354.9,560.4L355.8,560.5ZM336.9,566.4L335.8,563.8L353.8,557.8L354.9,560.4ZM335.8,563.8L334.8,563.8L352.8,557.8L353.8,557.8ZM334.2,566.3L333.3,566.3L351.3,560.3L352.2,560.3ZM333.3,566.3L331.9,563.9L349.9,557.9L351.3,560.3ZM331.9,563.9L331.0,564.1L349.0,558.1L349.9,557.9ZM330.7,566.8L329.9,567.0L347.9,561.0L348.7,560.8ZM329.9,567.0L328.2,564.9L346.2,558.9L347.9,561.0ZM326.7,568.5L324.8,566.7L342.8,560.7L344.7,562.5ZM323.9,570.6L321.8,569.2L339.8,563.2L341.9,564.6ZM321.4,573.5L319.3,572.5L337.3,566.5L339.4,567.5ZM319.5,576.9L317.3,576.4L335.3,570.4L337.5,570.9ZM318.0,580.8L315.9,580.8L333.9,574.8L336.0,574.8ZM317.2,585.2L315.1,585.5L333.1,579.5L335.2,579.2ZM324.5,615.7L326.4,614.9L344.4,608.9L342.5,609.7ZM327.8,619.3L329.5,618.1L347.5,612.1L345.8,613.3ZM331.5,622.2L332.9,620.6L350.9,614.6L349.5,616.2ZM335.3,624.4L336.5,622.4L354.5,616.4L353.3,618.4ZM339.3,625.7L340.2,623.5L358.2,617.5L357.3,619.7ZM343.2,626.2L343.8,623.7L361.8,617.7L361.2,620.2ZM347.0,625.9L347.3,623.2L365.3,617.2L365.0,619.9Z" fill="#fff" stroke="#fff" stroke-width="0.8"/>
<polyline points="367.8,619.1 368.7,618.7 368.5,616.0 369.3,615.5" fill="none" stroke="#000" stroke-width="0.9" stroke-linejoin="round" />
<polyline points="371.2,617.3 372.0,616.8 371.5,614.0 372.1,613.4" fill="none" stroke="#000" stroke-width="0.9" stroke-linejoin="round" />
<polyline points="374.2,614.8 374.8,614.0 374.0,611.3 374.6,610.5" fill="none" stroke="#000" stroke-width="0.9" stroke-linejoin="round" />
<polyline points="376.7,611.5 377.2,610.6 376.1,608.0 376.5,607.1" fill="none" stroke="#000" stroke-width="0.9" stroke-linejoin="round" />
<polyline points="378.7,607.6 379.1,606.6 377.7,604.2 378.0,603.2" fill="none" stroke="#000" stroke-width="0.9" stroke-linejoin="round" />
<polyline points="380.1,603.2 380.3,602.1 378.7,599.9 378.8,598.8" fill="none" stroke="#000" stroke-width="0.9" stroke-linejoin="round" />
<polyline points="380.9,598.5 380.9,597.2 379.1,595.4 379.1,594.3 381.0,593.4 380.9,592.2 378.9,590.7 378.7,589.5 380.4,588.3 380.2,587.0 378.1,586.0 377.8,584.8 379.3,583.2 378.9,581.9 376.7,581.3 376.3,580.2 377.5,578.2 376.9,577.0 374.8,576.9 374.3,575.8 375.1,573.5 374.5,572.4 372.4,572.7 371.8,571.8 372.3,569.2 371.5,568.3" fill="none" stroke="#000" stroke-width="0.9" stroke-linejoin="round" />
<polyline points="369.6,569.1 368.9,568.2 369.1,565.5 368.2,564.7" fill="none" stroke="#000" stroke-width="0.9" stroke-linejoin="round" />
<polyline points="366.5,565.9 365.6,565.2 365.5,562.5 364.5,561.8" fill="none" stroke="#000" stroke-width="0.9" stroke-linejoin="round" />
<polyline points="363.1,563.4 362.2,562.9 361.7,560.1 360.7,559.6" fill="none" stroke="#000" stroke-width="0.9" stroke-linejoin="round" />
<polyline points="359.5,561.6 358.6,561.3 357.7,558.5 356.7,558.3" fill="none" stroke="#000" stroke-width="0.9" stroke-linejoin="round" />
<polyline points="355.8,560.5 354.9,560.4 353.8,557.8 352.8,557.8" fill="none" stroke="#000" stroke-width="0.9" stroke-linejoin="round" />
<polyline points="352.2,560.3 351.3,560.3 349.9,557.9 349.0,558.1" fill="none" stroke="#000" stroke-width="0.9" stroke-linejoin="round" />
<polyline points="348.7,560.8 347.9,561.0 346.2,558.9" fill="none" stroke="#000" stroke-width="0.9" stroke-linejoin="round" />
<polyline points="344.7,562.5 342.8,560.7" fill="none" stroke="#000" stroke-width="0.9" stroke-linejoin="round" />
<polyline points="341.9,564.6 339.8,563.2" fill="none" stroke="#000" stroke-width="0.9" stroke-linejoin="round" />
<polyline points="339.4,567.5 337.3,566.5" fill="none" stroke="#000" stroke-width="0.9" stroke-linejoin="round" />
<polyline points="337.5,570.9 335.3,570.4" fill="none" stroke="#000" stroke-width="0.9" stroke-linejoin="round" />
<polyline points="336.0,574.8 333.9,574.8" fill="none" stroke="#000" stroke-width="0.9" stroke-linejoin="round" />
<polyline points="335.2,579.2 333.1,579.5" fill="none" stroke="#000" stroke-width="0.9" stroke-linejoin="round" />
<polyline points="342.5,609.7 344.4,608.9" fill="none" stroke="#000" stroke-width="0.9" stroke-linejoin="round" />
<polyline points="345.8,613.3 347.5,612.1" fill="none" stroke="#000" stroke-width="0.9" stroke-linejoin="round" />
<polyline points="349.5,616.2 350.9,614.6" fill="none" stroke="#000" stroke-width="0.9" stroke-linejoin="round" />
<polyline points="353.3,618.4 354.5,616.4" fill="none" stroke="#000" stroke-width="0.9" stroke-linejoin="round" />
<polyline points="357.3,619.7 358.2,617.5" fill="none" stroke="#000" stroke-width="0.9" stroke-linejoin="round" />
<polyline points="361.2,620.2 361.8,617.7" fill="none" stroke="#000" stroke-width="0.9" stroke-linejoin="round" />
<polyline points="365.0,619.9 365.3,617.2" fill="none" stroke="#000" stroke-width="0.9" stroke-linejoin="round" />
<path d="M349.8,625.1l18.0,-6.0M350.7,624.7l18.0,-6.0M353.2,623.3l18.0,-6.0M354.0,622.8l18.0,-6.0M356.2,620.8l18.0,-6.0M356.8,620.0l18.0,-6.0M358.7,617.5l18.0,-6.0M359.2,616.6l18.0,-6.0M360.7,613.6l18.0,-6.0M361.1,612.6l18.0,-6.0M362.1,609.2l18.0,-6.0M362.3,608.1l18.0,-6.0M362.9,604.5l18.0,-6.0M362.9,603.2l18.0,-6.0M363.0,599.4l18.0,-6.0M362.9,598.2l18.0,-6.0M362.4,594.3l18.0,-6.0M362.2,593.0l18.0,-6.0M361.3,589.2l18.0,-6.0M360.9,587.9l18.0,-6.0M359.5,584.2l18.0,-6.0M358.9,583.0l18.0,-6.0M357.1,579.5l18.0,-6.0M356.5,578.4l18.0,-6.0M354.3,575.2l18.0,-6.0M353.5,574.3l18.0,-6.0M351.1,571.5l18.0,-6.0M350.2,570.7l18.0,-6.0M347.5,568.5l18.0,-6.0M346.5,567.8l18.0,-6.0M343.7,566.1l18.0,-6.0M342.7,565.6l18.0,-6.0M339.7,564.5l18.0,-6.0M338.7,564.3l18.0,-6.0M335.8,563.8l18.0,-6.0M334.8,563.8l18.0,-6.0M331.9,563.9l18.0,-6.0M331.0,564.1l18.0,-6.0M328.2,564.9l18.0,-6.0M324.8,566.7l18.0,-6.0M321.8,569.2l18.0,-6.0M319.3,572.5l18.0,-6.0M317.3,576.4l18.0,-6.0M315.9,580.8l18.0,-6.0M315.1,585.5l18.0,-6.0M324.5,615.7l18.0,-6.0M327.8,619.3l18.0,-6.0M331.5,622.2l18.0,-6.0M335.3,624.4l18.0,-6.0M339.3,625.7l18.0,-6.0M343.2,626.2l18.0,-6.0M347.0,625.9l18.0,-6.0" fill="none" stroke="#000" stroke-width="0.9"/>
<polygon points="348.1,623.0 349.8,625.1 350.7,624.7 350.5,622.0 351.3,621.5 353.2,623.3 354.0,622.8 353.5,620.0 354.1,619.4 356.2,620.8 356.8,620.0 356.0,617.3 356.6,616.5 358.7,617.5 359.2,616.6 358.1,614.0 358.5,613.1 360.7,613.6 361.1,612.6 359.7,610.2 360.0,609.2 362.1,609.2 362.3,608.1 360.7,605.9 360.8,604.8 362.9,604.5 362.9,603.2 361.1,601.4 361.1,600.3 363.0,599.4 362.9,598.2 360.9,596.7 360.7,595.5 362.4,594.3 362.2,593.0 360.1,592.0 359.8,590.8 361.3,589.2 360.9,587.9 358.7,587.3 358.3,586.2 359.5,584.2 358.9,583.0 356.8,582.9 356.3,581.8 357.1,579.5 356.5,578.4 354.4,578.7 353.8,577.8 354.3,575.2 353.5,574.3 351.6,575.1 350.9,574.2 351.1,571.5 350.2,570.7 348.5,571.9 347.6,571.2 347.5,568.5 346.5,567.8 345.1,569.4 344.2,568.9 343.7,566.1 342.7,565.6 341.5,567.6 340.6,567.3 339.7,564.5 338.7,564.3 337.8,566.5 336.9,566.4 335.8,563.8 334.8,563.8 334.2,566.3 333.3,566.3 331.9,563.9 331.0,564.1 330.7,566.8 329.9,567.0 328.2,564.9 327.3,565.3 327.5,568.0 326.7,568.5 324.8,566.7 324.0,567.2 324.5,570.0 323.9,570.6 321.8,569.2 321.2,570.0 322.0,572.7 321.4,573.5 319.3,572.5 318.8,573.4 319.9,576.0 319.5,576.9 317.3,576.4 316.9,577.4 318.3,579.8 318.0,580.8 315.9,580.8 315.7,581.9 317.3,584.1 317.2,585.2 315.1,585.5 315.1,586.8 316.9,588.6 316.9,589.7 315.0,590.6 315.1,591.8 317.1,593.3 317.3,594.5 315.6,595.7 315.8,597.0 317.9,598.0 318.2,599.2 316.7,600.8 317.1,602.1 319.3,602.7 319.7,603.8 318.5,605.8 319.1,607.0 321.2,607.1 321.7,608.2 320.9,610.5 321.5,611.6 323.6,611.3 324.2,612.2 323.7,614.8 324.5,615.7 326.4,614.9 327.1,615.8 326.9,618.5 327.8,619.3 329.5,618.1 330.4,618.8 330.5,621.5 331.5,622.2 332.9,620.6 333.8,621.1 334.3,623.9 335.3,624.4 336.5,622.4 337.4,622.7 338.3,625.5 339.3,625.7 340.2,623.5 341.1,623.6 342.2,626.2 343.2,626.2 343.8,623.7 344.7,623.7 346.1,626.1 347.0,625.9 347.3,623.2" fill="#fff" stroke="#000" stroke-width="1.0" stroke-linejoin="round" />
<polygon points="342.5,612.6 343.8,612.3 344.9,611.8 346.1,611.1 347.1,610.3 348.1,609.4 349.0,608.3 349.8,607.1 350.5,605.8 351.1,604.5 351.5,603.0 351.9,601.5 352.1,599.9 352.2,598.2 352.2,596.6 352.0,594.9 351.7,593.3 351.3,591.7 350.8,590.1 350.1,588.6 349.4,587.1 348.5,585.8 347.6,584.5 346.6,583.4 345.5,582.3 344.3,581.4 343.1,580.7 341.9,580.1 340.6,579.6 339.3,579.3 338.0,579.2 336.7,579.2 335.5,579.4 334.2,579.7 333.1,580.2 331.9,580.9 330.9,581.7 329.9,582.6 329.0,583.7 328.2,584.9 327.5,586.2 326.9,587.5 326.5,589.0 326.1,590.5 325.9,592.1 325.8,593.8 325.8,595.4 326.0,597.1 326.3,598.7 326.7,600.3 327.2,601.9 327.9,603.4 328.6,604.9 329.5,606.2 330.4,607.5 331.4,608.6 332.5,609.7 333.7,610.6 334.9,611.3 336.1,611.9 337.4,612.4 338.7,612.7 340.0,612.8 341.3,612.8" fill="#fff" stroke="#000" stroke-width="1.1" stroke-linejoin="round" />
<polygon points="339.7,604.8 340.2,604.7 340.8,604.4 341.3,604.1 341.8,603.8 342.2,603.3 342.6,602.8 343.0,602.3 343.3,601.7 343.6,601.0 343.8,600.3 344.0,599.6 344.1,598.8 344.1,598.1 344.1,597.3 344.0,596.5 343.9,595.8 343.7,595.0 343.4,594.2 343.1,593.5 342.8,592.9 342.4,592.2 342.0,591.6 341.5,591.1 341.0,590.6 340.4,590.2 339.9,589.8 339.3,589.5 338.7,589.3 338.1,589.1 337.5,589.1 336.9,589.1 336.3,589.2 335.8,589.3 335.2,589.6 334.7,589.9 334.2,590.2 333.8,590.7 333.4,591.2 333.0,591.7 332.7,592.3 332.4,593.0 332.2,593.7 332.0,594.4 331.9,595.2 331.9,595.9 331.9,596.7 332.0,597.5 332.1,598.2 332.3,599.0 332.6,599.8 332.9,600.5 333.2,601.1 333.6,601.8 334.0,602.4 334.5,602.9 335.0,603.4 335.6,603.8 336.1,604.2 336.7,604.5 337.3,604.7 337.9,604.9 338.5,604.9 339.1,604.9" fill="#fff" stroke="#000" stroke-width="1.1" stroke-linejoin="round" />
<path d="M317.6,643.4L319.7,642.6L322.7,641.6L320.6,642.4ZM319.7,642.6L321.7,641.5L324.7,640.5L322.7,641.6ZM321.7,641.5L323.6,640.1L326.6,639.1L324.7,640.5ZM323.6,640.1L325.4,638.4L328.4,637.4L326.6,639.1ZM325.4,638.4L327.1,636.6L330.1,635.6L328.4,637.4ZM327.1,636.6L328.5,634.5L331.5,633.5L330.1,635.6ZM328.5,634.5L329.8,632.2L332.8,631.2L331.5,633.5ZM329.8,632.2L330.9,629.7L333.9,628.7L332.8,631.2ZM330.9,629.7L331.8,627.0L334.8,626.0L333.9,628.7ZM331.8,627.0L332.5,624.3L335.5,623.3L334.8,626.0ZM332.5,624.3L333.0,621.4L336.0,620.4L335.5,623.3ZM333.0,621.4L333.2,618.4L336.2,617.4L336.0,620.4ZM333.2,618.4L333.3,615.4L336.3,614.4L336.2,617.4ZM333.3,615.4L333.1,612.4L336.1,611.4L336.3,614.4ZM333.1,612.4L332.7,609.4L335.7,608.4L336.1,611.4ZM332.7,609.4L332.0,606.4L335.0,605.4L335.7,608.4ZM332.0,606.4L331.2,603.5L334.2,602.5L335.0,605.4ZM331.2,603.5L330.1,600.7L333.1,599.7L334.2,602.5ZM330.1,600.7L328.9,598.0L331.9,597.0L333.1,599.7ZM328.9,598.0L327.4,595.5L330.4,594.5L331.9,597.0ZM327.4,595.5L325.8,593.1L328.8,592.1L330.4,594.5ZM325.8,593.1L324.1,590.9L327.1,589.9L328.8,592.1ZM324.1,590.9L322.2,589.0L325.2,588.0L327.1,589.9ZM322.2,589.0L320.2,587.3L323.2,586.3L325.2,588.0ZM320.2,587.3L318.1,585.8L321.1,584.8L323.2,586.3ZM318.1,585.8L315.9,584.6L318.9,583.6L321.1,584.8ZM315.9,584.6L313.7,583.7L316.7,582.7L318.9,583.6ZM313.7,583.7L311.4,583.0L314.4,582.0L316.7,582.7ZM311.4,583.0L309.1,582.7L312.1,581.7L314.4,582.0ZM309.1,582.7L306.9,582.6L309.9,581.6L312.1,581.7ZM306.9,582.6L304.6,582.9L307.6,581.9L309.9,581.6ZM304.6,582.9L302.4,583.4L305.4,582.4L307.6,581.9Z" fill="#fff" stroke="#fff" stroke-width="0.8"/>
<polyline points="320.6,642.4 322.7,641.6 324.7,640.5 326.6,639.1 328.4,637.4 330.1,635.6 331.5,633.5 332.8,631.2 333.9,628.7 334.8,626.0 335.5,623.3 336.0,620.4 336.2,617.4 336.3,614.4 336.1,611.4 335.7,608.4 335.0,605.4 334.2,602.5 333.1,599.7 331.9,597.0 330.4,594.5 328.8,592.1 327.1,589.9 325.2,588.0 323.2,586.3 321.1,584.8 318.9,583.6 316.7,582.7 314.4,582.0 312.1,581.7 309.9,581.6 307.6,581.9 305.4,582.4" fill="none" stroke="#000" stroke-width="1.5" stroke-linejoin="round" />
<path d="M317.6,643.4l3.0,-1.0M302.4,583.4l3.0,-1.0" fill="none" stroke="#000" stroke-width="1.5"/>
<polygon points="315.4,643.9 317.6,643.4 319.7,642.6 321.7,641.5 323.6,640.1 325.4,638.4 327.1,636.6 328.5,634.5 329.8,632.2 330.9,629.7 331.8,627.0 332.5,624.3 333.0,621.4 333.2,618.4 333.3,615.4 333.1,612.4 332.7,609.4 332.0,606.4 331.2,603.5 330.1,600.7 328.9,598.0 327.4,595.5 325.8,593.1 324.1,590.9 322.2,589.0 320.2,587.3 318.1,585.8 315.9,584.6 313.7,583.7 311.4,583.0 309.1,582.7 306.9,582.6 304.6,582.9 302.4,583.4 300.3,584.2 298.3,585.3 296.4,586.7 294.6,588.4 292.9,590.2 291.5,592.3 290.2,594.6 289.1,597.1 288.2,599.8 287.5,602.5 287.0,605.4 286.8,608.4 286.7,611.4 286.9,614.4 287.3,617.4 288.0,620.4 288.8,623.3 289.9,626.1 291.1,628.8 292.6,631.3 294.2,633.7 295.9,635.9 297.8,637.8 299.8,639.5 301.9,641.0 304.1,642.2 306.3,643.1 308.6,643.8 310.9,644.1 313.1,644.2" fill="#fff" stroke="#000" stroke-width="1.5" stroke-linejoin="round" />
<polygon points="310.2,620.8 310.6,620.6 311.0,620.4 311.4,620.1 311.7,619.8 312.0,619.4 312.3,619.0 312.5,618.5 312.7,618.0 312.8,617.4 312.9,616.8 313.0,616.2 313.0,615.5 313.0,614.9 312.9,614.2 312.8,613.5 312.7,612.9 312.5,612.2 312.2,611.6 311.9,610.9 311.6,610.4 311.3,609.8 310.9,609.3 310.5,608.8 310.1,608.4 309.7,608.1 309.3,607.7 308.8,607.5 308.4,607.3 307.9,607.2 307.5,607.1 307.0,607.2 306.6,607.2 306.2,607.4 305.8,607.6 305.4,607.9 305.1,608.2 304.8,608.6 304.5,609.0 304.3,609.5 304.1,610.0 304.0,610.6 303.9,611.2 303.8,611.8 303.8,612.5 303.8,613.1 303.9,613.8 304.0,614.5 304.1,615.1 304.3,615.8 304.6,616.4 304.9,617.1 305.2,617.6 305.5,618.2 305.9,618.7 306.3,619.2 306.7,619.6 307.1,619.9 307.5,620.3 308.0,620.5 308.4,620.7 308.9,620.8 309.3,620.9 309.8,620.8" fill="#fff" stroke="#000" stroke-width="1.4" stroke-linejoin="round" />
<polygon points="269.8,639.6 310.9,616.4 307.1,609.6 266.0,632.8" fill="#fff" stroke="#000" stroke-width="1.3" stroke-linejoin="round" />
<path d="M279.6,625.2Q279.0,629.6 282.5,632.4M282.7,623.5Q282.1,627.9 285.6,630.7M285.7,621.7Q285.1,626.2 288.6,629.0M288.7,620.0Q288.2,624.4 291.7,627.2M291.8,618.3Q291.2,622.7 294.7,625.5M294.8,616.6Q294.3,621.0 297.8,623.8M297.9,614.8Q297.3,619.3 300.8,622.1M300.9,613.1Q300.4,617.6 303.9,620.3M304.0,611.4Q303.4,615.8 306.9,618.6" stroke="#000" stroke-width="1.2" fill="none"/>
<path d="M266.9,646.9L267.4,646.5L273.5,643.1L273.0,643.4ZM267.4,646.5L267.9,646.1L274.0,642.7L273.5,643.1ZM267.9,646.1L268.3,645.6L274.4,642.2L274.0,642.7ZM268.3,645.6L268.7,645.1L274.8,641.6L274.4,642.2ZM268.7,645.1L269.0,644.5L275.1,641.0L274.8,641.6ZM269.0,644.5L269.3,643.8L275.4,640.4L275.1,641.0ZM269.3,643.8L269.5,643.1L275.6,639.6L275.4,640.4ZM269.5,643.1L269.6,642.3L275.7,638.9L275.6,639.6ZM269.6,642.3L269.7,641.6L275.8,638.1L275.7,638.9ZM269.7,641.6L269.7,640.8L275.8,637.3L275.8,638.1ZM269.7,640.8L269.7,639.9L275.8,636.5L275.8,637.3ZM269.7,639.9L269.6,639.1L275.7,635.7L275.8,636.5ZM269.6,639.1L269.4,638.3L275.5,634.8L275.7,635.7ZM269.4,638.3L269.2,637.4L275.3,634.0L275.5,634.8ZM269.2,637.4L268.9,636.6L275.0,633.2L275.3,634.0ZM268.9,636.6L268.5,635.8L274.6,632.4L275.0,633.2ZM268.5,635.8L268.1,635.1L274.2,631.6L274.6,632.4ZM268.1,635.1L267.7,634.4L273.8,630.9L274.2,631.6ZM267.7,634.4L267.2,633.7L273.3,630.2L273.8,630.9ZM267.2,633.7L266.6,633.1L272.7,629.6L273.3,630.2ZM266.6,633.1L266.1,632.5L272.1,629.0L272.7,629.6ZM266.1,632.5L265.4,632.0L271.5,628.5L272.1,629.0ZM265.4,632.0L264.8,631.6L270.9,628.1L271.5,628.5ZM264.8,631.6L264.2,631.2L270.3,627.7L270.9,628.1ZM264.2,631.2L263.5,630.9L269.6,627.5L270.3,627.7ZM263.5,630.9L262.9,630.7L269.0,627.2L269.6,627.5ZM262.9,630.7L262.2,630.6L268.3,627.1L269.0,627.2ZM262.2,630.6L261.6,630.5L267.6,627.1L268.3,627.1ZM261.6,630.5L260.9,630.5L267.0,627.1L267.6,627.1ZM260.9,630.5L260.3,630.6L266.4,627.2L267.0,627.1ZM260.3,630.6L259.7,630.8L265.8,627.4L266.4,627.2ZM259.7,630.8L259.1,631.1L265.2,627.7L265.8,627.4Z" fill="#fff" stroke="#fff" stroke-width="0.8"/>
<polyline points="273.0,643.4 273.5,643.1 274.0,642.7 274.4,642.2 274.8,641.6 275.1,641.0 275.4,640.4 275.6,639.6 275.7,638.9 275.8,638.1 275.8,637.3 275.8,636.5 275.7,635.7 275.5,634.8 275.3,634.0 275.0,633.2 274.6,632.4 274.2,631.6 273.8,630.9 273.3,630.2 272.7,629.6 272.1,629.0 271.5,628.5 270.9,628.1 270.3,627.7 269.6,627.5 269.0,627.2 268.3,627.1 267.6,627.1 267.0,627.1 266.4,627.2 265.8,627.4 265.2,627.7" fill="none" stroke="#000" stroke-width="2.0" stroke-linejoin="round" />
<path d="M266.9,646.9l6.1,-3.4M259.1,631.1l6.1,-3.4" fill="none" stroke="#000" stroke-width="2.0"/>
<polygon points="266.3,647.2 266.9,646.9 267.4,646.5 267.9,646.1 268.3,645.6 268.7,645.1 269.0,644.5 269.3,643.8 269.5,643.1 269.6,642.3 269.7,641.6 269.7,640.8 269.7,639.9 269.6,639.1 269.4,638.3 269.2,637.4 268.9,636.6 268.5,635.8 268.1,635.1 267.7,634.4 267.2,633.7 266.6,633.1 266.1,632.5 265.4,632.0 264.8,631.6 264.2,631.2 263.5,630.9 262.9,630.7 262.2,630.6 261.6,630.5 260.9,630.5 260.3,630.6 259.7,630.8 259.1,631.1 258.6,631.5 258.1,631.9 257.7,632.4 257.3,632.9 257.0,633.5 256.7,634.2 256.5,634.9 256.4,635.7 256.3,636.4 256.3,637.2 256.3,638.1 256.4,638.9 256.6,639.7 256.8,640.6 257.1,641.4 257.5,642.2 257.9,642.9 258.3,643.6 258.8,644.3 259.4,644.9 259.9,645.5 260.6,646.0 261.2,646.4 261.8,646.8 262.5,647.1 263.1,647.3 263.8,647.4 264.4,647.5 265.1,647.5 265.7,647.4" fill="#fff" stroke="#000" stroke-width="2.0" stroke-linejoin="round" />
<polygon points="264.0,643.4 264.6,643.1 265.1,642.6 265.5,642.0 265.8,641.3 265.9,640.5 265.9,639.7 265.8,638.9 265.5,638.0 265.1,637.3 264.6,636.6 264.1,636.0 263.4,635.5 262.8,635.2 262.1,635.1 261.4,635.1 260.8,635.2 260.2,635.5 259.7,636.0 259.3,636.6 259.0,637.3 258.9,638.1 258.9,638.9 259.0,639.7 259.3,640.6 259.7,641.3 260.2,642.0 260.7,642.6 261.4,643.1 262.0,643.4 262.7,643.5 263.4,643.5" fill="#fff" stroke="#000" stroke-width="1.0" stroke-linejoin="round" />
<path d="M444.6,549.8L445.4,549.2L465.4,538.2L464.6,538.8ZM445.4,549.2L446.2,548.6L466.2,537.6L465.4,538.2ZM446.2,548.6L446.9,547.8L466.9,536.8L466.2,537.6ZM446.9,547.8L447.6,546.9L467.6,535.9L466.9,536.8ZM447.6,546.9L448.1,546.0L468.1,535.0L467.6,535.9ZM448.1,546.0L448.5,544.9L468.5,533.9L468.1,535.0ZM448.5,544.9L448.9,543.8L468.9,532.8L468.5,533.9ZM448.9,543.8L449.1,542.6L469.1,531.6L468.9,532.8ZM449.1,542.6L449.3,541.4L469.3,530.4L469.1,531.6ZM449.3,541.4L449.3,540.2L469.3,529.2L469.3,530.4ZM449.3,540.2L449.3,538.9L469.3,527.9L469.3,529.2ZM449.3,538.9L449.1,537.6L469.1,526.6L469.3,527.9ZM449.1,537.6L448.9,536.3L468.9,525.3L469.1,526.6ZM448.9,536.3L448.5,535.0L468.5,524.0L468.9,525.3ZM448.5,535.0L448.1,533.8L468.1,522.8L468.5,524.0ZM448.1,533.8L447.5,532.6L467.5,521.6L468.1,522.8ZM447.5,532.6L446.9,531.4L466.9,520.4L467.5,521.6ZM446.9,531.4L446.2,530.3L466.2,519.3L466.9,520.4ZM446.2,530.3L445.4,529.2L465.4,518.2L466.2,519.3ZM445.4,529.2L444.5,528.3L464.5,517.3L465.4,518.2ZM444.5,528.3L443.6,527.4L463.6,516.4L464.5,517.3ZM443.6,527.4L442.7,526.6L462.7,515.6L463.6,516.4ZM442.7,526.6L441.7,526.0L461.7,515.0L462.7,515.6ZM441.7,526.0L440.7,525.4L460.7,514.4L461.7,515.0ZM440.7,525.4L439.6,525.0L459.6,514.0L460.7,514.4ZM439.6,525.0L438.6,524.7L458.6,513.7L459.6,514.0ZM438.6,524.7L437.5,524.5L457.5,513.5L458.6,513.7ZM437.5,524.5L436.5,524.4L456.5,513.4L457.5,513.5ZM436.5,524.4L435.4,524.5L455.4,513.5L456.5,513.4ZM435.4,524.5L434.5,524.7L454.5,513.7L455.4,513.5ZM434.5,524.7L433.5,525.0L453.5,514.0L454.5,513.7ZM433.5,525.0L432.6,525.4L452.6,514.4L453.5,514.0Z" fill="#fff" stroke="#fff" stroke-width="0.8"/>
<polyline points="464.6,538.8 465.4,538.2 466.2,537.6 466.9,536.8 467.6,535.9 468.1,535.0 468.5,533.9 468.9,532.8 469.1,531.6 469.3,530.4 469.3,529.2 469.3,527.9 469.1,526.6 468.9,525.3 468.5,524.0 468.1,522.8 467.5,521.6 466.9,520.4 466.2,519.3 465.4,518.2 464.5,517.3 463.6,516.4 462.7,515.6 461.7,515.0 460.7,514.4 459.6,514.0 458.6,513.7 457.5,513.5 456.5,513.4 455.4,513.5 454.5,513.7 453.5,514.0 452.6,514.4" fill="none" stroke="#000" stroke-width="1.6" stroke-linejoin="round" />
<path d="M444.6,549.8l20.0,-11.0M432.6,525.4l20.0,-11.0" fill="none" stroke="#000" stroke-width="1.6"/>
<polygon points="443.7,550.2 444.6,549.8 445.4,549.2 446.2,548.6 446.9,547.8 447.6,546.9 448.1,546.0 448.5,544.9 448.9,543.8 449.1,542.6 449.3,541.4 449.3,540.2 449.3,538.9 449.1,537.6 448.9,536.3 448.5,535.0 448.1,533.8 447.5,532.6 446.9,531.4 446.2,530.3 445.4,529.2 444.5,528.3 443.6,527.4 442.7,526.6 441.7,526.0 440.7,525.4 439.6,525.0 438.6,524.7 437.5,524.5 436.5,524.4 435.4,524.5 434.5,524.7 433.5,525.0 432.6,525.4 431.8,526.0 431.0,526.6 430.3,527.4 429.6,528.3 429.1,529.2 428.7,530.3 428.3,531.4 428.1,532.6 427.9,533.8 427.9,535.0 427.9,536.3 428.1,537.6 428.3,538.9 428.7,540.2 429.1,541.4 429.7,542.6 430.3,543.8 431.0,544.9 431.8,546.0 432.7,546.9 433.6,547.8 434.5,548.6 435.5,549.2 436.5,549.8 437.6,550.2 438.6,550.5 439.7,550.7 440.7,550.8 441.8,550.7 442.7,550.5" fill="#fff" stroke="#000" stroke-width="1.6" stroke-linejoin="round" />
<path d="M428.5,553.4L429.1,553.0L442.1,546.5L441.5,546.9ZM429.1,553.0L429.7,552.5L442.7,546.0L442.1,546.5ZM429.7,552.5L430.2,551.9L443.2,545.4L442.7,546.0ZM430.2,551.9L430.7,551.3L443.7,544.8L443.2,545.4ZM430.7,551.3L431.1,550.6L444.1,544.1L443.7,544.8ZM431.1,550.6L431.5,549.9L444.5,543.4L444.1,544.1ZM431.5,549.9L431.7,549.1L444.7,542.6L444.5,543.4ZM431.7,549.1L431.9,548.2L444.9,541.7L444.7,542.6ZM431.9,548.2L432.1,547.4L445.1,540.9L444.9,541.7ZM432.1,547.4L432.1,546.5L445.1,540.0L445.1,540.9ZM432.1,546.5L432.1,545.6L445.1,539.1L445.1,540.0ZM432.1,545.6L432.0,544.7L445.0,538.2L445.1,539.1ZM432.0,544.7L431.8,543.7L444.8,537.2L445.0,538.2ZM431.8,543.7L431.6,542.8L444.6,536.3L444.8,537.2ZM431.6,542.8L431.2,542.0L444.2,535.5L444.6,536.3ZM431.2,542.0L430.9,541.1L443.9,534.6L444.2,535.5ZM430.9,541.1L430.4,540.3L443.4,533.8L443.9,534.6ZM430.4,540.3L429.9,539.5L442.9,533.0L443.4,533.8ZM429.9,539.5L429.3,538.8L442.3,532.3L442.9,533.0ZM429.3,538.8L428.7,538.1L441.7,531.6L442.3,532.3ZM428.7,538.1L428.1,537.5L441.1,531.0L441.7,531.6ZM428.1,537.5L427.4,537.0L440.4,530.5L441.1,531.0ZM427.4,537.0L426.6,536.5L439.6,530.0L440.4,530.5ZM426.6,536.5L425.9,536.1L438.9,529.6L439.6,530.0ZM425.9,536.1L425.1,535.8L438.1,529.3L438.9,529.6ZM425.1,535.8L424.4,535.6L437.4,529.1L438.1,529.3ZM424.4,535.6L423.6,535.5L436.6,529.0L437.4,529.1ZM423.6,535.5L422.8,535.5L435.8,529.0L436.6,529.0ZM422.8,535.5L422.0,535.5L435.0,529.0L435.8,529.0ZM422.0,535.5L421.3,535.7L434.3,529.2L435.0,529.0ZM421.3,535.7L420.6,535.9L433.6,529.4L434.3,529.2ZM420.6,535.9L419.9,536.2L432.9,529.7L433.6,529.4Z" fill="#fff" stroke="#fff" stroke-width="0.8"/>
<polyline points="441.5,546.9 442.1,546.5 442.7,546.0 443.2,545.4 443.7,544.8 444.1,544.1 444.5,543.4 444.7,542.6 444.9,541.7 445.1,540.9 445.1,540.0 445.1,539.1 445.0,538.2 444.8,537.2 444.6,536.3 444.2,535.5 443.9,534.6 443.4,533.8 442.9,533.0 442.3,532.3 441.7,531.6 441.1,531.0 440.4,530.5 439.6,530.0 438.9,529.6 438.1,529.3 437.4,529.1 436.6,529.0 435.8,529.0 435.0,529.0 434.3,529.2 433.6,529.4 432.9,529.7" fill="none" stroke="#000" stroke-width="1.6" stroke-linejoin="round" />
<path d="M428.5,553.4l13.0,-6.5M419.9,536.2l13.0,-6.5" fill="none" stroke="#000" stroke-width="1.6"/>
<polygon points="427.8,553.7 428.5,553.4 429.1,553.0 429.7,552.5 430.2,551.9 430.7,551.3 431.1,550.6 431.5,549.9 431.7,549.1 431.9,548.2 432.1,547.4 432.1,546.5 432.1,545.6 432.0,544.7 431.8,543.7 431.6,542.8 431.2,542.0 430.9,541.1 430.4,540.3 429.9,539.5 429.3,538.8 428.7,538.1 428.1,537.5 427.4,537.0 426.6,536.5 425.9,536.1 425.1,535.8 424.4,535.6 423.6,535.5 422.8,535.5 422.0,535.5 421.3,535.7 420.6,535.9 419.9,536.2 419.3,536.6 418.7,537.1 418.2,537.7 417.7,538.3 417.3,539.0 416.9,539.7 416.7,540.5 416.5,541.4 416.3,542.2 416.3,543.1 416.3,544.0 416.4,544.9 416.6,545.9 416.8,546.8 417.2,547.6 417.5,548.5 418.0,549.3 418.5,550.1 419.1,550.8 419.7,551.5 420.3,552.1 421.0,552.6 421.8,553.1 422.5,553.5 423.3,553.8 424.0,554.0 424.8,554.1 425.6,554.1 426.4,554.1 427.1,553.9" fill="#fff" stroke="#000" stroke-width="1.6" stroke-linejoin="round" />
<polygon points="426.2,549.3 426.5,549.1 426.8,549.0 427.0,548.8 427.3,548.5 427.5,548.2 427.6,547.9 427.8,547.6 427.9,547.2 427.9,546.9 428.0,546.5 428.0,546.1 428.0,545.7 427.9,545.2 427.8,544.8 427.7,544.4 427.6,544.0 427.4,543.6 427.2,543.2 427.0,542.9 426.7,542.5 426.4,542.2 426.2,541.9 425.8,541.7 425.5,541.5 425.2,541.3 424.9,541.1 424.5,541.0 424.2,541.0 423.9,540.9 423.6,541.0 423.3,541.0 423.0,541.1 422.7,541.3 422.4,541.4 422.2,541.6 421.9,541.9 421.7,542.2 421.6,542.5 421.4,542.8 421.3,543.2 421.3,543.5 421.2,543.9 421.2,544.3 421.2,544.7 421.3,545.2 421.4,545.6 421.5,546.0 421.6,546.4 421.8,546.8 422.0,547.2 422.2,547.5 422.5,547.9 422.8,548.2 423.0,548.5 423.4,548.7 423.7,548.9 424.0,549.1 424.3,549.3 424.7,549.4 425.0,549.4 425.3,549.5 425.6,549.4 425.9,549.4" fill="#fff" stroke="#000" stroke-width="1.1" stroke-linejoin="round" />
<path d="M519.6,474.4 L601.2,472.8 L696.4,526.4 L748,531 L800,563 L800,633.6 L777.6,646 L749,630 L756,637 L747,641 L742.8,638.8 L682,632.4 L632,600 L627.6,580 L624.4,556 Q623,549 617,545 L587.6,524.8 L518.8,524.8 C503,522 498,505 499.3,495.2 C500,484 508,476 519.6,474.4 Z" fill="#fff" stroke="#000" stroke-width="2.0" stroke-linejoin="round"/>
<polyline points="507.6,480.8 590.8,479.2 685.5,532.5 694.5,536.0 724.5,545.0 777.0,576.0" fill="none" stroke="#000" stroke-width="1.1" stroke-linejoin="round" />
<path d="M518.8,515.2 C506,512 504,498 510,492 L584.4,490.4 L685.2,546.4 C692,551 693,560 690,564 C688,568 684,569 682,568.8" fill="none" stroke="#000" stroke-width="1.9"/>
<polyline points="528.4,510.4 594.0,507.2 690.0,560.8" fill="none" stroke="#000" stroke-width="1.9" stroke-linejoin="round" />
<path d="M516.4,494.4 C516,503 521,509 528.4,510.4" fill="none" stroke="#000" stroke-width="1.4"/>
<polyline points="518.8,515.2 586.0,513.6 682.0,568.8" fill="none" stroke="#000" stroke-width="1.1" stroke-linejoin="round" />
<path d="M650,595.2 C643,590 641,580 643,576 C645,572 648,572 651,573.2 L690.8,597.2 C697,601 699,607 698,612 C697,617 695,619 692.4,618.8 Z" fill="#fff" stroke="none"/>
<path d="M650,595.2 C643,590 641,580 643,576 C645,572 648,572 651,573.2 L690.8,597.2 C697,601 699,607 698,612 C697,617 695,619 692.4,618.8" fill="none" stroke="#000" stroke-width="1.9"/>
<polyline points="650.0,595.6 692.4,618.8" fill="none" stroke="#000" stroke-width="1.1" stroke-linejoin="round" />
<polyline points="656.4,590.0 695.6,613.2" fill="none" stroke="#000" stroke-width="1.9" stroke-linejoin="round" />
<path d="M649.2,577.2 C650,583 652,587 656.4,590" fill="none" stroke="#000" stroke-width="1.4"/>
<path d="M745.5,590 C742,580 735,566 723,564.8 C714,564 713,575 714,581.6 C716,596 726,609 735,609 C742,609 746.5,604 746.2,599.8" fill="#fff" stroke="#000" stroke-width="1.7"/>
<path d="M733.6,570.4 C734,578 740,590 745.5,593.5" fill="none" stroke="#000" stroke-width="1.5"/>
<polyline points="745.5,590.7 777.0,606.0 801.0,597.0" fill="none" stroke="#000" stroke-width="2.0" stroke-linejoin="round" />
<polyline points="746.2,599.8 777.0,615.5 801.0,602.0" fill="none" stroke="#000" stroke-width="1.7" stroke-linejoin="round" />
<polyline points="747.9,629.7 756.9,635.6" fill="none" stroke="#000" stroke-width="2.0" stroke-linejoin="round" />
<line x1="778.0" y1="579.0" x2="778.0" y2="608.0" stroke="#000" stroke-width="1.0" />
<line x1="778.0" y1="616.0" x2="778.0" y2="646.0" stroke="#000" stroke-width="1.0" />
<polyline points="800.0,563.0 778.0,579.0" fill="none" stroke="#000" stroke-width="1.8" stroke-linejoin="round" />
<polygon points="786.0,563.0 786.0,562.6 785.8,562.1 785.7,561.7 785.4,561.3 785.1,560.9 784.7,560.5 784.2,560.1 783.7,559.8 783.1,559.5 782.4,559.3 781.8,559.0 781.1,558.8 780.3,558.7 779.6,558.6 778.8,558.5 778.0,558.5 777.2,558.5 776.4,558.6 775.7,558.7 774.9,558.8 774.2,559.0 773.6,559.3 772.9,559.5 772.3,559.8 771.8,560.1 771.3,560.5 770.9,560.9 770.6,561.3 770.3,561.7 770.2,562.1 770.0,562.6 770.0,563.0 770.0,563.4 770.2,563.9 770.3,564.3 770.6,564.7 770.9,565.1 771.3,565.5 771.8,565.9 772.3,566.2 772.9,566.5 773.6,566.7 774.2,567.0 774.9,567.2 775.7,567.3 776.4,567.4 777.2,567.5 778.0,567.5 778.8,567.5 779.6,567.4 780.3,567.3 781.1,567.2 781.8,567.0 782.4,566.7 783.1,566.5 783.7,566.2 784.2,565.9 784.7,565.5 785.1,565.1 785.4,564.7 785.7,564.3 785.8,563.9 786.0,563.4" fill="#fff" stroke="#000" stroke-width="1.3" stroke-linejoin="round" />
<polyline points="510.0,524.0 618.0,459.6" fill="none" stroke="#000" stroke-width="1.2" stroke-linejoin="round" stroke-dasharray="14 4.5 1.5 4.5"/>
<polyline points="589.0,588.0 666.0,544.5" fill="none" stroke="#000" stroke-width="1.2" stroke-linejoin="round" stroke-dasharray="14 4.5 1.5 4.5"/>
<polyline points="698.0,526.5 730.0,508.0" fill="none" stroke="#000" stroke-width="1.2" stroke-linejoin="round" stroke-dasharray="14 4.5 1.5 4.5"/>
<polyline points="580.0,634.0 637.0,602.4" fill="none" stroke="#000" stroke-width="1.2" stroke-linejoin="round" stroke-dasharray="14 4.5 1.5 4.5"/>
<polyline points="648.0,594.0 662.4,588.0" fill="none" stroke="#000" stroke-width="1.2" stroke-linejoin="round" stroke-dasharray="14 4.5 1.5 4.5"/>
<polyline points="640.0,636.0 683.0,615.0" fill="none" stroke="#000" stroke-width="1.2" stroke-linejoin="round" stroke-dasharray="14 4.5 1.5 4.5"/>
<polyline points="696.0,607.0 730.0,585.0" fill="none" stroke="#000" stroke-width="1.2" stroke-linejoin="round" stroke-dasharray="14 4.5 1.5 4.5"/>
<polyline points="788.0,553.0 862.0,512.0" fill="none" stroke="#000" stroke-width="1.2" stroke-linejoin="round" stroke-dasharray="14 4.5 1.5 4.5"/>
<path d="M630.1,465.2L634.7,457.1L643.7,453.1L639.1,461.2ZM634.7,457.1L630.7,446.0L639.7,442.0L643.7,453.1ZM630.7,446.0L621.9,442.8L630.9,438.8L639.7,442.0Z" fill="#fff" stroke="#fff" stroke-width="0.8"/>
<polyline points="639.1,461.2 643.7,453.1 639.7,442.0 630.9,438.8" fill="none" stroke="#000" stroke-width="1.3" stroke-linejoin="round" />
<path d="M630.1,465.2l9.0,-4.0M634.7,457.1l9.0,-4.0M630.7,446.0l9.0,-4.0M621.9,442.8l9.0,-4.0" fill="none" stroke="#000" stroke-width="1.3"/>
<polygon points="630.1,465.2 634.7,457.1 630.7,446.0 621.9,442.8 617.3,450.9 621.3,462.0" fill="#fff" stroke="#000" stroke-width="1.2" stroke-linejoin="round" />
<polygon points="629.2,463.8 630.0,463.4 630.8,462.8 631.5,462.1 632.1,461.3 632.5,460.3 632.9,459.3 633.1,458.1 633.2,456.9 633.2,455.6 633.0,454.3 632.8,453.0 632.4,451.8 631.9,450.5 631.2,449.4 630.5,448.3 629.7,447.3 628.9,446.4 627.9,445.7 627.0,445.1 626.0,444.7 625.0,444.4 624.1,444.3 623.1,444.4 622.2,444.6 621.4,445.0 620.6,445.6 619.9,446.3 619.3,447.1 618.9,448.1 618.5,449.1 618.3,450.3 618.2,451.5 618.2,452.8 618.4,454.1 618.6,455.4 619.0,456.6 619.5,457.9 620.2,459.0 620.9,460.1 621.7,461.1 622.5,462.0 623.5,462.7 624.4,463.3 625.4,463.7 626.4,464.0 627.3,464.1 628.3,464.0" fill="#fff" stroke="#000" stroke-width="1.6" stroke-linejoin="round" />
<polygon points="627.4,459.8 628.0,459.5 628.5,459.1 628.9,458.6 629.3,457.9 629.6,457.2 629.7,456.4 629.8,455.5 629.7,454.6 629.5,453.7 629.3,452.8 628.9,452.0 628.4,451.2 627.9,450.4 627.3,449.8 626.7,449.3 626.0,448.9 625.3,448.6 624.6,448.5 624.0,448.5 623.3,448.6 622.8,448.9 622.3,449.4 621.8,449.9 621.5,450.5 621.2,451.3 621.1,452.1 621.0,452.9 621.1,453.8 621.2,454.7 621.5,455.6 621.9,456.5 622.3,457.3 622.8,458.0 623.4,458.6 624.1,459.2 624.7,459.6 625.4,459.8 626.1,460.0 626.8,460.0" fill="#333" stroke="#000" stroke-width="1.2" stroke-linejoin="round" />
<polygon points="626.0,457.4 626.3,457.2 626.6,457.0 626.8,456.6 627.0,456.2 627.1,455.7 627.1,455.2 627.1,454.6 627.1,454.0 626.9,453.4 626.8,452.8 626.5,452.3 626.2,451.7 625.9,451.2 625.5,450.8 625.1,450.4 624.7,450.1 624.3,449.9 623.9,449.8 623.6,449.8 623.2,449.8 622.9,450.0 622.6,450.3 622.4,450.6 622.2,451.0 622.1,451.5 622.0,452.0 622.0,452.6 622.1,453.2 622.2,453.8 622.4,454.4 622.7,455.0 622.9,455.5 623.3,456.1 623.6,456.5 624.0,456.9 624.4,457.2 624.8,457.4 625.2,457.5 625.6,457.5" fill="#ccc" stroke="none" stroke-width="0" stroke-linejoin="round" />
<path d="M740.1,513.2L744.7,505.1L753.7,501.1L749.1,509.2ZM744.7,505.1L740.7,494.0L749.7,490.0L753.7,501.1ZM740.7,494.0L731.9,490.8L740.9,486.8L749.7,490.0Z" fill="#fff" stroke="#fff" stroke-width="0.8"/>
<polyline points="749.1,509.2 753.7,501.1 749.7,490.0 740.9,486.8" fill="none" stroke="#000" stroke-width="1.3" stroke-linejoin="round" />
<path d="M740.1,513.2l9.0,-4.0M744.7,505.1l9.0,-4.0M740.7,494.0l9.0,-4.0M731.9,490.8l9.0,-4.0" fill="none" stroke="#000" stroke-width="1.3"/>
<polygon points="740.1,513.2 744.7,505.1 740.7,494.0 731.9,490.8 727.3,498.9 731.3,510.0" fill="#fff" stroke="#000" stroke-width="1.2" stroke-linejoin="round" />
<polygon points="739.2,511.8 740.0,511.4 740.8,510.8 741.5,510.1 742.1,509.3 742.5,508.3 742.9,507.3 743.1,506.1 743.2,504.9 743.2,503.6 743.0,502.3 742.8,501.0 742.4,499.8 741.9,498.5 741.2,497.4 740.5,496.3 739.7,495.3 738.9,494.4 737.9,493.7 737.0,493.1 736.0,492.7 735.0,492.4 734.1,492.3 733.1,492.4 732.2,492.6 731.4,493.0 730.6,493.6 729.9,494.3 729.3,495.1 728.9,496.1 728.5,497.1 728.3,498.3 728.2,499.5 728.2,500.8 728.4,502.1 728.6,503.4 729.0,504.6 729.5,505.9 730.2,507.0 730.9,508.1 731.7,509.1 732.5,510.0 733.5,510.7 734.4,511.3 735.4,511.7 736.4,512.0 737.3,512.1 738.3,512.0" fill="#fff" stroke="#000" stroke-width="1.6" stroke-linejoin="round" />
<polygon points="737.4,507.8 738.0,507.5 738.5,507.1 738.9,506.6 739.3,505.9 739.6,505.2 739.7,504.4 739.8,503.5 739.7,502.6 739.5,501.7 739.3,500.8 738.9,500.0 738.4,499.2 737.9,498.4 737.3,497.8 736.7,497.3 736.0,496.9 735.3,496.6 734.6,496.5 734.0,496.5 733.3,496.6 732.8,496.9 732.3,497.4 731.8,497.9 731.5,498.5 731.2,499.3 731.1,500.1 731.0,500.9 731.1,501.8 731.2,502.7 731.5,503.6 731.9,504.5 732.3,505.3 732.8,506.0 733.4,506.6 734.1,507.2 734.7,507.6 735.4,507.8 736.1,508.0 736.8,508.0" fill="#333" stroke="#000" stroke-width="1.2" stroke-linejoin="round" />
<polygon points="736.0,505.4 736.3,505.2 736.6,505.0 736.8,504.6 737.0,504.2 737.1,503.7 737.1,503.2 737.1,502.6 737.1,502.0 736.9,501.4 736.8,500.8 736.5,500.3 736.2,499.7 735.9,499.2 735.5,498.8 735.1,498.4 734.7,498.1 734.3,497.9 733.9,497.8 733.6,497.8 733.2,497.8 732.9,498.0 732.6,498.3 732.4,498.6 732.2,499.0 732.1,499.5 732.0,500.0 732.0,500.6 732.1,501.2 732.2,501.8 732.4,502.4 732.7,503.0 732.9,503.5 733.3,504.1 733.6,504.5 734.0,504.9 734.4,505.2 734.8,505.4 735.2,505.5 735.6,505.5" fill="#ccc" stroke="none" stroke-width="0" stroke-linejoin="round" />
<path d="M806.6,514.2L811.2,506.1L820.2,502.1L815.6,510.2ZM811.2,506.1L807.2,495.0L816.2,491.0L820.2,502.1ZM807.2,495.0L798.4,491.8L807.4,487.8L816.2,491.0Z" fill="#fff" stroke="#fff" stroke-width="0.8"/>
<polyline points="815.6,510.2 820.2,502.1 816.2,491.0 807.4,487.8" fill="none" stroke="#000" stroke-width="1.3" stroke-linejoin="round" />
<path d="M806.6,514.2l9.0,-4.0M811.2,506.1l9.0,-4.0M807.2,495.0l9.0,-4.0M798.4,491.8l9.0,-4.0" fill="none" stroke="#000" stroke-width="1.3"/>
<polygon points="806.6,514.2 811.2,506.1 807.2,495.0 798.4,491.8 793.8,499.9 797.8,511.0" fill="#fff" stroke="#000" stroke-width="1.2" stroke-linejoin="round" />
<polygon points="805.7,512.8 806.5,512.4 807.3,511.8 808.0,511.1 808.6,510.3 809.0,509.3 809.4,508.3 809.6,507.1 809.7,505.9 809.7,504.6 809.5,503.3 809.3,502.0 808.9,500.8 808.4,499.5 807.7,498.4 807.0,497.3 806.2,496.3 805.4,495.4 804.4,494.7 803.5,494.1 802.5,493.7 801.5,493.4 800.6,493.3 799.6,493.4 798.7,493.6 797.9,494.0 797.1,494.6 796.4,495.3 795.8,496.1 795.4,497.1 795.0,498.1 794.8,499.3 794.7,500.5 794.7,501.8 794.9,503.1 795.1,504.4 795.5,505.6 796.0,506.9 796.7,508.0 797.4,509.1 798.2,510.1 799.0,511.0 800.0,511.7 800.9,512.3 801.9,512.7 802.9,513.0 803.8,513.1 804.8,513.0" fill="#fff" stroke="#000" stroke-width="1.6" stroke-linejoin="round" />
<polygon points="803.9,508.8 804.5,508.5 805.0,508.1 805.4,507.6 805.8,506.9 806.1,506.2 806.2,505.4 806.3,504.5 806.2,503.6 806.0,502.7 805.8,501.8 805.4,501.0 804.9,500.2 804.4,499.4 803.8,498.8 803.2,498.3 802.5,497.9 801.8,497.6 801.1,497.5 800.5,497.5 799.8,497.6 799.3,497.9 798.8,498.4 798.3,498.9 798.0,499.5 797.7,500.3 797.6,501.1 797.5,501.9 797.6,502.8 797.7,503.7 798.0,504.6 798.4,505.5 798.8,506.3 799.3,507.0 799.9,507.6 800.6,508.2 801.2,508.6 801.9,508.8 802.6,509.0 803.3,509.0" fill="#333" stroke="#000" stroke-width="1.2" stroke-linejoin="round" />
<polygon points="802.5,506.4 802.8,506.2 803.1,506.0 803.3,505.6 803.5,505.2 803.6,504.7 803.6,504.2 803.6,503.6 803.6,503.0 803.4,502.4 803.3,501.8 803.0,501.3 802.7,500.7 802.4,500.2 802.0,499.8 801.6,499.4 801.2,499.1 800.8,498.9 800.4,498.8 800.1,498.8 799.7,498.8 799.4,499.0 799.1,499.3 798.9,499.6 798.7,500.0 798.6,500.5 798.5,501.0 798.5,501.6 798.6,502.2 798.7,502.8 798.9,503.4 799.2,504.0 799.4,504.5 799.8,505.1 800.1,505.5 800.5,505.9 800.9,506.2 801.3,506.4 801.7,506.5 802.1,506.5" fill="#ccc" stroke="none" stroke-width="0" stroke-linejoin="round" />
<polygon points="772.3,501.0 782.5,501.0 782.5,540.0 772.3,540.0" fill="#fff" stroke="#000" stroke-width="1.5" stroke-linejoin="round" />
<path d="M772.3,514.0Q777.4,515.6 782.5,514.0M772.3,516.7Q777.4,518.3 782.5,516.7M772.3,519.4Q777.4,521.0 782.5,519.4M772.3,522.1Q777.4,523.7 782.5,522.1M772.3,524.8Q777.4,526.4 782.5,524.8M772.3,527.5Q777.4,529.1 782.5,527.5M772.3,530.2Q777.4,531.8 782.5,530.2M772.3,532.9Q777.4,534.5 782.5,532.9M772.3,535.6Q777.4,537.2 782.5,535.6M772.3,538.3Q777.4,539.9 782.5,538.3" stroke="#000" stroke-width="1.1" fill="none"/>
<path d="M767.9,489.0L768.0,489.6L768.0,501.6L767.9,501.0ZM768.0,489.6L768.2,490.2L768.2,502.2L768.0,501.6ZM768.2,490.2L768.6,490.7L768.6,502.7L768.2,502.2ZM768.6,490.7L769.2,491.2L769.2,503.2L768.6,502.7ZM769.2,491.2L769.9,491.7L769.9,503.7L769.2,503.2ZM769.9,491.7L770.7,492.2L770.7,504.2L769.9,503.7ZM770.7,492.2L771.6,492.6L771.6,504.6L770.7,504.2ZM771.6,492.6L772.6,492.9L772.6,504.9L771.6,504.6ZM772.6,492.9L773.8,493.2L773.8,505.2L772.6,504.9ZM773.8,493.2L774.9,493.3L774.9,505.3L773.8,505.2ZM774.9,493.3L776.2,493.5L776.2,505.5L774.9,505.3ZM776.2,493.5L777.4,493.5L777.4,505.5L776.2,505.5ZM777.4,493.5L778.6,493.5L778.6,505.5L777.4,505.5ZM778.6,493.5L779.9,493.3L779.9,505.3L778.6,505.5ZM779.9,493.3L781.0,493.2L781.0,505.2L779.9,505.3ZM781.0,493.2L782.1,492.9L782.1,504.9L781.0,505.2ZM782.1,492.9L783.2,492.6L783.2,504.6L782.1,504.9ZM783.2,492.6L784.1,492.2L784.1,504.2L783.2,504.6ZM784.1,492.2L784.9,491.7L784.9,503.7L784.1,504.2ZM784.9,491.7L785.6,491.2L785.6,503.2L784.9,503.7ZM785.6,491.2L786.2,490.7L786.2,502.7L785.6,503.2ZM786.2,490.7L786.6,490.2L786.6,502.2L786.2,502.7ZM786.6,490.2L786.8,489.6L786.8,501.6L786.6,502.2ZM786.8,489.6L786.9,489.0L786.9,501.0L786.8,501.6Z" fill="#fff" stroke="#fff" stroke-width="0.8"/>
<polyline points="767.9,501.0 768.0,501.6 768.2,502.2 768.6,502.7 769.2,503.2 769.9,503.7 770.7,504.2 771.6,504.6 772.6,504.9 773.8,505.2 774.9,505.3 776.2,505.5 777.4,505.5 778.6,505.5 779.9,505.3 781.0,505.2 782.1,504.9 783.2,504.6 784.1,504.2 784.9,503.7 785.6,503.2 786.2,502.7 786.6,502.2 786.8,501.6 786.9,501.0" fill="none" stroke="#000" stroke-width="1.8" stroke-linejoin="round" />
<path d="M786.9,489.0l0.0,12.0M767.9,489.0l0.0,12.0" fill="none" stroke="#000" stroke-width="1.8"/>
<polygon points="786.9,489.0 786.8,488.4 786.6,487.8 786.2,487.3 785.6,486.8 784.9,486.3 784.1,485.8 783.2,485.4 782.1,485.1 781.0,484.8 779.9,484.7 778.6,484.5 777.4,484.5 776.2,484.5 774.9,484.7 773.8,484.8 772.6,485.1 771.6,485.4 770.7,485.8 769.9,486.3 769.2,486.8 768.6,487.3 768.2,487.8 768.0,488.4 767.9,489.0 768.0,489.6 768.2,490.2 768.6,490.7 769.2,491.2 769.9,491.7 770.7,492.2 771.6,492.6 772.6,492.9 773.8,493.2 774.9,493.3 776.2,493.5 777.4,493.5 778.6,493.5 779.9,493.3 781.0,493.2 782.1,492.9 783.2,492.6 784.1,492.2 784.9,491.7 785.6,491.2 786.2,490.7 786.6,490.2 786.8,489.6" fill="#fff" stroke="#000" stroke-width="1.8" stroke-linejoin="round" />
<polygon points="781.9,489.0 781.8,488.5 781.6,488.0 781.1,487.6 780.6,487.2 779.9,486.9 779.1,486.7 778.3,486.5 777.4,486.5 776.5,486.5 775.7,486.7 774.9,486.9 774.2,487.2 773.7,487.6 773.2,488.0 773.0,488.5 772.9,489.0 773.0,489.5 773.2,490.0 773.7,490.4 774.2,490.8 774.9,491.1 775.7,491.3 776.5,491.5 777.4,491.5 778.3,491.5 779.1,491.3 779.9,491.1 780.6,490.8 781.1,490.4 781.6,490.0 781.8,489.5" fill="#fff" stroke="#000" stroke-width="1.1" stroke-linejoin="round" />
<path d="M964.2,466.9L965.1,466.5L977.1,462.5L976.2,462.9ZM965.1,466.5L966.1,465.9L978.1,461.9L977.1,462.5ZM966.1,465.9L966.9,465.1L978.9,461.1L978.1,461.9ZM966.9,465.1L967.6,464.2L979.6,460.2L978.9,461.1ZM967.6,464.2L968.3,463.1L980.3,459.1L979.6,460.2ZM968.3,463.1L968.9,462.0L980.9,458.0L980.3,459.1ZM968.9,462.0L969.3,460.7L981.3,456.7L980.9,458.0ZM969.3,460.7L969.7,459.3L981.7,455.3L981.3,456.7ZM969.7,459.3L969.9,457.8L981.9,453.8L981.7,455.3ZM969.9,457.8L970.0,456.3L982.0,452.3L981.9,453.8ZM970.0,456.3L970.0,454.7L982.0,450.7L982.0,452.3ZM970.0,454.7L969.9,453.0L981.9,449.0L982.0,450.7ZM969.9,453.0L969.7,451.3L981.7,447.3L981.9,449.0ZM969.7,451.3L969.3,449.6L981.3,445.6L981.7,447.3ZM969.3,449.6L968.9,447.9L980.9,443.9L981.3,445.6ZM968.9,447.9L968.3,446.2L980.3,442.2L980.9,443.9ZM968.3,446.2L967.7,444.6L979.7,440.6L980.3,442.2ZM967.7,444.6L966.9,443.0L978.9,439.0L979.7,440.6ZM966.9,443.0L966.1,441.5L978.1,437.5L978.9,439.0ZM966.1,441.5L965.2,440.1L977.2,436.1L978.1,437.5ZM965.2,440.1L964.2,438.7L976.2,434.7L977.2,436.1ZM964.2,438.7L963.2,437.5L975.2,433.5L976.2,434.7ZM963.2,437.5L962.1,436.4L974.1,432.4L975.2,433.5ZM962.1,436.4L961.0,435.4L973.0,431.4L974.1,432.4ZM961.0,435.4L959.8,434.5L971.8,430.5L973.0,431.4ZM959.8,434.5L958.6,433.8L970.6,429.8L971.8,430.5ZM958.6,433.8L957.4,433.3L969.4,429.3L970.6,429.8ZM957.4,433.3L956.3,432.9L968.3,428.9L969.4,429.3ZM956.3,432.9L955.1,432.7L967.1,428.7L968.3,428.9ZM955.1,432.7L954.0,432.7L966.0,428.7L967.1,428.7ZM954.0,432.7L952.9,432.8L964.9,428.8L966.0,428.7ZM952.9,432.8L951.8,433.1L963.8,429.1L964.9,428.8Z" fill="#fff" stroke="#fff" stroke-width="0.8"/>
<polyline points="976.2,462.9 977.1,462.5 978.1,461.9 978.9,461.1 979.6,460.2 980.3,459.1 980.9,458.0 981.3,456.7 981.7,455.3 981.9,453.8 982.0,452.3 982.0,450.7 981.9,449.0 981.7,447.3 981.3,445.6 980.9,443.9 980.3,442.2 979.7,440.6 978.9,439.0 978.1,437.5 977.2,436.1 976.2,434.7 975.2,433.5 974.1,432.4 973.0,431.4 971.8,430.5 970.6,429.8 969.4,429.3 968.3,428.9 967.1,428.7 966.0,428.7 964.9,428.8 963.8,429.1" fill="none" stroke="#000" stroke-width="1.5" stroke-linejoin="round" />
<path d="M964.2,466.9l12.0,-4.0M951.8,433.1l12.0,-4.0" fill="none" stroke="#000" stroke-width="1.5"/>
<polygon points="964.2,466.9 965.1,466.5 966.1,465.9 966.9,465.1 967.6,464.2 968.3,463.1 968.9,462.0 969.3,460.7 969.7,459.3 969.9,457.8 970.0,456.3 970.0,454.7 969.9,453.0 969.7,451.3 969.3,449.6 968.9,447.9 968.3,446.2 967.7,444.6 966.9,443.0 966.1,441.5 965.2,440.1 964.2,438.7 963.2,437.5 962.1,436.4 961.0,435.4 959.8,434.5 958.6,433.8 957.4,433.3 956.3,432.9 955.1,432.7 954.0,432.7 952.9,432.8 951.8,433.1 950.9,433.5 949.9,434.1 949.1,434.9 948.4,435.8 947.7,436.9 947.1,438.0 946.7,439.3 946.3,440.7 946.1,442.2 946.0,443.7 946.0,445.3 946.1,447.0 946.3,448.7 946.7,450.4 947.1,452.1 947.7,453.8 948.3,455.4 949.1,457.0 949.9,458.5 950.8,459.9 951.8,461.3 952.8,462.5 953.9,463.6 955.0,464.6 956.2,465.5 957.4,466.2 958.6,466.7 959.7,467.1 960.9,467.3 962.0,467.3 963.1,467.2" fill="#fff" stroke="#000" stroke-width="1.5" stroke-linejoin="round" />
<path d="M938.3,529.2L941.8,526.9L967.8,513.9L964.3,516.2ZM941.8,526.9L945.0,524.2L971.0,511.2L967.8,513.9ZM945.0,524.2L947.9,521.1L973.9,508.1L971.0,511.2ZM947.9,521.1L950.5,517.6L976.5,504.6L973.9,508.1ZM950.5,517.6L952.8,513.7L978.8,500.7L976.5,504.6ZM952.8,513.7L954.6,509.4L980.6,496.4L978.8,500.7ZM954.6,509.4L956.1,504.9L982.1,491.9L980.6,496.4ZM956.1,504.9L957.2,500.2L983.2,487.2L982.1,491.9ZM957.2,500.2L957.8,495.2L983.8,482.2L983.2,487.2ZM957.8,495.2L958.1,490.2L984.1,477.2L983.8,482.2ZM958.1,490.2L957.9,485.0L983.9,472.0L984.1,477.2ZM957.9,485.0L957.2,479.7L983.2,466.7L983.9,472.0ZM957.2,479.7L956.2,474.5L982.2,461.5L983.2,466.7ZM956.2,474.5L954.8,469.3L980.8,456.3L982.2,461.5ZM954.8,469.3L952.9,464.3L978.9,451.3L980.8,456.3ZM952.9,464.3L950.7,459.3L976.7,446.3L978.9,451.3ZM950.7,459.3L948.2,454.6L974.2,441.6L976.7,446.3ZM948.2,454.6L945.3,450.1L971.3,437.1L974.2,441.6ZM945.3,450.1L942.1,445.9L968.1,432.9L971.3,437.1ZM942.1,445.9L938.6,442.1L964.6,429.1L968.1,432.9ZM938.6,442.1L934.9,438.6L960.9,425.6L964.6,429.1ZM934.9,438.6L931.0,435.5L957.0,422.5L960.9,425.6ZM931.0,435.5L927.0,432.8L953.0,419.8L957.0,422.5ZM927.0,432.8L922.8,430.6L948.8,417.6L953.0,419.8ZM922.8,430.6L918.5,428.9L944.5,415.9L948.8,417.6ZM918.5,428.9L914.2,427.6L940.2,414.6L944.5,415.9ZM914.2,427.6L909.9,426.9L935.9,413.9L940.2,414.6ZM909.9,426.9L905.6,426.6L931.6,413.6L935.9,413.9ZM905.6,426.6L901.4,426.9L927.4,413.9L931.6,413.6ZM901.4,426.9L897.3,427.7L923.3,414.7L927.4,413.9ZM897.3,427.7L893.4,429.0L919.4,416.0L923.3,414.7ZM893.4,429.0L889.7,430.8L915.7,417.8L919.4,416.0Z" fill="#fff" stroke="#fff" stroke-width="0.8"/>
<polyline points="964.3,516.2 967.8,513.9 971.0,511.2 973.9,508.1 976.5,504.6 978.8,500.7 980.6,496.4 982.1,491.9 983.2,487.2 983.8,482.2 984.1,477.2 983.9,472.0 983.2,466.7 982.2,461.5 980.8,456.3 978.9,451.3 976.7,446.3 974.2,441.6 971.3,437.1 968.1,432.9 964.6,429.1 960.9,425.6 957.0,422.5 953.0,419.8 948.8,417.6 944.5,415.9 940.2,414.6 935.9,413.9 931.6,413.6 927.4,413.9 923.3,414.7 919.4,416.0 915.7,417.8" fill="none" stroke="#000" stroke-width="1.6" stroke-linejoin="round" />
<path d="M938.3,529.2l26.0,-13.0M889.7,430.8l26.0,-13.0" fill="none" stroke="#000" stroke-width="1.6"/>
<polygon points="934.6,531.0 938.3,529.2 941.8,526.9 945.0,524.2 947.9,521.1 950.5,517.6 952.8,513.7 954.6,509.4 956.1,504.9 957.2,500.2 957.8,495.2 958.1,490.2 957.9,485.0 957.2,479.7 956.2,474.5 954.8,469.3 952.9,464.3 950.7,459.3 948.2,454.6 945.3,450.1 942.1,445.9 938.6,442.1 934.9,438.6 931.0,435.5 927.0,432.8 922.8,430.6 918.5,428.9 914.2,427.6 909.9,426.9 905.6,426.6 901.4,426.9 897.3,427.7 893.4,429.0 889.7,430.8 886.2,433.1 883.0,435.8 880.1,438.9 877.5,442.4 875.2,446.3 873.4,450.6 871.9,455.1 870.8,459.8 870.2,464.8 869.9,469.8 870.1,475.0 870.8,480.3 871.8,485.5 873.2,490.7 875.1,495.7 877.3,500.7 879.8,505.4 882.7,509.9 885.9,514.1 889.4,517.9 893.1,521.4 897.0,524.5 901.0,527.2 905.2,529.4 909.5,531.1 913.8,532.4 918.1,533.1 922.4,533.4 926.6,533.1 930.7,532.3" fill="#fff" stroke="#000" stroke-width="1.6" stroke-linejoin="round" />
<polygon points="893.6,452.1 893.9,452.0 894.3,451.8 894.6,451.5 894.9,451.3 895.2,450.9 895.4,450.5 895.7,450.1 895.8,449.7 896.0,449.2 896.1,448.7 896.1,448.1 896.2,447.6 896.1,447.0 896.1,446.4 896.0,445.8 895.9,445.3 895.7,444.7 895.5,444.2 895.2,443.6 895.0,443.1 894.7,442.7 894.3,442.2 894.0,441.8 893.6,441.5 893.3,441.2 892.9,440.9 892.5,440.7 892.0,440.5 891.6,440.5 891.2,440.4 890.8,440.4 890.4,440.5 890.1,440.6 889.7,440.8 889.4,441.1 889.1,441.3 888.8,441.7 888.6,442.1 888.3,442.5 888.2,442.9 888.0,443.4 887.9,443.9 887.9,444.5 887.8,445.0 887.9,445.6 887.9,446.2 888.0,446.8 888.1,447.3 888.3,447.9 888.5,448.4 888.8,449.0 889.0,449.5 889.3,449.9 889.7,450.4 890.0,450.8 890.4,451.1 890.7,451.4 891.1,451.7 891.5,451.9 892.0,452.1 892.4,452.1 892.8,452.2 893.2,452.2" fill="#fff" stroke="#000" stroke-width="1.2" stroke-linejoin="round" />
<path d="M891.5,514.5L892.6,513.7L922.6,498.7L921.5,499.5ZM892.6,513.7L893.6,512.8L923.6,497.8L922.6,498.7ZM893.6,512.8L894.5,511.8L924.5,496.8L923.6,497.8ZM894.5,511.8L895.3,510.6L925.3,495.6L924.5,496.8ZM895.3,510.6L896.0,509.2L926.0,494.2L925.3,495.6ZM896.0,509.2L896.6,507.8L926.6,492.8L926.0,494.2ZM896.6,507.8L897.0,506.2L927.0,491.2L926.6,492.8ZM897.0,506.2L897.3,504.6L927.3,489.6L927.0,491.2ZM897.3,504.6L897.5,502.8L927.5,487.8L927.3,489.6ZM897.5,502.8L897.5,501.1L927.5,486.1L927.5,487.8ZM897.5,501.1L897.4,499.2L927.4,484.2L927.5,486.1ZM897.4,499.2L897.1,497.4L927.1,482.4L927.4,484.2ZM897.1,497.4L896.7,495.6L926.7,480.6L927.1,482.4ZM896.7,495.6L896.2,493.7L926.2,478.7L926.7,480.6ZM896.2,493.7L895.5,491.9L925.5,476.9L926.2,478.7ZM895.5,491.9L894.7,490.2L924.7,475.2L925.5,476.9ZM894.7,490.2L893.9,488.5L923.9,473.5L924.7,475.2ZM893.9,488.5L892.9,486.9L922.9,471.9L923.9,473.5ZM892.9,486.9L891.8,485.4L921.8,470.4L922.9,471.9ZM891.8,485.4L890.6,484.0L920.6,469.0L921.8,470.4ZM890.6,484.0L889.3,482.8L919.3,467.8L920.6,469.0ZM889.3,482.8L888.0,481.6L918.0,466.6L919.3,467.8ZM888.0,481.6L886.7,480.6L916.7,465.6L918.0,466.6ZM886.7,480.6L885.3,479.8L915.3,464.8L916.7,465.6ZM885.3,479.8L883.9,479.2L913.9,464.2L915.3,464.8ZM883.9,479.2L882.5,478.7L912.5,463.7L913.9,464.2ZM882.5,478.7L881.0,478.4L911.0,463.4L912.5,463.7ZM881.0,478.4L879.6,478.2L909.6,463.2L911.0,463.4ZM879.6,478.2L878.3,478.3L908.3,463.3L909.6,463.2ZM878.3,478.3L877.0,478.5L907.0,463.5L908.3,463.3ZM877.0,478.5L875.7,478.9L905.7,463.9L907.0,463.5ZM875.7,478.9L874.5,479.5L904.5,464.5L905.7,463.9Z" fill="#fff" stroke="#fff" stroke-width="0.8"/>
<polyline points="921.5,499.5 922.6,498.7 923.6,497.8 924.5,496.8 925.3,495.6 926.0,494.2 926.6,492.8 927.0,491.2 927.3,489.6 927.5,487.8 927.5,486.1 927.4,484.2 927.1,482.4 926.7,480.6 926.2,478.7 925.5,476.9 924.7,475.2 923.9,473.5 922.9,471.9 921.8,470.4 920.6,469.0 919.3,467.8 918.0,466.6 916.7,465.6 915.3,464.8 913.9,464.2 912.5,463.7 911.0,463.4 909.6,463.2 908.3,463.3 907.0,463.5 905.7,463.9 904.5,464.5" fill="none" stroke="#000" stroke-width="1.6" stroke-linejoin="round" />
<path d="M891.5,514.5l30.0,-15.0M874.5,479.5l30.0,-15.0" fill="none" stroke="#000" stroke-width="1.6"/>
<polygon points="890.3,515.1 891.5,514.5 892.6,513.7 893.6,512.8 894.5,511.8 895.3,510.6 896.0,509.2 896.6,507.8 897.0,506.2 897.3,504.6 897.5,502.8 897.5,501.1 897.4,499.2 897.1,497.4 896.7,495.6 896.2,493.7 895.5,491.9 894.7,490.2 893.9,488.5 892.9,486.9 891.8,485.4 890.6,484.0 889.3,482.8 888.0,481.6 886.7,480.6 885.3,479.8 883.9,479.2 882.5,478.7 881.0,478.4 879.6,478.2 878.3,478.3 877.0,478.5 875.7,478.9 874.5,479.5 873.4,480.3 872.4,481.2 871.5,482.2 870.7,483.4 870.0,484.8 869.4,486.2 869.0,487.8 868.7,489.4 868.5,491.2 868.5,492.9 868.6,494.8 868.9,496.6 869.3,498.4 869.8,500.3 870.5,502.1 871.3,503.8 872.1,505.5 873.1,507.1 874.2,508.6 875.4,510.0 876.7,511.2 878.0,512.4 879.3,513.4 880.7,514.2 882.1,514.8 883.5,515.3 885.0,515.6 886.4,515.8 887.7,515.7 889.0,515.5" fill="#fff" stroke="#000" stroke-width="1.6" stroke-linejoin="round" />
<polygon points="887.6,506.3 888.2,506.0 888.7,505.6 889.2,505.2 889.7,504.7 890.1,504.1 890.5,503.4 890.8,502.7 891.0,501.9 891.1,501.1 891.2,500.3 891.2,499.4 891.2,498.5 891.1,497.6 890.9,496.7 890.6,495.8 890.3,495.0 889.9,494.1 889.5,493.3 889.0,492.5 888.5,491.8 887.9,491.1 887.3,490.5 886.6,489.9 885.9,489.5 885.2,489.1 884.5,488.8 883.8,488.5 883.1,488.4 882.4,488.3 881.7,488.4 881.1,488.5 880.4,488.7 879.8,489.0 879.3,489.4 878.8,489.8 878.3,490.3 877.9,490.9 877.5,491.6 877.2,492.3 877.0,493.1 876.9,493.9 876.8,494.7 876.8,495.6 876.8,496.5 876.9,497.4 877.1,498.3 877.4,499.2 877.7,500.0 878.1,500.9 878.5,501.7 879.0,502.5 879.5,503.2 880.1,503.9 880.7,504.5 881.4,505.1 882.1,505.5 882.8,505.9 883.5,506.2 884.2,506.5 884.9,506.6 885.6,506.7 886.3,506.6 886.9,506.5" fill="#fff" stroke="#000" stroke-width="1.3" stroke-linejoin="round" />
<polygon points="887.3,504.5 887.8,504.2 888.2,503.9 888.6,503.6 888.9,503.2 889.3,502.7 889.5,502.2 889.7,501.6 889.9,501.0 890.0,500.4 890.1,499.7 890.1,499.1 890.0,498.4 889.9,497.7 889.8,496.9 889.6,496.2 889.3,495.6 889.0,494.9 888.7,494.2 888.3,493.6 887.9,493.0 887.4,492.5 886.9,492.0 886.4,491.6 885.9,491.2 885.4,490.9 884.8,490.6 884.3,490.4 883.7,490.3 883.2,490.3 882.7,490.3 882.2,490.4 881.7,490.5 881.2,490.8 880.8,491.1 880.4,491.4 880.1,491.8 879.7,492.3 879.5,492.8 879.3,493.4 879.1,494.0 879.0,494.6 878.9,495.3 878.9,495.9 879.0,496.6 879.1,497.3 879.2,498.1 879.4,498.8 879.7,499.4 880.0,500.1 880.3,500.8 880.7,501.4 881.1,502.0 881.6,502.5 882.1,503.0 882.6,503.4 883.1,503.8 883.6,504.1 884.2,504.4 884.7,504.6 885.3,504.7 885.8,504.7 886.3,504.7 886.8,504.6" fill="#fff" stroke="#000" stroke-width="1.0" stroke-linejoin="round" />
<path d="M869.2,513.0L869.6,512.8L889.6,503.8L889.2,504.0ZM869.6,512.8L869.9,512.5L889.9,503.5L889.6,503.8ZM869.9,512.5L870.2,512.3L890.2,503.3L889.9,503.5ZM870.2,512.3L870.4,511.9L890.4,502.9L890.2,503.3ZM870.4,511.9L870.7,511.5L890.7,502.5L890.4,502.9ZM870.7,511.5L870.8,511.1L890.8,502.1L890.7,502.5ZM870.8,511.1L871.0,510.7L891.0,501.7L890.8,502.1ZM871.0,510.7L871.1,510.2L891.1,501.2L891.0,501.7ZM871.1,510.2L871.2,509.7L891.2,500.7L891.1,501.2ZM871.2,509.7L871.2,509.2L891.2,500.2L891.2,500.7ZM871.2,509.2L871.2,508.7L891.2,499.7L891.2,500.2ZM871.2,508.7L871.1,508.2L891.1,499.2L891.2,499.7ZM871.1,508.2L871.1,507.7L891.1,498.7L891.1,499.2ZM871.1,507.7L870.9,507.1L890.9,498.1L891.1,498.7ZM870.9,507.1L870.8,506.6L890.8,497.6L890.9,498.1ZM870.8,506.6L870.6,506.1L890.6,497.1L890.8,497.6ZM870.6,506.1L870.3,505.6L890.3,496.6L890.6,497.1ZM870.3,505.6L870.1,505.2L890.1,496.2L890.3,496.6ZM870.1,505.2L869.8,504.8L889.8,495.8L890.1,496.2ZM869.8,504.8L869.4,504.4L889.4,495.4L889.8,495.8ZM869.4,504.4L869.1,504.0L889.1,495.0L889.4,495.4ZM869.1,504.0L868.7,503.7L888.7,494.7L889.1,495.0ZM868.7,503.7L868.3,503.4L888.3,494.4L888.7,494.7ZM868.3,503.4L867.9,503.1L887.9,494.1L888.3,494.4ZM867.9,503.1L867.5,502.9L887.5,493.9L887.9,494.1ZM867.5,502.9L867.1,502.8L887.1,493.8L887.5,493.9ZM867.1,502.8L866.7,502.7L886.7,493.7L887.1,493.8ZM866.7,502.7L866.3,502.7L886.3,493.7L886.7,493.7ZM866.3,502.7L865.9,502.7L885.9,493.7L886.3,493.7ZM865.9,502.7L865.5,502.7L885.5,493.7L885.9,493.7ZM865.5,502.7L865.1,502.8L885.1,493.8L885.5,493.7ZM865.1,502.8L864.8,503.0L884.8,494.0L885.1,493.8Z" fill="#fff" stroke="#fff" stroke-width="0.8"/>
<polyline points="889.2,504.0 889.6,503.8 889.9,503.5 890.2,503.3 890.4,502.9 890.7,502.5 890.8,502.1 891.0,501.7 891.1,501.2 891.2,500.7 891.2,500.2 891.2,499.7 891.1,499.2 891.1,498.7 890.9,498.1 890.8,497.6 890.6,497.1 890.3,496.6 890.1,496.2 889.8,495.8 889.4,495.4 889.1,495.0 888.7,494.7 888.3,494.4 887.9,494.1 887.5,493.9 887.1,493.8 886.7,493.7 886.3,493.7 885.9,493.7 885.5,493.7 885.1,493.8 884.8,494.0" fill="none" stroke="#000" stroke-width="1.4" stroke-linejoin="round" />
<path d="M869.2,513.0l20.0,-9.0M864.8,503.0l20.0,-9.0" fill="none" stroke="#000" stroke-width="1.4"/>
<polygon points="868.9,513.2 869.2,513.0 869.6,512.8 869.9,512.5 870.2,512.3 870.4,511.9 870.7,511.5 870.8,511.1 871.0,510.7 871.1,510.2 871.2,509.7 871.2,509.2 871.2,508.7 871.1,508.2 871.1,507.7 870.9,507.1 870.8,506.6 870.6,506.1 870.3,505.6 870.1,505.2 869.8,504.8 869.4,504.4 869.1,504.0 868.7,503.7 868.3,503.4 867.9,503.1 867.5,502.9 867.1,502.8 866.7,502.7 866.3,502.7 865.9,502.7 865.5,502.7 865.1,502.8 864.8,503.0 864.4,503.2 864.1,503.5 863.8,503.7 863.6,504.1 863.3,504.5 863.2,504.9 863.0,505.3 862.9,505.8 862.8,506.3 862.8,506.8 862.8,507.3 862.9,507.8 862.9,508.3 863.1,508.9 863.2,509.4 863.4,509.9 863.7,510.4 863.9,510.8 864.2,511.2 864.6,511.6 864.9,512.0 865.3,512.3 865.7,512.6 866.1,512.9 866.5,513.1 866.9,513.2 867.3,513.3 867.7,513.3 868.1,513.3 868.5,513.3" fill="#fff" stroke="#000" stroke-width="1.4" stroke-linejoin="round" />
<polygon points="857.6,472.5 885.7,457.2 882.3,450.8 854.2,466.2" fill="#fff" stroke="#000" stroke-width="1.3" stroke-linejoin="round" />
<path d="M859.0,463.6Q858.3,467.7 861.7,470.2M862.1,461.9Q861.4,466.0 864.8,468.6M865.2,460.2Q864.5,464.4 867.9,466.9M868.2,458.5Q867.5,462.7 870.9,465.2M871.3,456.8Q870.6,461.0 874.0,463.5M874.4,455.2Q873.7,459.3 877.1,461.8M877.5,453.5Q876.8,457.7 880.2,460.2M880.5,451.8Q879.8,456.0 883.2,458.5" stroke="#000" stroke-width="1.2" fill="none"/>
<path d="M854.9,479.9L855.4,479.5L861.5,476.2L861.0,476.5ZM855.4,479.5L855.9,479.1L862.0,475.8L861.5,476.2ZM855.9,479.1L856.3,478.6L862.4,475.3L862.0,475.8ZM856.3,478.6L856.7,478.1L862.8,474.7L862.4,475.3ZM856.7,478.1L857.0,477.5L863.2,474.1L862.8,474.7ZM857.0,477.5L857.3,476.8L863.4,473.4L863.2,474.1ZM857.3,476.8L857.5,476.1L863.6,472.7L863.4,473.4ZM857.5,476.1L857.6,475.3L863.8,472.0L863.6,472.7ZM857.6,475.3L857.7,474.6L863.9,471.2L863.8,472.0ZM857.7,474.6L857.7,473.8L863.9,470.4L863.9,471.2ZM857.7,473.8L857.7,472.9L863.8,469.6L863.9,470.4ZM857.7,472.9L857.6,472.1L863.7,468.7L863.8,469.6ZM857.6,472.1L857.4,471.3L863.6,467.9L863.7,468.7ZM857.4,471.3L857.2,470.4L863.3,467.1L863.6,467.9ZM857.2,470.4L856.9,469.6L863.0,466.3L863.3,467.1ZM856.9,469.6L856.5,468.8L862.7,465.5L863.0,466.3ZM856.5,468.8L856.1,468.1L862.3,464.7L862.7,465.5ZM856.1,468.1L855.7,467.4L861.8,464.0L862.3,464.7ZM855.7,467.4L855.2,466.7L861.3,463.3L861.8,464.0ZM855.2,466.7L854.6,466.1L860.8,462.7L861.3,463.3ZM854.6,466.1L854.1,465.5L860.2,462.1L860.8,462.7ZM854.1,465.5L853.4,465.0L859.6,461.6L860.2,462.1ZM853.4,465.0L852.8,464.6L859.0,461.2L859.6,461.6ZM852.8,464.6L852.2,464.2L858.3,460.8L859.0,461.2ZM852.2,464.2L851.5,463.9L857.7,460.5L858.3,460.8ZM851.5,463.9L850.9,463.7L857.0,460.3L857.7,460.5ZM850.9,463.7L850.2,463.6L856.3,460.2L857.0,460.3ZM850.2,463.6L849.6,463.5L855.7,460.2L856.3,460.2ZM849.6,463.5L848.9,463.5L855.1,460.2L855.7,460.2ZM848.9,463.5L848.3,463.6L854.4,460.3L855.1,460.2ZM848.3,463.6L847.7,463.8L853.8,460.5L854.4,460.3ZM847.7,463.8L847.1,464.1L853.3,460.8L853.8,460.5Z" fill="#fff" stroke="#fff" stroke-width="0.8"/>
<polyline points="861.0,476.5 861.5,476.2 862.0,475.8 862.4,475.3 862.8,474.7 863.2,474.1 863.4,473.4 863.6,472.7 863.8,472.0 863.9,471.2 863.9,470.4 863.8,469.6 863.7,468.7 863.6,467.9 863.3,467.1 863.0,466.3 862.7,465.5 862.3,464.7 861.8,464.0 861.3,463.3 860.8,462.7 860.2,462.1 859.6,461.6 859.0,461.2 858.3,460.8 857.7,460.5 857.0,460.3 856.3,460.2 855.7,460.2 855.1,460.2 854.4,460.3 853.8,460.5 853.3,460.8" fill="none" stroke="#000" stroke-width="2.0" stroke-linejoin="round" />
<path d="M854.9,479.9l6.1,-3.4M847.1,464.1l6.1,-3.4" fill="none" stroke="#000" stroke-width="2.0"/>
<polygon points="854.3,480.2 854.9,479.9 855.4,479.5 855.9,479.1 856.3,478.6 856.7,478.1 857.0,477.5 857.3,476.8 857.5,476.1 857.6,475.3 857.7,474.6 857.7,473.8 857.7,472.9 857.6,472.1 857.4,471.3 857.2,470.4 856.9,469.6 856.5,468.8 856.1,468.1 855.7,467.4 855.2,466.7 854.6,466.1 854.1,465.5 853.4,465.0 852.8,464.6 852.2,464.2 851.5,463.9 850.9,463.7 850.2,463.6 849.6,463.5 848.9,463.5 848.3,463.6 847.7,463.8 847.1,464.1 846.6,464.5 846.1,464.9 845.7,465.4 845.3,465.9 845.0,466.5 844.7,467.2 844.5,467.9 844.4,468.7 844.3,469.4 844.3,470.2 844.3,471.1 844.4,471.9 844.6,472.7 844.8,473.6 845.1,474.4 845.5,475.2 845.9,475.9 846.3,476.6 846.8,477.3 847.4,477.9 847.9,478.5 848.6,479.0 849.2,479.4 849.8,479.8 850.5,480.1 851.1,480.3 851.8,480.4 852.4,480.5 853.1,480.5 853.7,480.4" fill="#fff" stroke="#000" stroke-width="2.0" stroke-linejoin="round" />
<polygon points="852.0,476.4 852.6,476.1 853.1,475.6 853.5,475.0 853.8,474.3 853.9,473.5 853.9,472.7 853.8,471.9 853.5,471.0 853.1,470.3 852.6,469.6 852.1,469.0 851.4,468.5 850.8,468.2 850.1,468.1 849.4,468.1 848.8,468.2 848.2,468.5 847.7,469.0 847.3,469.6 847.0,470.3 846.9,471.1 846.9,471.9 847.0,472.7 847.3,473.6 847.7,474.3 848.2,475.0 848.7,475.6 849.4,476.1 850.0,476.4 850.7,476.5 851.4,476.5" fill="#fff" stroke="#000" stroke-width="1.0" stroke-linejoin="round" />
<path d="M910.5,561.0L910.6,561.6L910.6,568.6L910.5,568.0ZM910.6,561.6L910.7,562.3L910.7,569.3L910.6,568.6ZM910.7,562.3L911.1,562.9L911.1,569.9L910.7,569.3ZM911.1,562.9L911.5,563.5L911.5,570.5L911.1,569.9ZM911.5,563.5L912.0,564.1L912.0,571.1L911.5,570.5ZM912.0,564.1L912.7,564.6L912.7,571.6L912.0,571.1ZM912.7,564.6L913.5,565.1L913.5,572.1L912.7,571.6ZM913.5,565.1L914.3,565.6L914.3,572.6L913.5,572.1ZM914.3,565.6L915.3,566.0L915.3,573.0L914.3,572.6ZM915.3,566.0L916.3,566.4L916.3,573.4L915.3,573.0ZM916.3,566.4L917.4,566.7L917.4,573.7L916.3,573.4ZM917.4,566.7L918.5,567.0L918.5,574.0L917.4,573.7ZM918.5,567.0L919.7,567.2L919.7,574.2L918.5,574.0ZM919.7,567.2L921.0,567.4L921.0,574.4L919.7,574.2ZM921.0,567.4L922.2,567.5L922.2,574.5L921.0,574.4ZM922.2,567.5L923.5,567.5L923.5,574.5L922.2,574.5ZM923.5,567.5L924.8,567.5L924.8,574.5L923.5,574.5ZM924.8,567.5L926.0,567.4L926.0,574.4L924.8,574.5ZM926.0,567.4L927.3,567.2L927.3,574.2L926.0,574.4ZM927.3,567.2L928.5,567.0L928.5,574.0L927.3,574.2ZM928.5,567.0L929.6,566.7L929.6,573.7L928.5,574.0ZM929.6,566.7L930.7,566.4L930.7,573.4L929.6,573.7ZM930.7,566.4L931.7,566.0L931.7,573.0L930.7,573.4ZM931.7,566.0L932.7,565.6L932.7,572.6L931.7,573.0ZM932.7,565.6L933.5,565.1L933.5,572.1L932.7,572.6ZM933.5,565.1L934.3,564.6L934.3,571.6L933.5,572.1ZM934.3,564.6L935.0,564.1L935.0,571.1L934.3,571.6ZM935.0,564.1L935.5,563.5L935.5,570.5L935.0,571.1ZM935.5,563.5L935.9,562.9L935.9,569.9L935.5,570.5ZM935.9,562.9L936.3,562.3L936.3,569.3L935.9,569.9ZM936.3,562.3L936.4,561.6L936.4,568.6L936.3,569.3ZM936.4,561.6L936.5,561.0L936.5,568.0L936.4,568.6Z" fill="#fff" stroke="#fff" stroke-width="0.8"/>
<polyline points="910.5,568.0 910.6,568.6 910.7,569.3 911.1,569.9 911.5,570.5 912.0,571.1 912.7,571.6 913.5,572.1 914.3,572.6 915.3,573.0 916.3,573.4 917.4,573.7 918.5,574.0 919.7,574.2 921.0,574.4 922.2,574.5 923.5,574.5 924.8,574.5 926.0,574.4 927.3,574.2 928.5,574.0 929.6,573.7 930.7,573.4 931.7,573.0 932.7,572.6 933.5,572.1 934.3,571.6 935.0,571.1 935.5,570.5 935.9,569.9 936.3,569.3 936.4,568.6 936.5,568.0" fill="none" stroke="#000" stroke-width="1.6" stroke-linejoin="round" />
<path d="M936.5,561.0l0.0,7.0M910.5,561.0l0.0,7.0" fill="none" stroke="#000" stroke-width="1.6"/>
<polygon points="936.5,561.0 936.4,560.4 936.3,559.7 935.9,559.1 935.5,558.5 935.0,557.9 934.3,557.4 933.5,556.9 932.7,556.4 931.7,556.0 930.7,555.6 929.6,555.3 928.5,555.0 927.3,554.8 926.0,554.6 924.8,554.5 923.5,554.5 922.2,554.5 921.0,554.6 919.7,554.8 918.5,555.0 917.4,555.3 916.3,555.6 915.3,556.0 914.3,556.4 913.5,556.9 912.7,557.4 912.0,557.9 911.5,558.5 911.1,559.1 910.7,559.7 910.6,560.4 910.5,561.0 910.6,561.6 910.7,562.3 911.1,562.9 911.5,563.5 912.0,564.1 912.7,564.6 913.5,565.1 914.3,565.6 915.3,566.0 916.3,566.4 917.4,566.7 918.5,567.0 919.7,567.2 921.0,567.4 922.2,567.5 923.5,567.5 924.8,567.5 926.0,567.4 927.3,567.2 928.5,567.0 929.6,566.7 930.7,566.4 931.7,566.0 932.7,565.6 933.5,565.1 934.3,564.6 935.0,564.1 935.5,563.5 935.9,562.9 936.3,562.3 936.4,561.6" fill="#fff" stroke="#000" stroke-width="1.6" stroke-linejoin="round" />
<line x1="917.0" y1="566.5" x2="917.0" y2="573.5" stroke="#000" stroke-width="1.0" />
<line x1="930.0" y1="566.5" x2="930.0" y2="573.5" stroke="#000" stroke-width="1.0" />
<polyline points="911.8,564.2 917.0,566.5 930.0,566.5 935.2,564.2" fill="none" stroke="#000" stroke-width="1.0" stroke-linejoin="round" />
<polygon points="930.0,560.7 929.9,560.1 929.7,559.5 929.3,558.9 928.8,558.3 928.1,557.9 927.3,557.4 926.5,557.1 925.5,556.9 924.5,556.7 923.5,556.7 922.5,556.7 921.5,556.9 920.5,557.1 919.7,557.4 918.9,557.9 918.2,558.3 917.7,558.9 917.3,559.5 917.1,560.1 917.0,560.7 917.1,561.3 917.3,561.9 917.7,562.5 918.2,563.1 918.9,563.5 919.7,564.0 920.5,564.3 921.5,564.5 922.5,564.7 923.5,564.7 924.5,564.7 925.5,564.5 926.5,564.3 927.3,564.0 928.1,563.5 928.8,563.1 929.3,562.5 929.7,561.9 929.9,561.3" fill="#222" stroke="#000" stroke-width="1.0" stroke-linejoin="round" />
<line x1="924.0" y1="557.8" x2="924.0" y2="564.2" stroke="#fff" stroke-width="0.9" />
<line x1="926.5" y1="558.1" x2="926.5" y2="563.9" stroke="#fff" stroke-width="0.9" />
<rect x="920.2" y="596.0" width="7.6" height="17.5" rx="3" ry="2.5" fill="#fff" stroke="#000" stroke-width="1.4"/>
<path d="M920.8,599.2Q924.0,600.6 927.2,599.2M920.8,601.5Q924.0,602.9 927.2,601.5M920.8,603.8Q924.0,605.2 927.2,603.8M920.8,606.1Q924.0,607.5 927.2,606.1M920.8,608.4Q924.0,609.8 927.2,608.4M920.8,610.7Q924.0,612.1 927.2,610.7" stroke="#000" stroke-width="1.1" fill="none"/>
<path d="M596.4,720.9L597.2,720.6L615.2,715.6L614.4,715.9ZM597.2,720.6L597.2,717.8L615.2,712.8L615.2,715.6ZM597.2,717.8L598.0,717.4L616.0,712.4L615.2,712.8ZM599.7,719.4L600.5,719.0L618.5,714.0L617.7,714.4ZM600.5,719.0L600.3,716.1L618.3,711.1L618.5,714.0ZM600.3,716.1L601.0,715.7L619.0,710.7L618.3,711.1ZM602.9,717.5L603.6,716.9L621.6,711.9L620.9,712.5ZM603.6,716.9L603.2,714.0L621.2,709.0L621.6,711.9ZM603.2,714.0L603.8,713.4L621.8,708.4L621.2,709.0ZM605.8,715.1L606.5,714.4L624.5,709.4L623.8,710.1ZM606.5,714.4L605.8,711.5L623.8,706.5L624.5,709.4ZM605.8,711.5L606.4,710.8L624.4,705.8L623.8,706.5ZM608.5,712.2L609.1,711.4L627.1,706.4L626.5,707.2ZM609.1,711.4L608.2,708.5L626.2,703.5L627.1,706.4ZM608.2,708.5L608.7,707.7L626.7,702.7L626.2,703.5ZM610.8,708.8L611.4,707.9L629.4,702.9L628.8,703.8ZM611.4,707.9L610.3,705.2L628.3,700.2L629.4,702.9ZM610.3,705.2L610.8,704.3L628.8,699.3L628.3,700.2ZM612.9,705.1L613.3,704.1L631.3,699.1L630.9,700.1ZM613.3,704.1L612.1,701.5L630.1,696.5L631.3,699.1ZM612.1,701.5L612.5,700.5L630.5,695.5L630.1,696.5ZM614.6,701.1L615.0,700.0L633.0,695.0L632.6,696.1ZM615.0,700.0L613.5,697.5L631.5,692.5L633.0,695.0ZM613.5,697.5L613.8,696.4L631.8,691.4L631.5,692.5ZM615.9,696.7L616.2,695.5L634.2,690.5L633.9,691.7ZM616.2,695.5L614.7,693.2L632.7,688.2L634.2,690.5ZM614.7,693.2L614.9,692.1L632.9,687.1L632.7,688.2ZM616.9,692.0L617.1,690.8L635.1,685.8L634.9,687.0ZM617.1,690.8L615.4,688.6L633.4,683.6L635.1,685.8ZM615.4,688.6L615.5,687.5L633.5,682.5L633.4,683.6ZM617.5,687.1L617.6,685.9L635.6,680.9L635.5,682.1ZM617.6,685.9L615.8,683.9L633.8,678.9L635.6,680.9ZM615.8,683.9L615.8,682.7L633.8,677.7L633.8,678.9ZM615.8,682.7L617.8,682.1L635.8,677.1L633.8,677.7ZM617.8,682.1L617.7,680.8L635.7,675.8L635.8,677.1ZM617.7,680.8L615.8,679.1L633.8,674.1L635.7,675.8ZM615.8,679.1L615.8,677.8L633.8,672.8L633.8,674.1ZM615.8,677.8L617.6,676.9L635.6,671.9L633.8,672.8ZM617.6,676.9L617.5,675.6L635.5,670.6L635.6,671.9ZM617.5,675.6L615.5,674.1L633.5,669.1L635.5,670.6ZM615.5,674.1L615.4,672.9L633.4,667.9L633.5,669.1ZM615.4,672.9L617.0,671.7L635.0,666.7L633.4,667.9ZM617.0,671.7L616.8,670.4L634.8,665.4L635.0,666.7ZM616.8,670.4L614.8,669.2L632.8,664.2L634.8,665.4ZM614.8,669.2L614.6,667.9L632.6,662.9L632.8,664.2ZM614.6,667.9L616.1,666.5L634.1,661.5L632.6,662.9ZM616.1,666.5L615.8,665.2L633.8,660.2L634.1,661.5ZM615.8,665.2L613.7,664.2L631.7,659.2L633.8,660.2ZM613.7,664.2L613.4,663.0L631.4,658.0L631.7,659.2ZM613.4,663.0L614.8,661.3L632.8,656.3L631.4,658.0ZM614.8,661.3L614.4,660.0L632.4,655.0L632.8,656.3ZM614.4,660.0L612.3,659.3L630.3,654.3L632.4,655.0ZM612.3,659.3L611.9,658.1L629.9,653.1L630.3,654.3ZM611.9,658.1L613.2,656.2L631.2,651.2L629.9,653.1ZM613.2,656.2L612.7,654.9L630.7,649.9L631.2,651.2ZM612.7,654.9L610.6,654.5L628.6,649.5L630.7,649.9ZM610.6,654.5L610.1,653.3L628.1,648.3L628.6,649.5ZM610.1,653.3L611.2,651.2L629.2,646.2L628.1,648.3ZM611.2,651.2L610.6,650.0L628.6,645.0L629.2,646.2ZM610.6,650.0L608.5,649.9L626.5,644.9L628.6,645.0ZM608.5,649.9L608.0,648.8L626.0,643.8L626.5,644.9ZM608.0,648.8L608.8,646.4L626.8,641.4L626.0,643.8ZM608.8,646.4L608.2,645.3L626.2,640.3L626.8,641.4ZM608.2,645.3L606.2,645.5L624.2,640.5L626.2,640.3ZM606.2,645.5L605.6,644.4L623.6,639.4L624.2,640.5ZM605.6,644.4L606.2,641.9L624.2,636.9L623.6,639.4ZM606.2,641.9L605.5,640.8L623.5,635.8L624.2,636.9ZM605.5,640.8L603.6,641.3L621.6,636.3L623.5,635.8ZM603.6,641.3L602.9,640.3L620.9,635.3L621.6,636.3ZM602.9,640.3L603.3,637.7L621.3,632.7L620.9,635.3ZM603.3,637.7L602.6,636.7L620.6,631.7L621.3,632.7ZM600.7,637.5L600.0,636.5L618.0,631.5L618.7,632.5ZM600.0,636.5L600.2,633.8L618.2,628.8L618.0,631.5ZM600.2,633.8L599.4,632.9L617.4,627.9L618.2,628.8ZM597.6,633.9L596.9,633.1L614.9,628.1L615.6,628.9ZM596.9,633.1L596.9,630.3L614.9,625.3L614.9,628.1ZM596.9,630.3L596.0,629.5L614.0,624.5L614.9,625.3ZM594.4,630.8L593.6,630.1L611.6,625.1L612.4,625.8ZM593.6,630.1L593.4,627.2L611.4,622.2L611.6,625.1ZM593.4,627.2L592.5,626.5L610.5,621.5L611.4,622.2ZM591.0,628.1L590.1,627.5L608.1,622.5L609.0,623.1ZM590.1,627.5L589.7,624.6L607.7,619.6L608.1,622.5ZM589.7,624.6L588.8,624.0L606.8,619.0L607.7,619.6ZM587.5,625.8L586.6,625.3L604.6,620.3L605.5,620.8ZM586.6,625.3L586.0,622.4L604.0,617.4L604.6,620.3ZM586.0,622.4L585.1,621.9L603.1,616.9L604.0,617.4ZM583.9,623.9L583.0,623.5L601.0,618.5L601.9,618.9ZM583.0,623.5L582.2,620.7L600.2,615.7L601.0,618.5ZM582.2,620.7L581.2,620.4L599.2,615.4L600.2,615.7ZM580.3,622.6L579.4,622.3L597.4,617.3L598.3,617.6ZM579.4,622.3L578.4,619.5L596.4,614.5L597.4,617.3ZM578.4,619.5L577.4,619.3L595.4,614.3L596.4,614.5ZM576.6,621.7L575.7,621.6L593.7,616.6L594.6,616.7ZM575.7,621.6L574.6,618.9L592.6,613.9L593.7,616.6ZM574.6,618.9L573.6,618.8L591.6,613.8L592.6,613.9ZM573.1,621.3L572.2,621.3L590.2,616.3L591.1,616.3ZM572.2,621.3L570.8,618.8L588.8,613.8L590.2,616.3ZM570.8,618.8L569.9,618.8L587.9,613.8L588.8,613.8ZM569.5,621.5L568.7,621.6L586.7,616.6L587.5,616.5ZM568.7,621.6L567.2,619.2L585.2,614.2L586.7,616.6ZM567.2,619.2L566.3,619.3L584.3,614.3L585.2,614.2ZM565.3,622.4L563.6,620.1L581.6,615.1L583.3,617.4ZM562.0,623.6L560.3,621.6L578.3,616.6L580.0,618.6ZM559.0,625.3L557.1,623.5L575.1,618.5L577.0,620.3ZM556.2,627.6L554.2,625.9L572.2,620.9L574.2,622.6ZM553.6,630.2L551.5,628.8L569.5,623.8L571.6,625.2ZM551.3,633.3L549.2,632.2L567.2,627.2L569.3,628.3ZM549.2,636.7L547.1,635.9L565.1,630.9L567.2,631.7ZM547.5,640.5L545.4,639.9L563.4,634.9L565.5,635.5ZM546.2,644.6L544.1,644.3L562.1,639.3L564.2,639.6ZM545.1,648.9L543.1,649.0L561.1,644.0L563.1,643.9ZM544.5,653.5L542.5,653.9L560.5,648.9L562.5,648.5ZM557.4,704.3L559.3,703.5L577.3,698.5L575.4,699.3ZM560.6,708.1L562.4,707.1L580.4,702.1L578.6,703.1ZM564.0,711.5L565.6,710.2L583.6,705.2L582.0,706.5ZM567.5,714.5L569.0,712.9L587.0,707.9L585.5,709.5ZM571.2,717.0L572.5,715.2L590.5,710.2L589.2,712.0ZM574.9,719.1L576.1,717.1L594.1,712.1L592.9,714.1ZM578.8,720.6L579.7,718.4L597.7,713.4L596.8,715.6ZM582.6,721.7L583.4,719.3L601.4,714.3L600.6,716.7ZM586.4,722.2L586.9,719.7L604.9,714.7L604.4,717.2ZM590.1,722.2L590.5,719.5L608.5,714.5L608.1,717.2ZM593.7,721.7L593.9,718.9L611.9,713.9L611.7,716.7ZM593.9,718.9L594.7,718.6L612.7,713.6L611.9,713.9Z" fill="#fff" stroke="#fff" stroke-width="0.8"/>
<polyline points="614.4,715.9 615.2,715.6 615.2,712.8 616.0,712.4" fill="none" stroke="#000" stroke-width="0.9" stroke-linejoin="round" />
<polyline points="617.7,714.4 618.5,714.0 618.3,711.1 619.0,710.7" fill="none" stroke="#000" stroke-width="0.9" stroke-linejoin="round" />
<polyline points="620.9,712.5 621.6,711.9 621.2,709.0 621.8,708.4" fill="none" stroke="#000" stroke-width="0.9" stroke-linejoin="round" />
<polyline points="623.8,710.1 624.5,709.4 623.8,706.5 624.4,705.8" fill="none" stroke="#000" stroke-width="0.9" stroke-linejoin="round" />
<polyline points="626.5,707.2 627.1,706.4 626.2,703.5 626.7,702.7" fill="none" stroke="#000" stroke-width="0.9" stroke-linejoin="round" />
<polyline points="628.8,703.8 629.4,702.9 628.3,700.2 628.8,699.3" fill="none" stroke="#000" stroke-width="0.9" stroke-linejoin="round" />
<polyline points="630.9,700.1 631.3,699.1 630.1,696.5 630.5,695.5" fill="none" stroke="#000" stroke-width="0.9" stroke-linejoin="round" />
<polyline points="632.6,696.1 633.0,695.0 631.5,692.5 631.8,691.4" fill="none" stroke="#000" stroke-width="0.9" stroke-linejoin="round" />
<polyline points="633.9,691.7 634.2,690.5 632.7,688.2 632.9,687.1" fill="none" stroke="#000" stroke-width="0.9" stroke-linejoin="round" />
<polyline points="634.9,687.0 635.1,685.8 633.4,683.6 633.5,682.5" fill="none" stroke="#000" stroke-width="0.9" stroke-linejoin="round" />
<polyline points="635.5,682.1 635.6,680.9 633.8,678.9 633.8,677.7 635.8,677.1 635.7,675.8 633.8,674.1 633.8,672.8 635.6,671.9 635.5,670.6 633.5,669.1 633.4,667.9 635.0,666.7 634.8,665.4 632.8,664.2 632.6,662.9 634.1,661.5 633.8,660.2 631.7,659.2 631.4,658.0 632.8,656.3 632.4,655.0 630.3,654.3 629.9,653.1 631.2,651.2 630.7,649.9 628.6,649.5 628.1,648.3 629.2,646.2 628.6,645.0 626.5,644.9 626.0,643.8 626.8,641.4 626.2,640.3 624.2,640.5 623.6,639.4 624.2,636.9 623.5,635.8 621.6,636.3 620.9,635.3 621.3,632.7 620.6,631.7" fill="none" stroke="#000" stroke-width="0.9" stroke-linejoin="round" />
<polyline points="618.7,632.5 618.0,631.5 618.2,628.8 617.4,627.9" fill="none" stroke="#000" stroke-width="0.9" stroke-linejoin="round" />
<polyline points="615.6,628.9 614.9,628.1 614.9,625.3 614.0,624.5" fill="none" stroke="#000" stroke-width="0.9" stroke-linejoin="round" />
<polyline points="612.4,625.8 611.6,625.1 611.4,622.2 610.5,621.5" fill="none" stroke="#000" stroke-width="0.9" stroke-linejoin="round" />
<polyline points="609.0,623.1 608.1,622.5 607.7,619.6 606.8,619.0" fill="none" stroke="#000" stroke-width="0.9" stroke-linejoin="round" />
<polyline points="605.5,620.8 604.6,620.3 604.0,617.4 603.1,616.9" fill="none" stroke="#000" stroke-width="0.9" stroke-linejoin="round" />
<polyline points="601.9,618.9 601.0,618.5 600.2,615.7 599.2,615.4" fill="none" stroke="#000" stroke-width="0.9" stroke-linejoin="round" />
<polyline points="598.3,617.6 597.4,617.3 596.4,614.5 595.4,614.3" fill="none" stroke="#000" stroke-width="0.9" stroke-linejoin="round" />
<polyline points="594.6,616.7 593.7,616.6 592.6,613.9 591.6,613.8" fill="none" stroke="#000" stroke-width="0.9" stroke-linejoin="round" />
<polyline points="591.1,616.3 590.2,616.3 588.8,613.8 587.9,613.8" fill="none" stroke="#000" stroke-width="0.9" stroke-linejoin="round" />
<polyline points="587.5,616.5 586.7,616.6 585.2,614.2 584.3,614.3" fill="none" stroke="#000" stroke-width="0.9" stroke-linejoin="round" />
<polyline points="583.3,617.4 581.6,615.1" fill="none" stroke="#000" stroke-width="0.9" stroke-linejoin="round" />
<polyline points="580.0,618.6 578.3,616.6" fill="none" stroke="#000" stroke-width="0.9" stroke-linejoin="round" />
<polyline points="577.0,620.3 575.1,618.5" fill="none" stroke="#000" stroke-width="0.9" stroke-linejoin="round" />
<polyline points="574.2,622.6 572.2,620.9" fill="none" stroke="#000" stroke-width="0.9" stroke-linejoin="round" />
<polyline points="571.6,625.2 569.5,623.8" fill="none" stroke="#000" stroke-width="0.9" stroke-linejoin="round" />
<polyline points="569.3,628.3 567.2,627.2" fill="none" stroke="#000" stroke-width="0.9" stroke-linejoin="round" />
<polyline points="567.2,631.7 565.1,630.9" fill="none" stroke="#000" stroke-width="0.9" stroke-linejoin="round" />
<polyline points="565.5,635.5 563.4,634.9" fill="none" stroke="#000" stroke-width="0.9" stroke-linejoin="round" />
<polyline points="564.2,639.6 562.1,639.3" fill="none" stroke="#000" stroke-width="0.9" stroke-linejoin="round" />
<polyline points="563.1,643.9 561.1,644.0" fill="none" stroke="#000" stroke-width="0.9" stroke-linejoin="round" />
<polyline points="562.5,648.5 560.5,648.9" fill="none" stroke="#000" stroke-width="0.9" stroke-linejoin="round" />
<polyline points="575.4,699.3 577.3,698.5" fill="none" stroke="#000" stroke-width="0.9" stroke-linejoin="round" />
<polyline points="578.6,703.1 580.4,702.1" fill="none" stroke="#000" stroke-width="0.9" stroke-linejoin="round" />
<polyline points="582.0,706.5 583.6,705.2" fill="none" stroke="#000" stroke-width="0.9" stroke-linejoin="round" />
<polyline points="585.5,709.5 587.0,707.9" fill="none" stroke="#000" stroke-width="0.9" stroke-linejoin="round" />
<polyline points="589.2,712.0 590.5,710.2" fill="none" stroke="#000" stroke-width="0.9" stroke-linejoin="round" />
<polyline points="592.9,714.1 594.1,712.1" fill="none" stroke="#000" stroke-width="0.9" stroke-linejoin="round" />
<polyline points="596.8,715.6 597.7,713.4" fill="none" stroke="#000" stroke-width="0.9" stroke-linejoin="round" />
<polyline points="600.6,716.7 601.4,714.3" fill="none" stroke="#000" stroke-width="0.9" stroke-linejoin="round" />
<polyline points="604.4,717.2 604.9,714.7" fill="none" stroke="#000" stroke-width="0.9" stroke-linejoin="round" />
<polyline points="608.1,717.2 608.5,714.5" fill="none" stroke="#000" stroke-width="0.9" stroke-linejoin="round" />
<polyline points="611.7,716.7 611.9,713.9 612.7,713.6" fill="none" stroke="#000" stroke-width="0.9" stroke-linejoin="round" />
<path d="M596.4,720.9l18.0,-5.0M597.2,720.6l18.0,-5.0M599.7,719.4l18.0,-5.0M600.5,719.0l18.0,-5.0M602.9,717.5l18.0,-5.0M603.6,716.9l18.0,-5.0M605.8,715.1l18.0,-5.0M606.5,714.4l18.0,-5.0M608.5,712.2l18.0,-5.0M609.1,711.4l18.0,-5.0M610.8,708.8l18.0,-5.0M611.4,707.9l18.0,-5.0M612.9,705.1l18.0,-5.0M613.3,704.1l18.0,-5.0M614.6,701.1l18.0,-5.0M615.0,700.0l18.0,-5.0M615.9,696.7l18.0,-5.0M616.2,695.5l18.0,-5.0M616.9,692.0l18.0,-5.0M617.1,690.8l18.0,-5.0M617.5,687.1l18.0,-5.0M617.6,685.9l18.0,-5.0M617.8,682.1l18.0,-5.0M617.7,680.8l18.0,-5.0M617.6,676.9l18.0,-5.0M617.5,675.6l18.0,-5.0M617.0,671.7l18.0,-5.0M616.8,670.4l18.0,-5.0M616.1,666.5l18.0,-5.0M615.8,665.2l18.0,-5.0M614.8,661.3l18.0,-5.0M614.4,660.0l18.0,-5.0M613.2,656.2l18.0,-5.0M612.7,654.9l18.0,-5.0M611.2,651.2l18.0,-5.0M610.6,650.0l18.0,-5.0M608.8,646.4l18.0,-5.0M608.2,645.3l18.0,-5.0M606.2,641.9l18.0,-5.0M605.5,640.8l18.0,-5.0M603.3,637.7l18.0,-5.0M602.6,636.7l18.0,-5.0M600.2,633.8l18.0,-5.0M599.4,632.9l18.0,-5.0M596.9,630.3l18.0,-5.0M596.0,629.5l18.0,-5.0M593.4,627.2l18.0,-5.0M592.5,626.5l18.0,-5.0M589.7,624.6l18.0,-5.0M588.8,624.0l18.0,-5.0M586.0,622.4l18.0,-5.0M585.1,621.9l18.0,-5.0M582.2,620.7l18.0,-5.0M581.2,620.4l18.0,-5.0M578.4,619.5l18.0,-5.0M577.4,619.3l18.0,-5.0M574.6,618.9l18.0,-5.0M573.6,618.8l18.0,-5.0M570.8,618.8l18.0,-5.0M569.9,618.8l18.0,-5.0M567.2,619.2l18.0,-5.0M566.3,619.3l18.0,-5.0M563.6,620.1l18.0,-5.0M560.3,621.6l18.0,-5.0M557.1,623.5l18.0,-5.0M554.2,625.9l18.0,-5.0M551.5,628.8l18.0,-5.0M549.2,632.2l18.0,-5.0M547.1,635.9l18.0,-5.0M545.4,639.9l18.0,-5.0M544.1,644.3l18.0,-5.0M543.1,649.0l18.0,-5.0M542.5,653.9l18.0,-5.0M557.4,704.3l18.0,-5.0M560.6,708.1l18.0,-5.0M564.0,711.5l18.0,-5.0M567.5,714.5l18.0,-5.0M571.2,717.0l18.0,-5.0M574.9,719.1l18.0,-5.0M578.8,720.6l18.0,-5.0M582.6,721.7l18.0,-5.0M586.4,722.2l18.0,-5.0M590.1,722.2l18.0,-5.0M593.7,721.7l18.0,-5.0" fill="none" stroke="#000" stroke-width="0.9"/>
<polygon points="594.7,718.6 596.4,720.9 597.2,720.6 597.2,717.8 598.0,717.4 599.7,719.4 600.5,719.0 600.3,716.1 601.0,715.7 602.9,717.5 603.6,716.9 603.2,714.0 603.8,713.4 605.8,715.1 606.5,714.4 605.8,711.5 606.4,710.8 608.5,712.2 609.1,711.4 608.2,708.5 608.7,707.7 610.8,708.8 611.4,707.9 610.3,705.2 610.8,704.3 612.9,705.1 613.3,704.1 612.1,701.5 612.5,700.5 614.6,701.1 615.0,700.0 613.5,697.5 613.8,696.4 615.9,696.7 616.2,695.5 614.7,693.2 614.9,692.1 616.9,692.0 617.1,690.8 615.4,688.6 615.5,687.5 617.5,687.1 617.6,685.9 615.8,683.9 615.8,682.7 617.8,682.1 617.7,680.8 615.8,679.1 615.8,677.8 617.6,676.9 617.5,675.6 615.5,674.1 615.4,672.9 617.0,671.7 616.8,670.4 614.8,669.2 614.6,667.9 616.1,666.5 615.8,665.2 613.7,664.2 613.4,663.0 614.8,661.3 614.4,660.0 612.3,659.3 611.9,658.1 613.2,656.2 612.7,654.9 610.6,654.5 610.1,653.3 611.2,651.2 610.6,650.0 608.5,649.9 608.0,648.8 608.8,646.4 608.2,645.3 606.2,645.5 605.6,644.4 606.2,641.9 605.5,640.8 603.6,641.3 602.9,640.3 603.3,637.7 602.6,636.7 600.7,637.5 600.0,636.5 600.2,633.8 599.4,632.9 597.6,633.9 596.9,633.1 596.9,630.3 596.0,629.5 594.4,630.8 593.6,630.1 593.4,627.2 592.5,626.5 591.0,628.1 590.1,627.5 589.7,624.6 588.8,624.0 587.5,625.8 586.6,625.3 586.0,622.4 585.1,621.9 583.9,623.9 583.0,623.5 582.2,620.7 581.2,620.4 580.3,622.6 579.4,622.3 578.4,619.5 577.4,619.3 576.6,621.7 575.7,621.6 574.6,618.9 573.6,618.8 573.1,621.3 572.2,621.3 570.8,618.8 569.9,618.8 569.5,621.5 568.7,621.6 567.2,619.2 566.3,619.3 566.1,622.1 565.3,622.4 563.6,620.1 562.8,620.4 562.8,623.2 562.0,623.6 560.3,621.6 559.5,622.0 559.7,624.9 559.0,625.3 557.1,623.5 556.4,624.1 556.8,627.0 556.2,627.6 554.2,625.9 553.5,626.6 554.2,629.5 553.6,630.2 551.5,628.8 550.9,629.6 551.8,632.5 551.3,633.3 549.2,632.2 548.6,633.1 549.7,635.8 549.2,636.7 547.1,635.9 546.7,636.9 547.9,639.5 547.5,640.5 545.4,639.9 545.0,641.0 546.5,643.5 546.2,644.6 544.1,644.3 543.8,645.5 545.3,647.8 545.1,648.9 543.1,649.0 542.9,650.2 544.6,652.4 544.5,653.5 542.5,653.9 542.4,655.1 544.2,657.1 544.2,658.3 542.2,658.9 542.3,660.2 544.2,661.9 544.2,663.2 542.4,664.1 542.5,665.4 544.5,666.9 544.6,668.1 543.0,669.3 543.2,670.6 545.2,671.8 545.4,673.1 543.9,674.5 544.2,675.8 546.3,676.8 546.6,678.0 545.2,679.7 545.6,681.0 547.7,681.7 548.1,682.9 546.8,684.8 547.3,686.1 549.4,686.5 549.9,687.7 548.8,689.8 549.4,691.0 551.5,691.1 552.0,692.2 551.2,694.6 551.8,695.7 553.8,695.5 554.4,696.6 553.8,699.1 554.5,700.2 556.4,699.7 557.1,700.7 556.7,703.3 557.4,704.3 559.3,703.5 560.0,704.5 559.8,707.2 560.6,708.1 562.4,707.1 563.1,707.9 563.1,710.7 564.0,711.5 565.6,710.2 566.4,710.9 566.6,713.8 567.5,714.5 569.0,712.9 569.9,713.5 570.3,716.4 571.2,717.0 572.5,715.2 573.4,715.7 574.0,718.6 574.9,719.1 576.1,717.1 577.0,717.5 577.8,720.3 578.8,720.6 579.7,718.4 580.6,718.7 581.6,721.5 582.6,721.7 583.4,719.3 584.3,719.4 585.4,722.1 586.4,722.2 586.9,719.7 587.8,719.7 589.2,722.2 590.1,722.2 590.5,719.5 591.3,719.4 592.8,721.8 593.7,721.7 593.9,718.9" fill="#fff" stroke="#000" stroke-width="1.0" stroke-linejoin="round" />
<polygon points="583.2,678.8 583.7,678.7 584.3,678.4 584.8,678.1 585.3,677.8 585.7,677.3 586.1,676.8 586.5,676.3 586.8,675.7 587.1,675.0 587.3,674.3 587.5,673.6 587.6,672.8 587.6,672.1 587.6,671.3 587.5,670.5 587.4,669.8 587.2,669.0 586.9,668.2 586.6,667.5 586.3,666.9 585.9,666.2 585.5,665.6 585.0,665.1 584.5,664.6 583.9,664.2 583.4,663.8 582.8,663.5 582.2,663.3 581.6,663.1 581.0,663.1 580.4,663.1 579.8,663.2 579.3,663.3 578.7,663.6 578.2,663.9 577.7,664.2 577.3,664.7 576.9,665.2 576.5,665.7 576.2,666.3 575.9,667.0 575.7,667.7 575.5,668.4 575.4,669.2 575.4,669.9 575.4,670.7 575.5,671.5 575.6,672.2 575.8,673.0 576.1,673.8 576.4,674.5 576.7,675.1 577.1,675.8 577.5,676.4 578.0,676.9 578.5,677.4 579.1,677.8 579.6,678.2 580.2,678.5 580.8,678.7 581.4,678.9 582.0,678.9 582.6,678.9" fill="#fff" stroke="#000" stroke-width="1.3" stroke-linejoin="round" />
<rect x="596.4" y="745.2" width="7.6" height="16.8" rx="3" ry="2.5" fill="#fff" stroke="#000" stroke-width="1.4"/>
<path d="M597.0,748.4Q600.2,749.8 603.4,748.4M597.0,750.7Q600.2,752.1 603.4,750.7M597.0,753.0Q600.2,754.4 603.4,753.0M597.0,755.3Q600.2,756.7 603.4,755.3M597.0,757.6Q600.2,759.0 603.4,757.6M597.0,759.9Q600.2,761.3 603.4,759.9" stroke="#000" stroke-width="1.1" fill="none"/>
<path d="M505.6,689.2L510.2,681.1L519.2,677.1L514.6,685.2ZM510.2,681.1L506.2,670.0L515.2,666.0L519.2,677.1ZM506.2,670.0L497.4,666.8L506.4,662.8L515.2,666.0Z" fill="#fff" stroke="#fff" stroke-width="0.8"/>
<polyline points="514.6,685.2 519.2,677.1 515.2,666.0 506.4,662.8" fill="none" stroke="#000" stroke-width="1.3" stroke-linejoin="round" />
<path d="M505.6,689.2l9.0,-4.0M510.2,681.1l9.0,-4.0M506.2,670.0l9.0,-4.0M497.4,666.8l9.0,-4.0" fill="none" stroke="#000" stroke-width="1.3"/>
<polygon points="505.6,689.2 510.2,681.1 506.2,670.0 497.4,666.8 492.8,674.9 496.8,686.0" fill="#fff" stroke="#000" stroke-width="1.2" stroke-linejoin="round" />
<polygon points="504.7,687.8 505.5,687.4 506.3,686.8 507.0,686.1 507.6,685.3 508.0,684.3 508.4,683.3 508.6,682.1 508.7,680.9 508.7,679.6 508.5,678.3 508.3,677.0 507.9,675.8 507.4,674.5 506.7,673.4 506.0,672.3 505.2,671.3 504.4,670.4 503.4,669.7 502.5,669.1 501.5,668.7 500.5,668.4 499.6,668.3 498.6,668.4 497.7,668.6 496.9,669.0 496.1,669.6 495.4,670.3 494.8,671.1 494.4,672.1 494.0,673.1 493.8,674.3 493.7,675.5 493.7,676.8 493.9,678.1 494.1,679.4 494.5,680.6 495.0,681.9 495.7,683.0 496.4,684.1 497.2,685.1 498.0,686.0 499.0,686.7 499.9,687.3 500.9,687.7 501.9,688.0 502.8,688.1 503.8,688.0" fill="#fff" stroke="#000" stroke-width="1.6" stroke-linejoin="round" />
<polygon points="502.9,683.8 503.5,683.5 504.0,683.1 504.4,682.6 504.8,681.9 505.1,681.2 505.2,680.4 505.3,679.5 505.2,678.6 505.0,677.7 504.8,676.8 504.4,676.0 503.9,675.2 503.4,674.4 502.8,673.8 502.2,673.3 501.5,672.9 500.8,672.6 500.1,672.5 499.5,672.5 498.8,672.6 498.3,672.9 497.8,673.4 497.3,673.9 497.0,674.5 496.7,675.3 496.6,676.1 496.5,676.9 496.6,677.8 496.7,678.7 497.0,679.6 497.4,680.5 497.8,681.3 498.3,682.0 498.9,682.6 499.6,683.2 500.2,683.6 500.9,683.8 501.6,684.0 502.3,684.0" fill="#333" stroke="#000" stroke-width="1.2" stroke-linejoin="round" />
<polygon points="501.5,681.4 501.8,681.2 502.1,681.0 502.3,680.6 502.5,680.2 502.6,679.7 502.6,679.2 502.6,678.6 502.6,678.0 502.4,677.4 502.3,676.8 502.0,676.3 501.7,675.7 501.4,675.2 501.0,674.8 500.6,674.4 500.2,674.1 499.8,673.9 499.4,673.8 499.1,673.8 498.7,673.8 498.4,674.0 498.1,674.3 497.9,674.6 497.7,675.0 497.6,675.5 497.5,676.0 497.5,676.6 497.6,677.2 497.7,677.8 497.9,678.4 498.2,679.0 498.4,679.5 498.8,680.1 499.1,680.5 499.5,680.9 499.9,681.2 500.3,681.4 500.7,681.5 501.1,681.5" fill="#ccc" stroke="none" stroke-width="0" stroke-linejoin="round" />
<path d="M445.0,743.2L445.9,742.8L462.9,736.8L462.0,737.2ZM445.9,742.8L445.6,739.8L462.6,733.8L462.9,736.8ZM445.6,739.8L446.4,739.3L463.4,733.3L462.6,733.8ZM448.4,741.3L449.2,740.7L466.2,734.7L465.4,735.3ZM449.2,740.7L448.5,737.7L465.5,731.7L466.2,734.7ZM448.5,737.7L449.2,737.1L466.2,731.1L465.5,731.7ZM451.4,738.6L452.0,737.8L469.0,731.8L468.4,732.6ZM452.0,737.8L451.0,734.9L468.0,728.9L469.0,731.8ZM451.0,734.9L451.6,734.1L468.6,728.1L468.0,728.9ZM453.8,735.2L454.3,734.3L471.3,728.3L470.8,729.2ZM454.3,734.3L453.0,731.5L470.0,725.5L471.3,728.3ZM453.0,731.5L453.4,730.6L470.4,724.6L470.0,725.5ZM455.7,731.1L456.1,730.0L473.1,724.0L472.7,725.1ZM456.1,730.0L454.4,727.6L471.4,721.6L473.1,724.0ZM454.4,727.6L454.7,726.5L471.7,720.5L471.4,721.6ZM456.9,726.6L457.1,725.3L474.1,719.3L473.9,720.6ZM457.1,725.3L455.2,723.2L472.2,717.2L474.1,719.3ZM455.2,723.2L455.3,722.1L472.3,716.1L472.2,717.2ZM457.5,721.6L457.5,720.3L474.5,714.3L474.5,715.6ZM457.5,720.3L455.4,718.6L472.4,712.6L474.5,714.3ZM455.4,718.6L455.4,717.4L472.4,711.4L472.4,712.6ZM455.4,717.4L457.3,716.4L474.3,710.4L472.4,711.4ZM457.3,716.4L457.2,715.1L474.2,709.1L474.3,710.4ZM457.2,715.1L455.0,713.8L472.0,707.8L474.2,709.1ZM455.0,713.8L454.8,712.6L471.8,706.6L472.0,707.8ZM454.8,712.6L456.5,711.1L473.5,705.1L471.8,706.6ZM456.5,711.1L456.2,709.8L473.2,703.8L473.5,705.1ZM456.2,709.8L453.9,709.0L470.9,703.0L473.2,703.8ZM453.9,709.0L453.5,707.8L470.5,701.8L470.9,703.0ZM453.5,707.8L455.0,705.9L472.0,699.9L470.5,701.8ZM455.0,705.9L454.5,704.7L471.5,698.7L472.0,699.9ZM454.5,704.7L452.2,704.4L469.2,698.4L471.5,698.7ZM452.2,704.4L451.7,703.2L468.7,697.2L469.2,698.4ZM451.7,703.2L452.9,701.0L469.9,695.0L468.7,697.2ZM452.9,701.0L452.2,699.8L469.2,693.8L469.9,695.0ZM452.2,699.8L450.0,700.0L467.0,694.0L469.2,693.8ZM450.0,700.0L449.4,699.0L466.4,693.0L467.0,694.0ZM449.4,699.0L450.2,696.4L467.2,690.4L466.4,693.0ZM450.2,696.4L449.4,695.4L466.4,689.4L467.2,690.4ZM447.4,696.1L446.6,695.2L463.6,689.2L464.4,690.1ZM446.6,695.2L447.0,692.4L464.0,686.4L463.6,689.2ZM447.0,692.4L446.1,691.5L463.1,685.5L464.0,686.4ZM444.3,692.8L443.5,692.0L460.5,686.0L461.3,686.8ZM443.5,692.0L443.5,689.1L460.5,683.1L460.5,686.0ZM443.5,689.1L442.5,688.3L459.5,682.3L460.5,683.1ZM440.9,690.0L440.1,689.5L457.1,683.5L457.9,684.0ZM440.1,689.5L439.6,686.5L456.6,680.5L457.1,683.5ZM439.6,686.5L438.7,685.9L455.7,679.9L456.6,680.5ZM437.4,688.0L436.5,687.7L453.5,681.7L454.4,682.0ZM436.5,687.7L435.7,684.7L452.7,678.7L453.5,681.7ZM435.7,684.7L434.7,684.4L451.7,678.4L452.7,678.7ZM433.7,686.8L432.8,686.7L449.8,680.7L450.7,680.8ZM432.8,686.7L431.7,683.8L448.7,677.8L449.8,680.7ZM431.7,683.8L430.7,683.8L447.7,677.8L448.7,677.8ZM430.1,686.5L429.2,686.5L446.2,680.5L447.1,680.5ZM429.2,686.5L427.7,683.9L444.7,677.9L446.2,680.5ZM427.7,683.9L426.8,684.0L443.8,678.0L444.7,677.9ZM426.6,686.9L425.8,687.2L442.8,681.2L443.6,680.9ZM425.8,687.2L424.0,684.8L441.0,678.8L442.8,681.2ZM422.6,688.7L420.6,686.7L437.6,680.7L439.6,682.7ZM419.8,690.9L417.6,689.4L434.6,683.4L436.8,684.9ZM417.4,693.9L415.2,692.8L432.2,686.8L434.4,687.9ZM415.6,697.4L413.3,696.9L430.3,690.9L432.6,691.4ZM414.3,701.5L412.1,701.4L429.1,695.4L431.3,695.5ZM413.7,705.9L411.5,706.4L428.5,700.4L430.7,699.9ZM419.6,732.6L421.6,731.9L438.6,725.9L436.6,726.6ZM422.9,736.5L424.7,735.2L441.7,729.2L439.9,730.5ZM426.5,739.7L428.1,738.0L445.1,732.0L443.5,733.7ZM430.3,742.1L431.6,740.0L448.6,734.0L447.3,736.1ZM434.3,743.6L435.3,741.2L452.3,735.2L451.3,737.6ZM438.3,744.2L438.9,741.5L455.9,735.5L455.3,738.2ZM442.2,744.0L442.4,741.1L459.4,735.1L459.2,738.0Z" fill="#fff" stroke="#fff" stroke-width="0.8"/>
<polyline points="462.0,737.2 462.9,736.8 462.6,733.8 463.4,733.3" fill="none" stroke="#000" stroke-width="0.9" stroke-linejoin="round" />
<polyline points="465.4,735.3 466.2,734.7 465.5,731.7 466.2,731.1" fill="none" stroke="#000" stroke-width="0.9" stroke-linejoin="round" />
<polyline points="468.4,732.6 469.0,731.8 468.0,728.9 468.6,728.1" fill="none" stroke="#000" stroke-width="0.9" stroke-linejoin="round" />
<polyline points="470.8,729.2 471.3,728.3 470.0,725.5 470.4,724.6" fill="none" stroke="#000" stroke-width="0.9" stroke-linejoin="round" />
<polyline points="472.7,725.1 473.1,724.0 471.4,721.6 471.7,720.5" fill="none" stroke="#000" stroke-width="0.9" stroke-linejoin="round" />
<polyline points="473.9,720.6 474.1,719.3 472.2,717.2 472.3,716.1" fill="none" stroke="#000" stroke-width="0.9" stroke-linejoin="round" />
<polyline points="474.5,715.6 474.5,714.3 472.4,712.6 472.4,711.4 474.3,710.4 474.2,709.1 472.0,707.8 471.8,706.6 473.5,705.1 473.2,703.8 470.9,703.0 470.5,701.8 472.0,699.9 471.5,698.7 469.2,698.4 468.7,697.2 469.9,695.0 469.2,693.8 467.0,694.0 466.4,693.0 467.2,690.4 466.4,689.4" fill="none" stroke="#000" stroke-width="0.9" stroke-linejoin="round" />
<polyline points="464.4,690.1 463.6,689.2 464.0,686.4 463.1,685.5" fill="none" stroke="#000" stroke-width="0.9" stroke-linejoin="round" />
<polyline points="461.3,686.8 460.5,686.0 460.5,683.1 459.5,682.3" fill="none" stroke="#000" stroke-width="0.9" stroke-linejoin="round" />
<polyline points="457.9,684.0 457.1,683.5 456.6,680.5 455.7,679.9" fill="none" stroke="#000" stroke-width="0.9" stroke-linejoin="round" />
<polyline points="454.4,682.0 453.5,681.7 452.7,678.7 451.7,678.4" fill="none" stroke="#000" stroke-width="0.9" stroke-linejoin="round" />
<polyline points="450.7,680.8 449.8,680.7 448.7,677.8 447.7,677.8" fill="none" stroke="#000" stroke-width="0.9" stroke-linejoin="round" />
<polyline points="447.1,680.5 446.2,680.5 444.7,677.9 443.8,678.0" fill="none" stroke="#000" stroke-width="0.9" stroke-linejoin="round" />
<polyline points="443.6,680.9 442.8,681.2 441.0,678.8" fill="none" stroke="#000" stroke-width="0.9" stroke-linejoin="round" />
<polyline points="439.6,682.7 437.6,680.7" fill="none" stroke="#000" stroke-width="0.9" stroke-linejoin="round" />
<polyline points="436.8,684.9 434.6,683.4" fill="none" stroke="#000" stroke-width="0.9" stroke-linejoin="round" />
<polyline points="434.4,687.9 432.2,686.8" fill="none" stroke="#000" stroke-width="0.9" stroke-linejoin="round" />
<polyline points="432.6,691.4 430.3,690.9" fill="none" stroke="#000" stroke-width="0.9" stroke-linejoin="round" />
<polyline points="431.3,695.5 429.1,695.4" fill="none" stroke="#000" stroke-width="0.9" stroke-linejoin="round" />
<polyline points="430.7,699.9 428.5,700.4" fill="none" stroke="#000" stroke-width="0.9" stroke-linejoin="round" />
<polyline points="436.6,726.6 438.6,725.9" fill="none" stroke="#000" stroke-width="0.9" stroke-linejoin="round" />
<polyline points="439.9,730.5 441.7,729.2" fill="none" stroke="#000" stroke-width="0.9" stroke-linejoin="round" />
<polyline points="443.5,733.7 445.1,732.0" fill="none" stroke="#000" stroke-width="0.9" stroke-linejoin="round" />
<polyline points="447.3,736.1 448.6,734.0" fill="none" stroke="#000" stroke-width="0.9" stroke-linejoin="round" />
<polyline points="451.3,737.6 452.3,735.2" fill="none" stroke="#000" stroke-width="0.9" stroke-linejoin="round" />
<polyline points="455.3,738.2 455.9,735.5" fill="none" stroke="#000" stroke-width="0.9" stroke-linejoin="round" />
<polyline points="459.2,738.0 459.4,735.1" fill="none" stroke="#000" stroke-width="0.9" stroke-linejoin="round" />
<path d="M445.0,743.2l17.0,-6.0M445.9,742.8l17.0,-6.0M448.4,741.3l17.0,-6.0M449.2,740.7l17.0,-6.0M451.4,738.6l17.0,-6.0M452.0,737.8l17.0,-6.0M453.8,735.2l17.0,-6.0M454.3,734.3l17.0,-6.0M455.7,731.1l17.0,-6.0M456.1,730.0l17.0,-6.0M456.9,726.6l17.0,-6.0M457.1,725.3l17.0,-6.0M457.5,721.6l17.0,-6.0M457.5,720.3l17.0,-6.0M457.3,716.4l17.0,-6.0M457.2,715.1l17.0,-6.0M456.5,711.1l17.0,-6.0M456.2,709.8l17.0,-6.0M455.0,705.9l17.0,-6.0M454.5,704.7l17.0,-6.0M452.9,701.0l17.0,-6.0M452.2,699.8l17.0,-6.0M450.2,696.4l17.0,-6.0M449.4,695.4l17.0,-6.0M447.0,692.4l17.0,-6.0M446.1,691.5l17.0,-6.0M443.5,689.1l17.0,-6.0M442.5,688.3l17.0,-6.0M439.6,686.5l17.0,-6.0M438.7,685.9l17.0,-6.0M435.7,684.7l17.0,-6.0M434.7,684.4l17.0,-6.0M431.7,683.8l17.0,-6.0M430.7,683.8l17.0,-6.0M427.7,683.9l17.0,-6.0M426.8,684.0l17.0,-6.0M424.0,684.8l17.0,-6.0M420.6,686.7l17.0,-6.0M417.6,689.4l17.0,-6.0M415.2,692.8l17.0,-6.0M413.3,696.9l17.0,-6.0M412.1,701.4l17.0,-6.0M411.5,706.4l17.0,-6.0M419.6,732.6l17.0,-6.0M422.9,736.5l17.0,-6.0M426.5,739.7l17.0,-6.0M430.3,742.1l17.0,-6.0M434.3,743.6l17.0,-6.0M438.3,744.2l17.0,-6.0M442.2,744.0l17.0,-6.0" fill="none" stroke="#000" stroke-width="0.9"/>
<polygon points="443.2,740.8 445.0,743.2 445.9,742.8 445.6,739.8 446.4,739.3 448.4,741.3 449.2,740.7 448.5,737.7 449.2,737.1 451.4,738.6 452.0,737.8 451.0,734.9 451.6,734.1 453.8,735.2 454.3,734.3 453.0,731.5 453.4,730.6 455.7,731.1 456.1,730.0 454.4,727.6 454.7,726.5 456.9,726.6 457.1,725.3 455.2,723.2 455.3,722.1 457.5,721.6 457.5,720.3 455.4,718.6 455.4,717.4 457.3,716.4 457.2,715.1 455.0,713.8 454.8,712.6 456.5,711.1 456.2,709.8 453.9,709.0 453.5,707.8 455.0,705.9 454.5,704.7 452.2,704.4 451.7,703.2 452.9,701.0 452.2,699.8 450.0,700.0 449.4,699.0 450.2,696.4 449.4,695.4 447.4,696.1 446.6,695.2 447.0,692.4 446.1,691.5 444.3,692.8 443.5,692.0 443.5,689.1 442.5,688.3 440.9,690.0 440.1,689.5 439.6,686.5 438.7,685.9 437.4,688.0 436.5,687.7 435.7,684.7 434.7,684.4 433.7,686.8 432.8,686.7 431.7,683.8 430.7,683.8 430.1,686.5 429.2,686.5 427.7,683.9 426.8,684.0 426.6,686.9 425.8,687.2 424.0,684.8 423.1,685.2 423.4,688.2 422.6,688.7 420.6,686.7 419.8,687.3 420.5,690.3 419.8,690.9 417.6,689.4 417.0,690.2 418.0,693.1 417.4,693.9 415.2,692.8 414.7,693.7 416.0,696.5 415.6,697.4 413.3,696.9 412.9,698.0 414.6,700.4 414.3,701.5 412.1,701.4 411.9,702.7 413.8,704.8 413.7,705.9 411.5,706.4 411.5,707.7 413.6,709.4 413.6,710.6 411.7,711.6 411.8,712.9 414.0,714.2 414.2,715.4 412.5,716.9 412.8,718.2 415.1,719.0 415.5,720.2 414.0,722.1 414.5,723.3 416.8,723.6 417.3,724.8 416.1,727.0 416.8,728.2 419.0,728.0 419.6,729.0 418.8,731.6 419.6,732.6 421.6,731.9 422.4,732.8 422.0,735.6 422.9,736.5 424.7,735.2 425.5,736.0 425.5,738.9 426.5,739.7 428.1,738.0 428.9,738.5 429.4,741.5 430.3,742.1 431.6,740.0 432.5,740.3 433.3,743.3 434.3,743.6 435.3,741.2 436.2,741.3 437.3,744.2 438.3,744.2 438.9,741.5 439.8,741.5 441.3,744.1 442.2,744.0 442.4,741.1" fill="#fff" stroke="#000" stroke-width="1.0" stroke-linejoin="round" />
<polygon points="438.0,730.6 439.3,730.3 440.4,729.8 441.6,729.1 442.6,728.3 443.6,727.4 444.5,726.3 445.3,725.1 446.0,723.8 446.6,722.5 447.0,721.0 447.4,719.5 447.6,717.9 447.7,716.2 447.7,714.6 447.5,712.9 447.2,711.3 446.8,709.7 446.3,708.1 445.6,706.6 444.9,705.1 444.0,703.8 443.1,702.5 442.1,701.4 441.0,700.3 439.8,699.4 438.6,698.7 437.4,698.1 436.1,697.6 434.8,697.3 433.5,697.2 432.2,697.2 431.0,697.4 429.7,697.7 428.6,698.2 427.4,698.9 426.4,699.7 425.4,700.6 424.5,701.7 423.7,702.9 423.0,704.2 422.4,705.5 422.0,707.0 421.6,708.5 421.4,710.1 421.3,711.8 421.3,713.4 421.5,715.1 421.8,716.7 422.2,718.3 422.7,719.9 423.4,721.4 424.1,722.9 425.0,724.2 425.9,725.5 426.9,726.6 428.0,727.7 429.2,728.6 430.4,729.3 431.6,729.9 432.9,730.4 434.2,730.7 435.5,730.8 436.8,730.8" fill="#fff" stroke="#000" stroke-width="1.1" stroke-linejoin="round" />
<polygon points="435.7,721.8 436.2,721.7 436.8,721.4 437.3,721.1 437.8,720.8 438.2,720.3 438.6,719.8 439.0,719.3 439.3,718.7 439.6,718.0 439.8,717.3 440.0,716.6 440.1,715.8 440.1,715.1 440.1,714.3 440.0,713.5 439.9,712.8 439.7,712.0 439.4,711.2 439.1,710.5 438.8,709.9 438.4,709.2 438.0,708.6 437.5,708.1 437.0,707.6 436.4,707.2 435.9,706.8 435.3,706.5 434.7,706.3 434.1,706.1 433.5,706.1 432.9,706.1 432.3,706.2 431.8,706.3 431.2,706.6 430.7,706.9 430.2,707.2 429.8,707.7 429.4,708.2 429.0,708.7 428.7,709.3 428.4,710.0 428.2,710.7 428.0,711.4 427.9,712.2 427.9,712.9 427.9,713.7 428.0,714.5 428.1,715.2 428.3,716.0 428.6,716.8 428.9,717.5 429.2,718.1 429.6,718.8 430.0,719.4 430.5,719.9 431.0,720.4 431.6,720.8 432.1,721.2 432.7,721.5 433.3,721.7 433.9,721.9 434.5,721.9 435.1,721.9" fill="#fff" stroke="#000" stroke-width="1.1" stroke-linejoin="round" />
<polygon points="385.3,751.4 417.0,733.0 413.0,726.0 381.2,744.5" fill="#fff" stroke="#000" stroke-width="1.3" stroke-linejoin="round" />
<path d="M382.6,743.7Q382.1,748.3 385.6,751.2M385.5,742.1Q384.9,746.6 388.5,749.5M388.3,740.4Q387.8,745.0 391.3,747.8M391.2,738.8Q390.6,743.3 394.2,746.2M394.0,737.1Q393.5,741.6 397.0,744.5M396.9,735.4Q396.3,740.0 399.9,742.9M399.7,733.8Q399.2,738.3 402.7,741.2M402.6,732.1Q402.1,736.7 405.6,739.5M405.4,730.5Q404.9,735.0 408.4,737.9M408.3,728.8Q407.8,733.3 411.3,736.2M411.2,727.2Q410.6,731.7 414.1,734.6" stroke="#000" stroke-width="1.2" fill="none"/>
<path d="M370.0,763.9L370.4,763.7L386.8,754.1L386.4,754.4ZM370.4,763.7L370.8,763.3L387.2,753.8L386.8,754.1ZM370.8,763.3L371.2,762.9L387.6,753.4L387.2,753.8ZM371.2,762.9L371.5,762.5L387.9,752.9L387.6,753.4ZM371.5,762.5L371.7,762.0L388.2,752.4L387.9,752.9ZM371.7,762.0L372.0,761.4L388.4,751.9L388.2,752.4ZM372.0,761.4L372.1,760.8L388.6,751.3L388.4,751.9ZM372.1,760.8L372.3,760.2L388.7,750.7L388.6,751.3ZM372.3,760.2L372.3,759.6L388.8,750.0L388.7,750.7ZM372.3,759.6L372.3,758.9L388.8,749.4L388.8,750.0ZM372.3,758.9L372.3,758.2L388.7,748.7L388.8,749.4ZM372.3,758.2L372.2,757.6L388.6,748.0L388.7,748.7ZM372.2,757.6L372.1,756.9L388.5,747.3L388.6,748.0ZM372.1,756.9L371.9,756.2L388.3,746.7L388.5,747.3ZM371.9,756.2L371.6,755.5L388.1,746.0L388.3,746.7ZM371.6,755.5L371.4,754.9L387.8,745.4L388.1,746.0ZM371.4,754.9L371.0,754.3L387.5,744.7L387.8,745.4ZM371.0,754.3L370.7,753.7L387.1,744.1L387.5,744.7ZM370.7,753.7L370.2,753.1L386.7,743.6L387.1,744.1ZM370.2,753.1L369.8,752.6L386.2,743.1L386.7,743.6ZM369.8,752.6L369.3,752.2L385.8,742.6L386.2,743.1ZM369.3,752.2L368.8,751.7L385.3,742.2L385.8,742.6ZM368.8,751.7L368.3,751.4L384.8,741.8L385.3,742.2ZM368.3,751.4L367.8,751.1L384.2,741.5L384.8,741.8ZM367.8,751.1L367.3,750.9L383.7,741.3L384.2,741.5ZM367.3,750.9L366.7,750.7L383.1,741.1L383.7,741.3ZM366.7,750.7L366.2,750.6L382.6,741.0L383.1,741.1ZM366.2,750.6L365.6,750.5L382.1,741.0L382.6,741.0ZM365.6,750.5L365.1,750.6L381.5,741.0L382.1,741.0ZM365.1,750.6L364.6,750.7L381.0,741.1L381.5,741.0ZM364.6,750.7L364.1,750.8L380.6,741.3L381.0,741.1ZM364.1,750.8L363.7,751.0L380.1,741.5L380.6,741.3Z" fill="#fff" stroke="#fff" stroke-width="0.8"/>
<polyline points="386.4,754.4 386.8,754.1 387.2,753.8 387.6,753.4 387.9,752.9 388.2,752.4 388.4,751.9 388.6,751.3 388.7,750.7 388.8,750.0 388.8,749.4 388.7,748.7 388.6,748.0 388.5,747.3 388.3,746.7 388.1,746.0 387.8,745.4 387.5,744.7 387.1,744.1 386.7,743.6 386.2,743.1 385.8,742.6 385.3,742.2 384.8,741.8 384.2,741.5 383.7,741.3 383.1,741.1 382.6,741.0 382.1,741.0 381.5,741.0 381.0,741.1 380.6,741.3 380.1,741.5" fill="none" stroke="#000" stroke-width="1.5" stroke-linejoin="round" />
<path d="M370.0,763.9l16.4,-9.5M363.7,751.0l16.4,-9.5" fill="none" stroke="#000" stroke-width="1.5"/>
<polygon points="369.5,764.2 370.0,763.9 370.4,763.7 370.8,763.3 371.2,762.9 371.5,762.5 371.7,762.0 372.0,761.4 372.1,760.8 372.3,760.2 372.3,759.6 372.3,758.9 372.3,758.2 372.2,757.6 372.1,756.9 371.9,756.2 371.6,755.5 371.4,754.9 371.0,754.3 370.7,753.7 370.2,753.1 369.8,752.6 369.3,752.2 368.8,751.7 368.3,751.4 367.8,751.1 367.3,750.9 366.7,750.7 366.2,750.6 365.6,750.5 365.1,750.6 364.6,750.7 364.1,750.8 363.7,751.0 363.2,751.3 362.8,751.7 362.5,752.1 362.2,752.5 361.9,753.0 361.7,753.6 361.5,754.1 361.4,754.8 361.3,755.4 361.3,756.1 361.3,756.7 361.4,757.4 361.6,758.1 361.8,758.8 362.0,759.4 362.3,760.1 362.6,760.7 363.0,761.3 363.4,761.8 363.8,762.4 364.3,762.8 364.8,763.2 365.3,763.6 365.8,763.9 366.4,764.1 366.9,764.3 367.5,764.4 368.0,764.4 368.5,764.4 369.0,764.3" fill="#fff" stroke="#000" stroke-width="1.5" stroke-linejoin="round" />
<path d="M368.4,772.2L369.2,771.7L374.3,768.7L373.6,769.2ZM369.2,771.7L369.9,771.1L375.0,768.1L374.3,768.7ZM369.9,771.1L370.5,770.3L375.7,767.3L375.0,768.1ZM370.5,770.3L371.0,769.5L376.2,766.5L375.7,767.3ZM371.0,769.5L371.5,768.6L376.7,765.6L376.2,766.5ZM371.5,768.6L371.8,767.6L377.0,764.5L376.7,765.6ZM371.8,767.6L372.1,766.5L377.3,763.5L377.0,764.5ZM372.1,766.5L372.3,765.3L377.5,762.3L377.3,763.5ZM372.3,765.3L372.4,764.1L377.6,761.1L377.5,762.3ZM372.4,764.1L372.4,762.9L377.6,759.9L377.6,761.1ZM372.4,762.9L372.3,761.6L377.5,758.6L377.6,759.9ZM372.3,761.6L372.1,760.4L377.3,757.3L377.5,758.6ZM372.1,760.4L371.9,759.1L377.0,756.1L377.3,757.3ZM371.9,759.1L371.5,757.8L376.7,754.8L377.0,756.1ZM371.5,757.8L371.0,756.6L376.2,753.5L376.7,754.8ZM371.0,756.6L370.5,755.3L375.7,752.3L376.2,753.5ZM370.5,755.3L369.9,754.2L375.1,751.1L375.7,752.3ZM369.9,754.2L369.2,753.0L374.4,750.0L375.1,751.1ZM369.2,753.0L368.4,752.0L373.6,749.0L374.4,750.0ZM368.4,752.0L367.6,751.0L372.8,748.0L373.6,749.0ZM367.6,751.0L366.8,750.1L372.0,747.1L372.8,748.0ZM366.8,750.1L365.9,749.3L371.0,746.3L372.0,747.1ZM365.9,749.3L364.9,748.6L370.1,745.6L371.0,746.3ZM364.9,748.6L364.0,748.1L369.2,745.1L370.1,745.6ZM364.0,748.1L363.0,747.6L368.2,744.6L369.2,745.1ZM363.0,747.6L362.0,747.3L367.2,744.2L368.2,744.6ZM362.0,747.3L361.1,747.0L366.2,744.0L367.2,744.2ZM361.1,747.0L360.1,746.9L365.3,743.9L366.2,744.0ZM360.1,746.9L359.2,747.0L364.4,743.9L365.3,743.9ZM359.2,747.0L358.3,747.1L363.5,744.1L364.4,743.9ZM358.3,747.1L357.4,747.4L362.6,744.4L363.5,744.1ZM357.4,747.4L356.6,747.8L361.8,744.8L362.6,744.4Z" fill="#fff" stroke="#fff" stroke-width="0.8"/>
<polyline points="373.6,769.2 374.3,768.7 375.0,768.1 375.7,767.3 376.2,766.5 376.7,765.6 377.0,764.5 377.3,763.5 377.5,762.3 377.6,761.1 377.6,759.9 377.5,758.6 377.3,757.3 377.0,756.1 376.7,754.8 376.2,753.5 375.7,752.3 375.1,751.1 374.4,750.0 373.6,749.0 372.8,748.0 372.0,747.1 371.0,746.3 370.1,745.6 369.2,745.1 368.2,744.6 367.2,744.2 366.2,744.0 365.3,743.9 364.4,743.9 363.5,744.1 362.6,744.4 361.8,744.8" fill="none" stroke="#000" stroke-width="2.0" stroke-linejoin="round" />
<path d="M368.4,772.2l5.2,-3.0M356.6,747.8l5.2,-3.0" fill="none" stroke="#000" stroke-width="2.0"/>
<polygon points="367.6,772.6 368.4,772.2 369.2,771.7 369.9,771.1 370.5,770.3 371.0,769.5 371.5,768.6 371.8,767.6 372.1,766.5 372.3,765.3 372.4,764.1 372.4,762.9 372.3,761.6 372.1,760.4 371.9,759.1 371.5,757.8 371.0,756.6 370.5,755.3 369.9,754.2 369.2,753.0 368.4,752.0 367.6,751.0 366.8,750.1 365.9,749.3 364.9,748.6 364.0,748.1 363.0,747.6 362.0,747.3 361.1,747.0 360.1,746.9 359.2,747.0 358.3,747.1 357.4,747.4 356.6,747.8 355.8,748.3 355.1,748.9 354.5,749.7 354.0,750.5 353.5,751.4 353.2,752.4 352.9,753.5 352.7,754.7 352.6,755.9 352.6,757.1 352.7,758.4 352.9,759.6 353.1,760.9 353.5,762.2 354.0,763.4 354.5,764.7 355.1,765.8 355.8,767.0 356.6,768.0 357.4,769.0 358.2,769.9 359.1,770.7 360.1,771.4 361.0,771.9 362.0,772.4 363.0,772.7 363.9,773.0 364.9,773.1 365.8,773.0 366.7,772.9" fill="#fff" stroke="#000" stroke-width="2.0" stroke-linejoin="round" />
<polyline points="355.0,765.5 367.0,757.0" fill="none" stroke="#000" stroke-width="2.6" stroke-linejoin="round" />
<path d="M356.5,751.0 Q364.5,751.0 369.5,757.0" fill="none" stroke="#000" stroke-width="1.0"/>
<path d="M367.0,759.0 Q369.5,766.0 369.0,773.0" fill="none" stroke="#000" stroke-width="1.0"/>
<path d="M763.9,672.6L764.0,673.2L764.0,684.2L763.9,683.6ZM764.0,673.2L764.1,673.8L764.1,684.8L764.0,684.2ZM764.1,673.8L764.4,674.4L764.4,685.4L764.1,684.8ZM764.4,674.4L764.9,675.0L764.9,686.0L764.4,685.4ZM764.9,675.0L765.4,675.5L765.4,686.5L764.9,686.0ZM765.4,675.5L766.0,676.0L766.0,687.0L765.4,686.5ZM766.0,676.0L766.8,676.5L766.8,687.5L766.0,687.0ZM766.8,676.5L767.6,677.0L767.6,688.0L766.8,687.5ZM767.6,677.0L768.5,677.4L768.5,688.4L767.6,688.0ZM768.5,677.4L769.5,677.8L769.5,688.8L768.5,688.4ZM769.5,677.8L770.6,678.1L770.6,689.1L769.5,688.8ZM770.6,678.1L771.7,678.3L771.7,689.3L770.6,689.1ZM771.7,678.3L772.9,678.5L772.9,689.5L771.7,689.3ZM772.9,678.5L774.1,678.7L774.1,689.7L772.9,689.5ZM774.1,678.7L775.4,678.8L775.4,689.8L774.1,689.7ZM775.4,678.8L776.6,678.8L776.6,689.8L775.4,689.8ZM776.6,678.8L777.8,678.8L777.8,689.8L776.6,689.8ZM777.8,678.8L779.1,678.7L779.1,689.7L777.8,689.8ZM779.1,678.7L780.3,678.5L780.3,689.5L779.1,689.7ZM780.3,678.5L781.5,678.3L781.5,689.3L780.3,689.5ZM781.5,678.3L782.6,678.1L782.6,689.1L781.5,689.3ZM782.6,678.1L783.7,677.8L783.7,688.8L782.6,689.1ZM783.7,677.8L784.7,677.4L784.7,688.4L783.7,688.8ZM784.7,677.4L785.6,677.0L785.6,688.0L784.7,688.4ZM785.6,677.0L786.4,676.5L786.4,687.5L785.6,688.0ZM786.4,676.5L787.2,676.0L787.2,687.0L786.4,687.5ZM787.2,676.0L787.8,675.5L787.8,686.5L787.2,687.0ZM787.8,675.5L788.3,675.0L788.3,686.0L787.8,686.5ZM788.3,675.0L788.8,674.4L788.8,685.4L788.3,686.0ZM788.8,674.4L789.1,673.8L789.1,684.8L788.8,685.4ZM789.1,673.8L789.2,673.2L789.2,684.2L789.1,684.8ZM789.2,673.2L789.3,672.6L789.3,683.6L789.2,684.2Z" fill="#fff" stroke="#fff" stroke-width="0.8"/>
<polyline points="763.9,683.6 764.0,684.2 764.1,684.8 764.4,685.4 764.9,686.0 765.4,686.5 766.0,687.0 766.8,687.5 767.6,688.0 768.5,688.4 769.5,688.8 770.6,689.1 771.7,689.3 772.9,689.5 774.1,689.7 775.4,689.8 776.6,689.8 777.8,689.8 779.1,689.7 780.3,689.5 781.5,689.3 782.6,689.1 783.7,688.8 784.7,688.4 785.6,688.0 786.4,687.5 787.2,687.0 787.8,686.5 788.3,686.0 788.8,685.4 789.1,684.8 789.2,684.2 789.3,683.6" fill="none" stroke="#000" stroke-width="1.6" stroke-linejoin="round" />
<path d="M789.3,672.6l0.0,11.0M763.9,672.6l0.0,11.0" fill="none" stroke="#000" stroke-width="1.6"/>
<polygon points="789.3,672.6 789.2,672.0 789.1,671.4 788.8,670.8 788.3,670.2 787.8,669.7 787.2,669.2 786.4,668.7 785.6,668.2 784.7,667.8 783.7,667.4 782.6,667.1 781.5,666.9 780.3,666.7 779.1,666.5 777.8,666.4 776.6,666.4 775.4,666.4 774.1,666.5 772.9,666.7 771.7,666.9 770.6,667.1 769.5,667.4 768.5,667.8 767.6,668.2 766.8,668.7 766.0,669.2 765.4,669.7 764.9,670.2 764.4,670.8 764.1,671.4 764.0,672.0 763.9,672.6 764.0,673.2 764.1,673.8 764.4,674.4 764.9,675.0 765.4,675.5 766.0,676.0 766.8,676.5 767.6,677.0 768.5,677.4 769.5,677.8 770.6,678.1 771.7,678.3 772.9,678.5 774.1,678.7 775.4,678.8 776.6,678.8 777.8,678.8 779.1,678.7 780.3,678.5 781.5,678.3 782.6,678.1 783.7,677.8 784.7,677.4 785.6,677.0 786.4,676.5 787.2,676.0 787.8,675.5 788.3,675.0 788.8,674.4 789.1,673.8 789.2,673.2" fill="#fff" stroke="#000" stroke-width="1.6" stroke-linejoin="round" />
<line x1="770.2" y1="677.9" x2="770.2" y2="688.9" stroke="#000" stroke-width="1.0" />
<line x1="783.0" y1="677.9" x2="783.0" y2="688.9" stroke="#000" stroke-width="1.0" />
<polyline points="765.2,675.7 770.2,677.9 783.0,677.9 788.0,675.7" fill="none" stroke="#000" stroke-width="1.0" stroke-linejoin="round" />
<polygon points="783.0,672.3 782.9,671.7 782.6,671.1 782.3,670.6 781.7,670.0 781.1,669.6 780.3,669.2 779.5,668.9 778.6,668.6 777.6,668.5 776.6,668.5 775.6,668.5 774.6,668.6 773.7,668.9 772.9,669.2 772.1,669.6 771.5,670.0 770.9,670.6 770.6,671.1 770.3,671.7 770.2,672.3 770.3,672.9 770.6,673.5 770.9,674.0 771.5,674.6 772.1,675.0 772.9,675.4 773.7,675.7 774.6,676.0 775.6,676.1 776.6,676.1 777.6,676.1 778.6,676.0 779.5,675.7 780.3,675.4 781.1,675.0 781.7,674.6 782.3,674.0 782.6,673.5 782.9,672.9" fill="#222" stroke="#000" stroke-width="1.0" stroke-linejoin="round" />
<line x1="777.1" y1="669.5" x2="777.1" y2="675.7" stroke="#fff" stroke-width="0.9" />
<line x1="779.6" y1="669.8" x2="779.6" y2="675.4" stroke="#fff" stroke-width="0.9" />
<polyline points="62.0,157.0 88.0,618.0" fill="none" stroke="#222" stroke-width="1.0" stroke-linejoin="round" />
<polyline points="108.0,157.0 134.0,588.0" fill="none" stroke="#222" stroke-width="1.0" stroke-linejoin="round" />
<polyline points="146.0,157.0 163.0,576.0" fill="none" stroke="#222" stroke-width="1.0" stroke-linejoin="round" />
<polyline points="185.0,157.0 222.0,549.0" fill="none" stroke="#222" stroke-width="1.0" stroke-linejoin="round" />
<polyline points="265.0,157.0 265.0,218.0" fill="none" stroke="#222" stroke-width="1.0" stroke-linejoin="round" />
<polyline points="333.0,157.0 333.0,225.0" fill="none" stroke="#222" stroke-width="1.0" stroke-linejoin="round" />
<polyline points="420.0,190.0 364.0,530.0" fill="none" stroke="#222" stroke-width="1.0" stroke-linejoin="round" />
<polyline points="521.0,157.0 444.0,516.0" fill="none" stroke="#222" stroke-width="1.0" stroke-linejoin="round" />
<polyline points="629.5,156.0 629.5,440.0" fill="none" stroke="#222" stroke-width="1.0" stroke-linejoin="round" />
<polyline points="739.5,159.0 739.5,487.0" fill="none" stroke="#222" stroke-width="1.0" stroke-linejoin="round" />
<polyline points="787.5,160.0 777.0,484.0" fill="none" stroke="#222" stroke-width="1.0" stroke-linejoin="round" />
<polyline points="827.0,160.0 808.0,487.0" fill="none" stroke="#222" stroke-width="1.0" stroke-linejoin="round" />
<polyline points="870.5,155.0 851.8,462.0" fill="none" stroke="#222" stroke-width="1.0" stroke-linejoin="round" />
<polyline points="923.0,161.0 923.0,425.0" fill="none" stroke="#222" stroke-width="1.0" stroke-linejoin="round" />
<polyline points="69.5,752.0 69.5,821.0" fill="none" stroke="#222" stroke-width="1.0" stroke-linejoin="round" />
<polyline points="112.0,735.0 112.0,821.0" fill="none" stroke="#222" stroke-width="1.0" stroke-linejoin="round" />
<polyline points="147.5,750.0 147.5,821.0" fill="none" stroke="#222" stroke-width="1.0" stroke-linejoin="round" />
<polyline points="264.5,645.0 264.5,821.0" fill="none" stroke="#222" stroke-width="1.0" stroke-linejoin="round" />
<polyline points="316.0,613.0 316.0,825.0" fill="none" stroke="#222" stroke-width="1.0" stroke-linejoin="round" />
<polyline points="371.0,765.0 371.0,824.0" fill="none" stroke="#222" stroke-width="1.0" stroke-linejoin="round" />
<polyline points="460.5,727.0 460.5,824.0" fill="none" stroke="#222" stroke-width="1.0" stroke-linejoin="round" />
<polyline points="513.0,688.0 513.0,825.0" fill="none" stroke="#222" stroke-width="1.0" stroke-linejoin="round" />
<polyline points="566.0,690.0 566.0,823.0" fill="none" stroke="#222" stroke-width="1.0" stroke-linejoin="round" />
<polyline points="600.4,762.0 603.8,823.0" fill="none" stroke="#222" stroke-width="1.0" stroke-linejoin="round" />
<polyline points="715.8,627.0 715.8,820.0" fill="none" stroke="#222" stroke-width="1.0" stroke-linejoin="round" />
<polyline points="775.5,684.0 775.5,820.0" fill="none" stroke="#222" stroke-width="1.0" stroke-linejoin="round" />
<polyline points="911.8,571.5 879.6,619.8 879.6,820.0" fill="none" stroke="#222" stroke-width="1.0" stroke-linejoin="round" />
<polyline points="924.7,613.0 924.7,822.0" fill="none" stroke="#222" stroke-width="1.0" stroke-linejoin="round" />
<text x="62" y="149" text-anchor="middle" font-family="Liberation Sans, sans-serif" font-size="26" fill="#000">14</text>
<text x="108" y="149" text-anchor="middle" font-family="Liberation Sans, sans-serif" font-size="26" fill="#000">15</text>
<text x="147" y="149" text-anchor="middle" font-family="Liberation Sans, sans-serif" font-size="26" fill="#000">16</text>
<text x="185" y="149" text-anchor="middle" font-family="Liberation Sans, sans-serif" font-size="26" fill="#000">17</text>
<text x="265" y="149" text-anchor="middle" font-family="Liberation Sans, sans-serif" font-size="26" fill="#000">18/19</text>
<text x="333" y="149" text-anchor="middle" font-family="Liberation Sans, sans-serif" font-size="26" fill="#000">21</text>
<text x="429" y="149" text-anchor="middle" font-family="Liberation Sans, sans-serif" font-size="26" fill="#000">22/23</text>
<text x="429" y="180.5" text-anchor="middle" font-family="Liberation Sans, sans-serif" font-size="26" fill="#000">24/25/25a</text>
<text x="520" y="149" text-anchor="middle" font-family="Liberation Sans, sans-serif" font-size="26" fill="#000">26</text>
<text x="628" y="149" text-anchor="middle" font-family="Liberation Sans, sans-serif" font-size="26" fill="#000">27</text>
<text x="738" y="149" text-anchor="middle" font-family="Liberation Sans, sans-serif" font-size="26" fill="#000">28</text>
<text x="785" y="149" text-anchor="middle" font-family="Liberation Sans, sans-serif" font-size="26" fill="#000">29</text>
<text x="825" y="149" text-anchor="middle" font-family="Liberation Sans, sans-serif" font-size="26" fill="#000">30</text>
<text x="867" y="149" text-anchor="middle" font-family="Liberation Sans, sans-serif" font-size="26" fill="#000">31</text>
<text x="923" y="149" text-anchor="middle" font-family="Liberation Sans, sans-serif" font-size="26" fill="#000">32</text>
<text x="65" y="849" text-anchor="middle" font-family="Liberation Sans, sans-serif" font-size="26" fill="#000">11</text>
<text x="110" y="849" text-anchor="middle" font-family="Liberation Sans, sans-serif" font-size="26" fill="#000">13</text>
<text x="148" y="849" text-anchor="middle" font-family="Liberation Sans, sans-serif" font-size="26" fill="#000">12</text>
<text x="260" y="849" text-anchor="middle" font-family="Liberation Sans, sans-serif" font-size="26" fill="#000">11</text>
<text x="316" y="849" text-anchor="middle" font-family="Liberation Sans, sans-serif" font-size="26" fill="#000">10</text>
<text x="369" y="851" text-anchor="middle" font-family="Liberation Sans, sans-serif" font-size="26" fill="#000">9</text>
<text x="460" y="849" text-anchor="middle" font-family="Liberation Sans, sans-serif" font-size="26" fill="#000">8</text>
<text x="513" y="849" text-anchor="middle" font-family="Liberation Sans, sans-serif" font-size="26" fill="#000">7</text>
<text x="565" y="850" text-anchor="middle" font-family="Liberation Sans, sans-serif" font-size="26" fill="#000">5/6</text>
<text x="603" y="849" text-anchor="middle" font-family="Liberation Sans, sans-serif" font-size="26" fill="#000">4</text>
<text x="715" y="849" text-anchor="middle" font-family="Liberation Sans, sans-serif" font-size="26" fill="#000">3</text>
<text x="775" y="848" text-anchor="middle" font-family="Liberation Sans, sans-serif" font-size="26" fill="#000">33</text>
<text x="878" y="848" text-anchor="middle" font-family="Liberation Sans, sans-serif" font-size="26" fill="#000">34</text>
<text x="922" y="848" text-anchor="middle" font-family="Liberation Sans, sans-serif" font-size="26" fill="#000">1</text>
</svg></body></html>
